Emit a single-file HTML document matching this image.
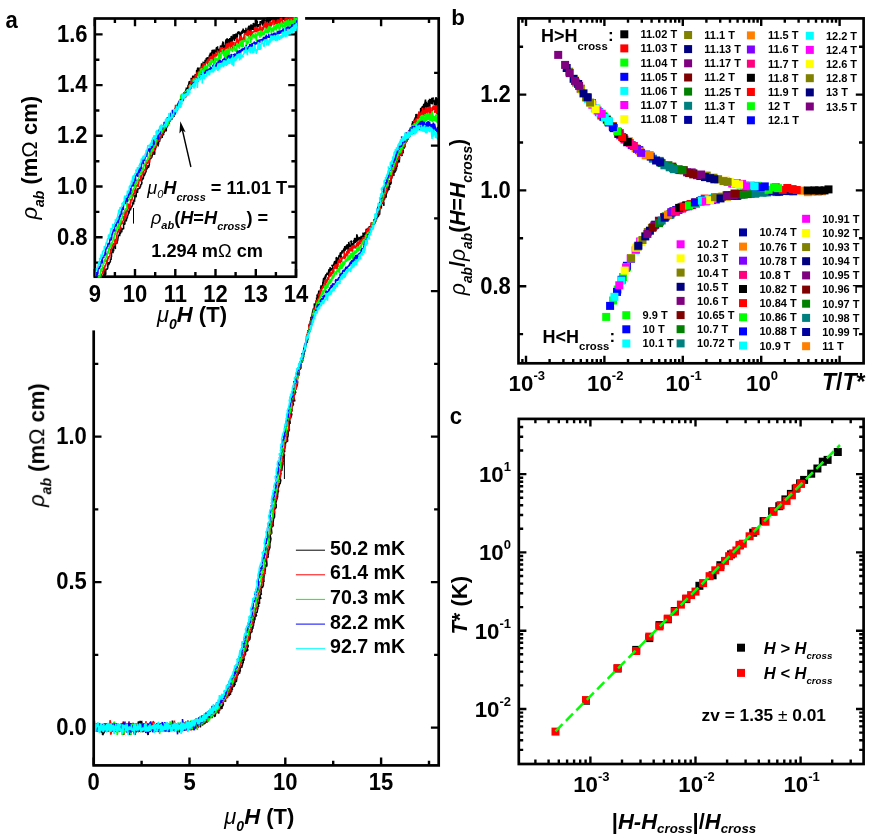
<!DOCTYPE html>
<html><head><meta charset="utf-8"><title>figure</title>
<style>html,body{margin:0;padding:0;background:#fff}body{width:872px;height:838px;overflow:hidden;font-family:"Liberation Sans",sans-serif}</style></head>
<body>
<svg width="872" height="838" viewBox="0 0 872 838" style="display:block;font-family:'Liberation Sans',sans-serif;font-weight:bold;fill:#000">
<rect width="872" height="838" fill="#fff"/>
<g style="opacity:0.9999">
<defs><clipPath id="cm"><rect x="93.7" y="18.4" width="345" height="747"/></clipPath><clipPath id="ci"><rect x="95.6" y="17.2" width="201.7" height="260.6"/></clipPath><clipPath id="cb"><rect x="518.5" y="18.3" width="345.1" height="345"/></clipPath><clipPath id="cc"><rect x="518.8" y="418.9" width="344.7" height="345.1"/></clipPath></defs>
<path d="M93.7 765.4L93.7 757.6M93.7 18.4L93.7 26.2M141.6 765.4L141.6 760.8M141.6 18.4L141.6 23M189.5 765.4L189.5 757.6M189.5 18.4L189.5 26.2M237.4 765.4L237.4 760.8M237.4 18.4L237.4 23M285.3 765.4L285.3 757.6M285.3 18.4L285.3 26.2M333.2 765.4L333.2 760.8M333.2 18.4L333.2 23M381.1 765.4L381.1 757.6M381.1 18.4L381.1 26.2M429 765.4L429 760.8M429 18.4L429 23M93.7 727.6L101.5 727.6M438.7 727.6L430.9 727.6M93.7 654.9L98.3 654.9M438.7 654.9L434.1 654.9M93.7 582.1L101.5 582.1M438.7 582.1L430.9 582.1M93.7 509.4L98.3 509.4M438.7 509.4L434.1 509.4M93.7 436.6L101.5 436.6M438.7 436.6L430.9 436.6M93.7 363.9L98.3 363.9M438.7 363.9L434.1 363.9M93.7 291.1L101.5 291.1M438.7 291.1L430.9 291.1M93.7 218.4L98.3 218.4M438.7 218.4L434.1 218.4M93.7 145.6L101.5 145.6M438.7 145.6L430.9 145.6M93.7 72.9L98.3 72.9M438.7 72.9L434.1 72.9" stroke="#000" stroke-width="2.4" fill="none"/>
<polyline points="92.9,730.7 94,728.8 93.5,728.2 94,724.7 94.5,723.7 94.3,720.6 94.6,729.3 95.5,726.4 96,731.5 95.9,729.2 95.7,725 96.9,727.4 96.6,723.4 96.1,730.7 97.9,725.3 97.6,725.9 97.7,724.6 98.2,731.5 97.8,725.5 98.4,726.1 99.2,731 99.6,729.8 99.9,728 99.3,724.4 99.1,724.2 99.9,730 100.1,729.7 100.8,727 99.9,726.6 100.8,726.2 100.4,731.1 101.2,730.2 101,732 102.2,731.8 102,729.8 102.4,724.5 102.4,731.2 102.1,724.7 102.6,735 104.3,731.8 103.1,728.6 103.6,727.3 104.8,724.9 104,724.8 103.9,728.9 105.8,729.7 106,723.8 104.9,730.1 106.3,726.5 105.2,726.3 106.7,724 106.1,730.4 106.5,723.5 106.4,730.3 107.8,730.7 107.7,724.7 106.8,727.2 107.8,730.3 107.7,731.2 108.6,729.4 109.4,728.3 109.7,728 109.3,723.9 108.9,731.8 109.7,725 110,727.1 110.3,725.1 110.5,729.6 110.6,725.3 111.3,727.6 112,727.3 111,724.3 111,723.7 111.5,728.1 112.9,726.1 111.8,725.7 112.5,725.1 112.3,723.3 112.7,727.5 113.5,725.6 113.9,731.8 114.5,731.4 113.8,728.1 113.8,725.1 114.3,724 115.3,723.9 115.1,731.5 116,723.7 116.4,724.5 116.7,729 115.7,730.9 115.9,730.6 116.3,729.3 116.1,730.4 117.3,731.9 116.7,727.8 118.3,728.2 118.8,727.5 118.4,724.7 117.8,728.9 118.1,725.5 119.3,724.6 119.1,729.9 120.3,728.1 119.4,730.2 119.9,732 119.3,730.2 119.6,731.2 120.9,729.3 121.3,725.4 120.9,728.4 120.6,724.1 122.1,724.2 122,730.8 122.4,724.9 122.8,722.8 122.4,731.7 123.2,724.6 122.3,726 123.5,725.4 123.3,731.4 123.4,729.7 124,723.4 124.7,726 124.3,731.3 124.1,729.3 125.5,729.6 125.4,729.4 125.2,731 126.5,727 125.8,727.9 126.6,723.7 126,727.4 127.3,727.5 126.3,724.1 127.1,727.7 128.3,729 127.3,725.4 128,729.4 128.2,723.2 128,729.6 128.5,729.5 129,727.5 130,735 129.8,724 129.9,731.6 129.4,726.3 130.1,724.7 131,723.4 130.4,727.1 131.2,730.2 131.4,724 131.4,730.3 132.1,729.9 132,724.6 132.2,727.4 132,729.6 132.4,726.5 133.1,729.8 132.6,723.2 133.9,724.1 134.5,728.6 133.7,733.7 134.8,730.6 134.6,728.5 134.5,731.6 134.8,732.8 135.8,729.8 135.8,731.4 135.1,730 136.5,727.9 137.3,730.3 136.7,729.3 137.3,728.3 136.4,727.2 136.9,728.3 137.2,725.5 137.4,730.2 138.2,729.4 138.7,730 138.5,721.3 138.1,723.4 139.9,728.5 139.1,723.2 138.9,723.8 139.6,728.7 139.9,732 140.2,720.8 139.9,724.8 140.4,728.7 141,724.1 140.6,725.3 142.1,723.9 141.5,720.9 141.9,729.7 143.2,732 142.2,723.7 142.7,723.6 144,728.2 144,724.9 143.4,726.7 143.4,725.1 143.4,729.8 145.1,729.1 144,729.5 144.9,727.6 145.5,728.3 144.8,724.5 145.5,729.4 145.5,730.2 145.9,724.2 146,723.3 146,726.3 147.7,724.8 146.6,729.4 148.1,735 148.5,729.7 147.4,726.8 147.8,730.8 147.6,726.3 148.4,726 148.2,725 149.5,728.5 149.3,730.6 149.4,729.3 150.6,728.9 149.7,731.8 151.2,730.2 151.4,724.8 151,730.6 151.4,724 151.1,727.6 151.7,723.9 151.3,723.5 153,723.4 153,724 152.5,725.1 152.4,724.7 152.5,727.4 152.6,725.6 154.3,725.3 154.2,726.7 154.1,728.3 153.6,728.1 155.2,727.7 154.9,728 154.5,730.9 155.7,727.5 155.7,725.5 156.8,727.5 156.6,724.4 156.4,730.3 156.1,728.2 156.7,723.8 156.8,730.6 158.2,730.7 157.4,729.6 158.7,730.4 158.7,724.1 158.2,727.3 158,732.1 158.8,729.2 159.3,729.6 158.9,725.2 159.3,731.5 160.2,723.3 159.6,731.9 161.2,728.1 159.8,729.9 160.7,728.8 160.7,726.8 162.2,727.7 161.9,730.6 161.1,726.7 162.5,726.9 162,723.6 162.8,731.1 163.5,729.8 162.6,727 163.7,726.5 163.3,730.3 164.3,724 164.1,724.4 163.7,727.9 165.1,731.5 164.5,724.4 165.2,728 164.9,726.2 166.1,724.6 165.6,727.1 166.4,728.7 166.4,726 166.6,725.7 166.4,726.8 166.6,731.1 167.2,730.8 168,731.5 167.2,725.6 168.8,728.6 169.1,725 168,725.7 169.2,724.3 168.5,726.2 169.1,725.1 169.3,731.5 170.8,728.5 169.4,724.2 170.2,727.9 171.4,727 170.1,724.5 170.3,725 170.9,727.3 171.3,728.6 171.4,727.9 172.4,727.3 173,724.7 172.5,728.5 172.4,720.6 173,723.7 173.4,723.2 174,724.9 174.6,728.7 174.1,725 174.4,726.4 175.1,726.9 174.5,730.1 174.9,726.9 174.7,722.9 175.5,724.7 175.4,725.4 176,730.5 176.8,727.9 176.1,725.8 177.7,727.8 177.1,726.3 177.9,725 178,723.8 177.2,728.5 178.4,724.4 178.7,727.5 178.1,725.3 178.9,724.4 179.3,732.5 179.5,724.3 180.1,726.1 180,725.5 180.5,722.8 181.3,724.4 180.5,730.6 181.3,727.4 181.6,728.7 181.3,729.2 182.3,729.9 181.5,726.9 182.4,727 182.1,723.8 182.4,729.8 182.8,726.9 182.8,730.9 183.3,728.2 184.5,725.1 184.5,722.9 184.4,726 184.7,730.7 184.2,729.9 185.7,727.8 185.4,729.3 186,724.9 185.8,729 186,726.9 186.2,728.7 186.4,726.6 185.8,726 187.2,726.6 188,727.4 186.6,725.1 187.4,724.6 187.9,728.2 187.9,720.5 188.4,724.9 188.6,723.8 188.6,725.7 188.8,727 190,721.9 189.9,727.7 190.4,723.5 189.3,727.1 190.7,722.3 190.9,722.3 191.3,724.2 191.7,724.4 191.9,728.6 191.5,726.1 191.5,723.2 192.1,726.4 192.6,721.9 192.8,728.9 193.1,726.1 193.2,725.3 192.9,728.9 194,729.6 194.6,721.3 193.7,729.4 194.9,727.9 194,722 195.7,723.2 194.3,720.9 194.7,723.5 196.3,722.7 196.1,728.4 196.7,723 196.3,723.2 197.2,721.9 197.8,726 197.4,721.3 197.3,721.6 198,728.1 197.6,720.4 198.4,725.6 199,720.3 198.3,720.3 198.7,721.4 198.7,722.7 199.6,719.4 199.3,723.2 199.2,720.4 200.3,720.4 200.5,727.4 200.1,721.7 201.1,720.6 200.4,722 202,723.1 201.7,721.1 202.6,725.5 202.7,721 203,717.9 201.9,720.2 202.1,723.7 204,718.1 202.8,716.8 203.8,719 203.8,717 205.1,723.2 204.2,724 205.2,715.1 204.2,719 205.5,718 204.7,719.1 205.7,721.6 206.3,721.6 205.4,717.8 207.2,722.7 206,717.8 207.2,720.1 207.2,720 206.7,721.4 208.4,718.1 207.5,719 208.2,719.5 209.3,715.1 208.2,715 208.4,719.3 210,714 208.7,719 208.8,718.8 209.1,718.2 210.1,716.7 209.9,716 209.9,715 210.5,715.6 211.8,715.4 211.9,718.1 212.3,714.3 211.9,713.3 212.9,712.6 212.2,717.5 211.8,716 212.3,715.3 212.9,712.5 212.7,715.3 213.7,710.6 213.1,713.9 213.8,713.6 214.8,716.9 214.8,716.7 215.6,711.9 215.2,716.1 215.3,714.3 215.1,712 216.5,710.7 216.1,710.4 217.2,711.7 216.4,712.7 217.7,708.2 217.2,708.8 217.7,708.9 217.6,710.4 218.8,713.4 218.8,707.2 217.6,710.5 218.3,710.9 218.5,706.4 218.8,709.2 219.6,707.5 219.8,710.2 219.6,710.2 219.5,708.8 220.6,705 220.6,708.7 220.6,705.8 221,707.8 222.1,708.8 221.3,705.1 222.4,705.2 222.1,707.3 222.9,705 223.1,705.6 223.3,704.6 223.2,701.1 223.4,701.4 223,701.2 223.9,697.8 224.1,701.6 224.2,699.1 224.3,701.2 224.6,700.2 225.1,698.1 225.6,700.9 225.4,701.8 225.4,697.1 225.4,696.3 226.9,698.2 226.7,695 227.1,698 227.2,694.5 227.6,697.2 227.7,694 227.7,695 227.9,693.5 229.2,693.6 229.4,692.6 229,695.8 229.4,695.2 229.7,693.8 229.4,693 230.6,694.7 230.2,690.7 230.5,692.4 230.5,693 230.2,692 231.8,691.4 230.6,687.6 231.4,689.7 232.7,689.4 232,688.5 233.3,685.3 231.9,686.1 233.5,685.1 233.2,685.2 233.3,686.6 234.4,686 233.4,682.7 233.8,685.1 234.2,684.9 235.3,684.6 234.6,683.1 234.9,683.6 235,679.8 236.3,682 236.4,681.2 237,676.9 235.8,679.7 236.9,679 236.4,678.4 236.8,674.9 237.6,676.5 237.1,675.9 238.2,673.1 238.2,673.8 238,675.5 238.5,671.9 238.3,671.6 239.5,673.7 239.8,671.3 239.9,668.7 240.4,671.3 239.6,670.9 239.6,669.1 241.3,666.9 240.8,665.9 241.8,667.6 242.1,666.3 241,666.6 242.4,665.2 242.6,662.4 243.3,663.4 243.1,659.8 242.1,660.4 244,660.5 243.8,658.3 244.5,659.6 243.2,657.6 243.9,657.4 244,655.4 245.5,655.4 244.3,655.5 245.3,654.5 245.6,654.4 245,651 245.2,651.9 246.1,651.8 246.2,650.4 247.6,650.6 247.8,649.7 247.1,648.8 248.2,646.1 248,644.9 247.1,645.6 247.6,642.2 247.9,641.3 248.4,640.5 248.7,639.6 248.7,640.6 250,638.9 249.7,636.5 250.1,638.8 250.1,635.6 249.6,639 249.8,635.9 250.8,632.1 251.1,632 252,632 251.8,630 251.6,631.1 252.9,626.9 252.7,626.7 252.9,628.8 252.9,625.7 253.9,625.9 253.4,625.4 253.8,622.4 253.8,622 254.3,622.5 253.7,618.6 254.8,620.3 255,617.9 254.4,619 255.8,614.7 256.1,616.9 255.4,612.8 256.7,616 255.6,613.3 257.1,612.4 257.6,608.5 256.6,607.3 257.8,608.8 258.1,608.6 257.1,607.2 258.7,606.6 258,602.1 258.8,603 259.5,603.8 259.5,600.4 259.5,601.1 258.8,597.1 260.6,598.8 260.8,598.2 259.8,595.6 260.9,594.4 261.7,593.6 260.9,593.6 261.2,590.2 260.8,589 261.3,586.1 262.2,588 263.3,585.5 263.4,582.4 262.7,582.9 264,581 263.9,581.8 263.8,579.2 263.6,580.4 264,576.7 263.8,577.1 264.6,573 264.2,574.2 265.3,572.8 264.7,572.8 265.4,568.9 265.2,568.2 265.8,564.8 266.8,566.5 266.9,564 266.4,558.7 266.4,558.6 266.8,557.5 268,557.4 268.2,555.6 267.4,553.6 268.2,554.8 268.6,550.8 269.8,547.8 268.9,547.5 269.9,547.8 269.8,543.3 270.1,542.8 270.6,540.4 270.9,538.6 270.3,536.5 270.1,534.6 271,534.2 270.6,532.8 271.8,533.5 271.3,528.1 271.6,527.3 273.3,525.6 273.2,524.6 272.2,524.4 273,523.9 273.6,517.5 273.9,517.1 273.8,518.4 274.5,517.1 274.6,512.1 274.3,511.1 274.6,509.7 275.5,507.8 276.1,508.2 276.2,504.8 275.6,503.4 275.3,505 276.9,498.4 276,501.7 277.6,496.8 277.5,495.8 277.3,495.6 277.4,496.1 277.9,492.2 278.5,491.3 277.8,488.4 278.4,487.9 279.4,484.3 278.4,486.3 279.6,483.3 280,484 280.8,480.1 280.1,479.2 280.2,479.2 279.8,477.4 281.1,472.5 280.5,474 280.6,470.1 281.8,470.7 282.4,463.8 281.7,469.4 282.8,464.4 283,463.9 282.5,462 283.2,462.1 282.9,459.5 283.7,456.3 283.4,455.3 284.8,455.5 283.6,454 284,450.9 284.7,452 284.5,449.4 285.4,445.8 285.1,445.3 285.5,445.7 285.3,444.4 285.9,441.9 286.2,441.8 287.6,441.2 287.4,438.2 287.2,438.5 288,435.9 288.1,434.1 288,430.2 288.9,431.3 289.4,429 288.9,429.8 289.2,424.6 289.4,420.9 290.1,421.8 290,423.9 289.7,419.1 289.7,417.4 291,417.2 291.3,416.1 291.8,414.2 290.6,412.1 291.3,410.3 292.1,411.4 291.8,409.2 291.9,406.2 292.6,405.9 293.5,404.2 292.4,401.2 293.6,401.7 293.3,401.5 293.9,397.6 294.9,401.5 293.6,396.6 295.5,392.5 295.3,392.1 295.8,393.3 294.7,388.9 295.5,388.2 296.3,389.5 295.4,389.2 296.6,386.8 297.4,384.2 297.5,381.5 296.4,380.7 297.5,380 297.6,379.7 297.3,380.2 297.8,372.8 299.2,374.6 298.9,374.8 298.5,375.6 298.7,372.5 299.2,368.3 298.9,369.4 300.4,369.1 299.4,366.2 301,368.7 300.7,365.7 301.1,363.6 300.6,364 302.1,359.9 302.4,362.5 301.3,360.2 302.2,361 301.9,359.8 302.7,358.6 303.7,356.1 303.5,353.7 303,352.9 303.3,353.8 304.1,349.7 303.7,350.1 304.7,347.6 305.3,347.4 305.7,345.7 304.7,347.3 305.2,344.7 305.4,346.1 306.5,341.7 306.9,342 306.7,340 307.1,338 307.3,340.2 308,339.2 307.6,336.2 308.4,333.2 308.8,331.3 307.8,330.2 308.4,333.2 309,330.7 309.5,330.2 309,326.2 309.2,326.7 308.8,324.7 310.5,328.2 309.9,323.9 310.7,324.3 311.1,324.8 310.3,320.6 310.6,323 311,316.9 312.4,322.9 312,317.5 312.2,314.8 312.4,317.3 312,315.9 312.7,311.5 313.5,308.4 314.3,310.9 313.5,309.8 313.9,308.7 314.8,306.1 314.9,307.6 314.4,307.5 314.3,303.6 315,304.8 315.9,303.6 316.6,303.3 315.7,301 316.5,305.8 317,302.9 316.7,301.1 316.6,297.4 318,299.8 317.1,294.5 317,296.4 318.8,296.9 318.1,297.2 318.1,294 318.8,292.6 318.7,291.9 318.8,290.6 318.6,293.2 320.5,290.8 320,291.9 320.8,288.8 321.3,290.2 320.5,287.3 321.5,287.9 321.3,288.9 320.8,285.5 321.7,288.3 322.1,287.4 322.8,284.1 322.8,282 323.4,283.3 323.6,280.9 323.4,281 324,284.1 323,282.7 323.7,277.8 323.9,282.4 324,278.7 325.3,279.2 324.5,276.5 325.3,278.8 326.1,275.6 326.2,276.6 325.2,276.3 326,274.5 327.1,274.8 327.6,272.8 326.9,274.5 326.9,272.7 326.9,274 327.2,272.9 328.1,274.3 329,269.4 328.8,276.5 329.4,272.9 328.7,270.1 328.9,269.7 330.2,271.9 329,269.9 330.8,267.7 329.5,268.1 329.9,268.1 331.1,270.9 330.8,270.4 331.8,268.1 331.6,269.9 332.2,269.5 332,269 332.9,267 332,264.8 332,266.2 333.2,265.2 333.6,265 333.8,264.4 334,265.4 334.1,265.7 333.7,264.7 334.7,261.2 335.6,265.2 334.5,264.8 335.5,261 334.8,265 336.6,259.6 335.3,262.5 336.9,262.7 337.1,269.2 336.9,257.8 336.1,257.6 336.3,260.2 338,261.3 337.2,260.4 338,260.1 338.8,259.9 338.1,259.5 339.6,258.9 338.3,259.3 339.1,255.5 340.2,255.1 340.3,253.7 340.6,257.8 341,252.6 340.1,253.2 340.6,255.1 341.6,257 340.8,258.1 341,253.7 342.2,250.9 342,253.6 342.4,250.3 341.8,251.7 343.5,250.7 343.8,248.9 343.9,252.7 344.3,252.2 344,250.8 343.5,248.7 343.8,248.8 344.6,251.7 343.9,250.6 344.3,250 344.8,246.2 345.1,250.6 346.1,247.3 346.5,245.7 346.8,246.1 345.6,246.8 347,245.2 346.3,246.4 347.5,244.3 346.6,248.5 348.5,249.2 348.5,245.1 347.5,247 348.2,244.3 348.2,247.4 348.9,246.4 348.7,241.9 349.4,245.5 349.7,247.3 349.3,246.3 351,245.4 350.9,246.9 351.3,242 350.5,241.4 350.4,241.6 351.9,241.1 351.2,243.6 352.8,243.9 352.5,244.8 352.9,245.5 352.9,244.1 353.8,244.4 353.9,240 354.2,243.6 353.6,243.4 354.1,243.4 354.5,240.3 354.4,238.6 355.6,238.5 354.4,242.6 354.9,242.5 354.6,241.6 354.8,242.5 356.1,241.8 355.5,242.3 355.8,239.6 355.9,239.4 356.9,241.7 357.8,237.4 356.6,240.2 356.8,234.4 358.6,240.4 358.8,238.9 358,238.8 359.4,238.3 359.1,238.3 358.7,237.3 358.7,238.1 360,237.4 360.3,240.8 361,236.9 361.3,239.2 361.4,237.9 361.2,235.8 360.7,239.2 361.3,239.5 362.5,239.1 361.8,237.2 362.5,236.3 362.9,236.7 363.1,234.8 363.4,234.5 363.4,236.5 362.9,232.6 363.3,234.3 364.3,237.1 364.6,235.4 365.3,232.3 364.4,234.2 364.1,233 365.4,234.5 365.9,233.6 366.5,231.9 366.3,234.2 366.7,230 365.9,233.2 366.2,228.8 366.3,229.3 367.4,229.4 367.5,231 367.2,232 368.2,228.2 367.9,228.6 368,229.8 369.5,226.3 369.3,229 368.4,227 370.1,229.3 369.7,228.8 370,227.5 370,228.7 369.9,227.6 371.2,226 371.7,225.9 371.4,227.5 372.2,227.6 371.3,224.9 371.8,223 373,224.7 371.8,224.9 372.8,225.8 373.4,224.9 372.7,223.6 374.2,221.1 374.5,220.8 374.3,222.8 375,223.3 374,219.2 374.1,220.7 374.7,220.7 375.9,220.1 375.6,221.9 375.4,217.5 375.7,216.6 375.5,218.7 376.7,215.2 377.2,216.9 377.4,218.2 377,217.4 377.2,217.5 378.3,215.9 378.3,211.1 378.3,216.5 379,214.4 378.4,208.8 378.1,214.6 378.4,213.3 379.3,212.9 379.9,208.3 379.6,214.7 379.5,208.7 380.4,207.2 380.2,206.3 381.3,208.5 381.4,205 380.7,205.4 381.4,204.2 381.4,204 382.6,202.3 382.1,204.1 382.8,202.1 383.8,201.8 383.9,205.8 383.2,200 382.8,202.2 384.8,197.8 383.6,197 384.6,197 384.7,199.1 384.7,199.4 384.8,195.1 386.2,197.5 386.1,194.6 386.6,193.2 385.5,189 385.8,191.2 386.4,191.4 386.3,192.9 386.6,190.1 387.1,192.3 387.6,191 388.8,186.7 387.6,189.5 389.3,189.5 388.4,187.2 389.6,186.3 389.6,187.7 389.3,183.5 390,184.7 389.7,180.2 389.9,181.3 390.3,184.5 391.2,182.9 390.9,181 391.3,177 391.2,180.3 391.5,176.2 392,178 391.6,177.4 391.7,178.6 391.9,177.2 393.7,173 394,175.9 392.9,170.5 393,170.2 393.1,171.6 394.6,173.3 393.9,172.7 394.4,168.7 394.8,172.5 396.1,170 394.8,169.7 395.8,165.7 396.5,169.4 396.4,166.2 397.1,165.9 396.5,166 397.5,167.1 397,166.5 397.3,162.4 398.5,162.8 397.5,162.8 399.1,159.8 398,161.6 398.7,162.1 399.7,156.6 399.3,160.9 399.3,162.6 399.3,153.5 400.4,154.4 399.5,154.7 400.7,154.1 401.5,155.7 401.1,151.8 401.9,151.9 400.8,149.9 400.9,154.5 402.2,155.9 401.4,152.5 403.2,152.9 403.1,149.7 402.4,149.8 402.6,146 404.2,148.5 404.4,144.8 404.8,143.3 404.8,144.4 405,147.4 404.6,142.3 404.3,140.1 404.6,142.2 405,142.1 405.9,140.9 406.8,137.9 406.3,141.2 405.6,142.1 406.9,141.3 406.7,134.9 407.3,134.9 407.1,138.2 408.6,138.7 407.4,139.2 408.5,137.8 408.8,131.4 408.6,137.6 408.8,134.9 409.8,129.2 410,134.5 410.4,128.5 409.8,132.5 411.1,133.9 409.8,128.3 411.6,128.4 411.4,132.4 410.8,129.6 411.6,130.6 411.8,130.1 411.1,127.7 412.7,127.1 411.7,123.5 413.2,126.3 412.9,123.6 412.6,121.2 412.7,127.3 413.7,124.1 413.3,126.4 414.6,123.9 413.8,124.7 414.9,120.4 414.2,121.1 414.6,118.9 414.7,120.8 415.2,117.4 415.7,117.8 416,117.5 415.7,119 416,114 417.3,117.7 418,114.6 417.4,116.9 417.8,114.7 418.3,115.8 417.4,118.6 418.8,113.1 419.6,112.8 419.4,118.3 419.6,115 418.6,114.3 420.6,114.1 420.6,108.9 421,108 420.4,114.2 420.9,112.3 421,112.8 421.3,109.1 422,107.8 421.7,112 422.3,111.3 421.7,109.3 422.2,110.1 422.2,106.6 423.2,107 422.9,110.1 423.8,103.9 423.2,109.3 424.4,110.9 424.2,108.4 425.1,103.5 425.6,107.5 425.7,109.6 425.1,110 424.8,103.8 425.5,99.6 425.8,108 426.7,110 425.9,103.8 426.3,103.6 426.5,101.8 426.4,104.2 427.5,103.4 427.5,107.1 428.8,100.7 428.4,100.9 429,108.1 429.6,101.3 429.2,104.7 429,100.4 429.9,106.9 429.6,98.7 429.2,107.6 429.8,103.5 429.9,102.6 431.4,102.7 430.7,99 430.5,101.8 431.5,103.6 431.4,103.8 431.8,97.8 432.1,100.5 432.4,104.4 431.9,103 433.3,97.5 432.6,102 433.7,99.8 433.7,100.5 433.9,101.1 434.5,104.9 434.6,100.4 434.8,102 435.8,102.7 435.4,99.9 435.9,97.3 436.3,98.1 435.8,105.9 436.9,99.6 435.6,97.6 436.9,105.5 436.6,104.6 437.9,100 438.2,108.1 437,99.2 438.2,98.9 438.7,97.7 438.1,104.5 439.1,98.4 439.8,104.3" fill="none" stroke="#000000" stroke-width="1.6" stroke-linejoin="bevel" clip-path="url(#cm)"/>
<polyline points="92.8,727.5 93.7,725.4 94.5,728.9 95.2,727.4 94.2,727.5 94.2,728.9 95,726.4 94.6,730.1 95.8,729.8 96.4,726.5 96.5,724.4 97.3,728.2 96.7,731.1 96.7,730.1 96.6,730.4 97.5,727.3 97.2,731.9 98,725.2 98.6,725.1 98.2,727 99,731.4 98.2,727.2 98.7,724.3 99.4,729.8 99.5,729.4 99.5,725.6 100.6,729.1 99.6,723.2 100.5,728.4 101,731.4 101.8,728.2 102.2,730.4 101.6,726.2 102.6,729.8 103.1,728.8 103.1,726.5 103.1,730.8 103.2,730.2 102.9,731.8 103.8,729 103.8,725 103.2,731 104.6,723.1 104.5,730.4 104.3,730.9 105.8,730.5 105,726.3 104.6,729.5 105.6,724.3 106,729.6 105.7,723.7 106.3,728.3 106.9,725 106.2,731.4 107,725.7 106.8,727.8 107.2,731.3 107.8,730.8 107.4,729.9 108.3,731.1 107.9,724.4 108.6,726.8 108.8,730.4 109.7,729.4 109.2,725 110.3,727.5 109.8,728.4 110,720.2 111.6,726.6 110.2,724.9 110.8,734.6 111.8,730.3 111.7,726.2 111.4,726 112.6,730.6 112.6,726.3 113.5,730.3 113.6,723.3 114,725.5 114,724.3 114.2,729.2 113.4,724.6 113.9,727 114,730.6 114.3,729.1 114.8,728.5 115,731.9 115,723.6 115.8,731.1 116.8,729.8 115.5,723.3 117,731.8 116.1,727.2 116.4,729.7 117.4,727 117.6,723.9 117,723.8 118.2,725.8 118.1,723.8 117.7,725.3 119,724.9 118.3,725.1 120.1,729.1 118.9,725 118.8,726.9 119.8,728.4 119.7,725.1 120.7,727.7 121.6,729.2 120.2,729 121.6,728.3 121.6,726.3 121.3,731.9 121.7,731.4 122.6,728.4 122.6,726.7 123.4,721.4 123.5,729.6 123.3,728.1 123.7,729.4 123.8,727.2 123.9,735 124.4,725.6 124.8,726.4 124.4,732.2 125.2,721.5 124.7,729.9 125.1,727.3 126.5,723.6 125.7,727.5 126.7,730.5 126,725.2 127.3,723.8 126.2,727.2 126.8,730.6 128,726.9 128.3,730.7 127.5,723.7 127.5,724.4 129,725.2 128.4,730.9 129.1,726 128.5,729.8 129,721.4 130.2,726.1 129.6,729.3 129.6,727.9 129.8,728.9 131,725.4 131.6,729.8 130.9,728 132,725.1 131.5,725.8 131.4,729.5 132.4,729.5 133.2,728.7 132.3,727 133.4,731.1 133.2,728.2 133.2,724.6 134.5,726.4 133.6,729.3 134.9,727.9 135.2,735 135.6,724.3 134.7,724.5 135.1,730.1 135.9,730.3 135.5,723.4 136.8,726.9 135.4,728.8 137.3,726.9 136.1,728.9 137,726.3 137.2,729.8 136.9,723.4 138.2,730.6 138,727.1 138.5,731.6 139,728.7 139,731.4 138.1,731.6 139.1,726.5 140,730.4 140.3,725.7 140.1,726.2 140.3,723.4 140,731.1 141.4,731.9 140.5,725.7 140.9,729.4 142.3,727 142.4,723.3 142.4,727.2 142.3,730.2 142.9,727.7 142.3,728.1 142.8,725.3 143.3,726.1 143.1,725.6 144.1,731.2 143.3,730.5 143.8,730.7 145.2,729.6 144.8,725.4 144.1,723.6 145.1,729.2 146.1,721.2 145.3,731.9 145.3,731 146.1,729.8 146.9,727.4 146.8,723.9 147.6,729.1 147.9,731.1 147.5,725.8 148,728.9 148.8,726.5 147.8,725.7 147.9,730.7 149.3,731.2 148.9,730.1 148.9,729.6 148.9,724.4 150.3,723.7 149.2,725.4 149.9,722.4 149.6,728.4 151.2,723.7 151,724.9 151.8,727.7 152.3,728.3 151.9,722.6 152.1,723.9 153,729.6 153.3,731.6 153.4,730.1 152.8,726.9 153.1,721.3 154.3,723.2 154.1,725.6 154,727.7 154.1,730.8 154.7,729.9 154.7,724.2 154.6,727.4 156,728.3 155.9,724.3 155.2,729.3 155.4,726.7 157.1,724.7 156.9,730.1 156.7,726.3 157.2,723.9 157.3,727.6 157.3,728.2 157.6,728.8 157.1,723.4 158.4,728.5 159.1,729.8 158.6,726.9 159.6,731.4 159.7,729.7 160,728.5 160.6,726.4 159.2,727.9 160.5,731.3 160.7,724.1 160.2,726.7 160.3,728.9 160.9,728.9 161.8,724.7 161.4,723.6 162.2,730.9 161.5,728.9 162.7,730.4 162.3,730.3 162.8,730.5 162.6,727.7 163.3,730 163.5,728.3 164.7,723.9 164.5,723.3 165.1,729.5 164.7,725.7 165.3,730.3 165.1,731.8 166,729.5 165.3,728.9 166.5,728.8 165.5,724 166.5,730.4 166.2,726.6 167.8,727.3 167.5,724.3 166.7,724 168,724.7 167.2,729.3 168.4,730.7 169.2,730.1 169,730.3 168.2,730.2 169.2,729.6 169.4,725.3 169.4,724.4 169.3,726.4 169.5,724.2 169.8,724.7 170.1,728.9 171,730.6 170.5,728.1 172.2,723.5 171.8,727 172.6,729.4 171.5,728.1 173.1,724.6 173,730.3 173.5,728.6 172.9,724.5 173.2,725 174.2,728 174.6,728.4 173.7,728.9 174.5,720.6 174,727.9 174.3,725.5 175.5,725.8 176,726.6 175.1,726.8 175.8,723.5 176.7,729 176.4,728.7 177,728.2 177,726.4 177.9,726.8 176.8,727 177.5,725 177.2,727.6 178.1,728.4 178.6,723.3 178.4,728.5 179.4,727.7 178.9,730.5 180.1,727.4 179.3,726.3 180.3,726.5 180.6,725.8 180.4,724.8 180.9,730.7 181.6,723.5 180.8,726.7 180.6,722.3 181,727.9 181.6,728 182.4,729.4 182.9,730.4 182,723.9 183.8,722.1 182.8,730.6 184.2,727.7 182.8,724.4 183.7,722.5 184.5,728.7 184.8,722.7 185.6,729.5 185.8,726.7 184.8,728.3 185.8,722 186.3,727 186,723.1 186.1,729.3 186.3,726.9 186,729.7 187.6,723.4 187.4,730.4 187,730.3 186.9,721.8 187.8,729.4 187.6,727.4 189,724.2 188.6,729.4 189.4,723 189.4,727 189.8,726 189.6,726.4 190.1,722.2 190.6,728.1 190.3,724 190.2,730.5 190.6,721.3 192,723.4 190.6,729.8 191.9,729.6 192.8,722.2 191.8,724.3 192.1,729.6 191.9,723.1 192.2,724.2 193.1,726 194.2,720.7 192.9,723.2 193.6,723.4 193.3,721.1 195.3,726 194,724.5 195.5,721.8 195.8,728.6 196.1,724.2 196.6,727.5 196.1,721.8 197,724.3 196.1,718.7 196.6,719.6 197.3,719.4 197,721.3 197.1,721.7 197.5,721.3 197.6,726.7 198.6,726.8 199,725.4 198.5,725.1 199.2,725.6 198.8,719.6 199.5,726 199.9,718.8 199.1,719.7 199.7,721.5 200.4,724.9 200.2,723.7 200.6,723.5 200.3,722.5 200.6,719.3 201.2,717.8 202,717.8 202.4,723.9 202.2,719.6 203.4,724.4 203.4,722.1 203.8,721.5 204.2,717.4 203.2,719.4 203.4,723 204.4,721.4 203.9,716.7 204.1,721.9 205.2,720.4 205.3,721.2 205.6,722.1 205.9,716.7 205.8,719.8 207.1,718.1 206.7,718 206.8,712.8 206.4,720 207.6,717.9 208,714 208.5,716.2 207.9,718.4 208.2,718.6 208.2,719.4 208,716.6 208.6,716.2 209.2,717.8 208.9,719.9 210.5,716.8 210.2,715.4 209.4,713.4 210.6,716.5 211,713.6 210.5,712.2 212.1,714.6 210.7,716.8 212.2,712.6 212.5,711.6 211.8,711.4 211.8,714 213.4,711.5 212.2,713.7 213.2,710.4 213.6,710.6 213.2,710.4 213.9,712.6 214.3,714.9 215.2,710 214.3,709.4 215,709 215.1,710.4 216,711.6 214.8,712.5 215.8,713.5 215.4,709.6 217.3,713.1 216.7,708.6 216.9,712.4 216.5,707.3 217.7,712.1 218.4,703.4 217.9,706.7 217.5,709.4 217.6,707.2 218.3,704.6 219.5,708.1 219.4,710.4 218.8,704.9 219,705.3 219.7,704.1 219.7,707 220.3,703 220.1,701.9 221.3,705.6 221.4,704.1 221.1,704 221.2,703.3 221.5,703 221.7,700.2 223.1,701.5 223,702.9 223.3,702.3 222.8,703.5 224.2,699.8 223.7,697.8 223.9,700.1 224.4,700.3 224.9,699.2 224.9,701.4 224.9,698.3 224.5,697.3 226.2,698.8 226.3,697.4 225.7,696.8 225.3,694.1 226.7,695.5 226.4,692.9 227.2,695.1 226.4,692.2 228.2,692.2 227.1,695.9 227.6,697.8 227.8,691.5 227.8,691 228.3,690.9 229.4,692.5 229.9,693 229.7,692.7 229.1,688.9 230.6,691.3 230.2,688.8 230.2,688.1 231,685.2 231.5,685.5 230.8,686.3 232.1,686.1 230.9,686.2 232.6,686.2 232.3,685.4 232.8,685.4 233.5,681.4 232.7,683 233.7,682.5 232.6,683.1 234.5,679.7 234.1,681.4 233.9,678.5 234.7,678.3 234.5,681.2 235.2,676.2 234.6,677.6 236,675.1 235.8,678.8 236.3,674.6 236.8,676.2 235.7,675.8 237.5,675 237,674.1 238,673.2 236.8,672.1 237.6,671.6 238.6,668.9 237.8,669.6 238.3,668.4 239.5,668.8 238.7,669.9 239,669.6 239.5,667.5 240.1,665.4 240.3,665.7 239.5,665.1 240.7,665.4 240.2,661.5 241.1,664.1 241.1,660.5 240.7,660.4 242,658.4 241.7,658.4 241.7,658.7 243.3,657.2 243.5,655.4 243.8,658.5 243.1,657.5 242.8,654.6 244.4,655.6 244.5,652.8 243.9,651.7 245,651.5 245.2,652 244.2,649.2 245.2,649 245.5,649.9 245.4,645.6 246.6,647.7 245.7,645.1 246.6,643.6 247,645.8 247,640.8 247.8,640.1 246.9,639.7 247.2,642 248.2,640.7 248.5,636.5 248.9,635.8 249.5,637.5 249.5,634.2 249.1,633.2 249.5,632.5 249,632.5 249.5,633.5 250,629.8 250.5,629.6 251,629.1 251.4,627.1 250.5,627.6 250.9,624.3 252.3,623.7 252.4,624.7 252,623.8 252.8,623.1 251.8,620.3 253,619.9 252.6,618.8 252.6,617.3 253.4,616.9 253.3,617.1 254.3,614.3 255.2,612.8 255.1,614.2 254.6,613.7 255.6,609.2 255.2,610.7 255.1,608.6 256.6,609.1 257,606.1 255.6,603.6 255.8,605.9 256.9,604 258,601.3 258.2,602.6 257.4,600.1 257.6,600.4 257.5,597.7 258,596.9 258.9,596.2 258.1,595.5 258.9,593.4 258.7,592.5 259.3,592.3 259.7,591.3 259.3,589.1 259.8,589.3 260.3,586.7 261.6,586 261.9,583.4 262,581.7 262.2,582.1 262.1,581.3 262.2,578.9 263.1,579.6 262.7,576.3 262.8,575.2 262.8,574.1 264,575.4 264.5,570.2 264,571.1 263.8,571.3 265.3,566.9 264.4,568.3 265.5,567.5 264.5,563.5 264.8,562 264.9,561.7 265.3,561.8 266.3,557.6 266,558.7 266.6,557.2 267.3,553.8 267.2,550.9 268,553.2 267.7,549.2 267.9,547.9 267.8,546.4 269.1,546.6 269.4,542.4 268.6,540.8 268.3,541.5 268.8,538.9 269,537.9 269.1,534.2 269.8,532.4 271.3,534.1 269.9,528.8 271.2,528.4 270.7,528.5 270.7,527.7 271.7,526.2 272,522.6 271.3,520.9 271.9,517.8 272.6,517.5 273,515.5 272.8,514 273.1,513.8 274.5,511.8 273.7,509.6 273.9,510.3 274.2,505.7 275.4,504.5 274.1,505.3 275.2,503.1 275,500.2 276.3,500 275.5,496.1 276.5,497.8 276.3,496.6 277.5,491.6 276.4,490.2 276.4,492.1 278,490 277.1,485 278.5,484.2 277.4,482.7 278.9,481.5 279.3,481.9 278.1,481 279.6,479 279.7,477.8 280.4,477.1 280.7,473.4 280.2,471.9 280.2,470.3 281.1,470.2 281.6,465.6 281.7,466 281.6,466.1 281.8,463.8 282.4,460 283.1,459.1 281.7,458.4 282.3,456.3 283.7,454.7 283.4,453.3 283.8,454.9 283,449.6 283.7,449.1 284.1,450.3 285.3,445.4 284.6,444.4 284.3,446.1 284.4,443 284.7,440.9 284.9,440.8 286.8,440.7 285.9,439.2 286.3,436.7 286,435.2 287,431 287,430.4 286.6,431.7 288.1,430.4 288.8,425.9 288.8,428.7 289,428.3 287.9,422.1 288.4,421.5 289.8,418.5 289.3,418 288.9,418 289.7,418 290.6,418.9 290.1,414.9 290.4,414.5 291.8,410.8 291.2,407.6 291.4,409.8 292.1,405 291.2,407.4 291.5,402 292,405.1 291.8,401 292.8,399.9 292.9,399.7 294.1,399.4 293.7,395 293.1,396.9 295,394 294.9,392.5 293.9,392.9 294.3,390.1 296,387.3 296.1,388.8 296.6,385.4 295.4,387.3 296.3,385.1 297.2,383.7 297.6,381.6 297.2,381.6 297.3,379.1 296.6,377.2 297.6,378.7 298.1,374.9 297.9,372.3 299.2,371.4 299.1,375.3 299.4,372.9 298.8,372.3 299.9,367.4 299.6,368.6 299.6,365.8 300.5,367.7 300.8,366.1 300.1,362.8 300.5,367.6 300.8,362 301.8,360.5 301,358.4 301.5,359.1 303,361.1 302.5,354.6 303,355.9 303.5,354.4 304,352.6 304,354.5 304.1,352.8 303.7,351.5 304.2,348.9 304.1,348.3 305.6,348.3 304.1,346.8 306.1,346.6 305,346 305.7,343.8 306,343.1 306.5,341.6 306.2,339.7 307.3,339.5 306.7,339 306.4,336.6 307.1,334.2 308.6,336.2 307.9,336 307.4,332.5 307.8,334.6 309.5,332.2 309.2,327.1 309.9,328.9 309.8,330.3 308.8,329.9 309.1,324.9 310,322.8 310.2,322.9 310.6,321 310.9,321.5 312,323.8 312.2,319.8 311.5,318.5 311.1,318.9 311.9,320 312.4,316.2 312.7,314.4 312.9,313.7 312.9,313.2 313.2,314.3 314.2,308 314.1,312.7 313.4,310.8 314.8,314.9 315.3,309.8 314.4,312.2 315.2,307.7 316.3,304.3 315.9,304.4 316.3,304.1 316.5,303.1 315.6,300.3 317.4,306.6 317.4,299.7 317,302.5 316.7,301.5 317.8,300.9 318.6,300.8 317.8,299 317.9,299.9 318.1,298.4 319.4,298 319,294.9 319.6,293.7 318.8,294.8 319.8,296.5 320.4,291.3 319.8,292.8 319.9,293.7 321.7,293.4 321.5,292.6 320.6,289.9 320.9,289 322.3,292.2 321.5,289.7 322.9,286.5 323,287.6 322.6,288.2 322.9,286 323.2,287.1 323.3,287.8 323.9,284 323.7,284.2 325.2,285.7 324.5,286 325.8,285.3 325.8,283.7 325.8,282.7 326.1,280.4 325.1,283.1 325.4,281.7 325.7,279.2 326.5,280.5 326.6,282.7 327.8,279 327.5,277.2 328.3,278.2 328.1,280.2 328.9,276.5 328.7,278.4 328.1,279.8 328.1,277 328.4,277.8 329.4,276.6 329.4,274.3 330.2,272.6 329.6,275 331.1,272.2 330.5,274.2 330.3,276.6 331.5,274.4 331.1,275.5 332.6,270.8 331.2,275.2 332.8,271.7 333.2,269.1 333,274.2 332.4,270.1 332.5,273.4 333.9,271 333.9,272 333.6,267.2 334.5,268.6 335,267.3 334,266.2 335.7,267.6 336,268.2 335.6,265.5 334.9,264.4 336.2,266.2 336.8,267.4 337.3,266.7 335.9,268.7 336.4,264.5 337.9,264.2 338.3,264.6 338.5,264.7 338.3,266.7 337.6,265.8 337.9,265.9 338.2,260.5 338.4,262.6 338.7,260.5 339.4,260 339,262.7 339.9,261.8 340.7,263.6 340.1,261.9 341.3,259 340.1,258 341.9,258.9 341.3,262.1 341.4,258.7 342.3,257.5 341.6,258.8 341.6,257.6 343.3,258.2 343.4,257.2 343.7,257.9 344.3,256.8 343.3,255.8 344.8,259 344,251.4 344.3,255.6 344.1,255.2 345.2,258.2 345.5,253.5 344.8,256 345.5,256.9 346.8,252.4 347.1,251.4 346.5,255.3 347,256.1 346.8,254.1 347.9,253.7 346.9,255.9 346.8,253.4 347.1,252 347.8,250.2 348.1,252.6 348.6,251.9 348.7,251.7 349.3,253 348.7,253.1 349.5,248.4 349.2,248.5 350.7,248.4 350.6,251.4 350.4,248.4 351.5,247.5 351.5,248.8 351.9,251.3 350.9,246.8 351.9,250.4 352.6,251.5 352.5,246.3 351.9,245.8 353.1,248.1 352.8,248.6 352.7,246.7 353.5,246.1 354.1,244.9 354.1,248.5 354.4,245.8 354.6,247.5 355.2,245.7 355.8,248.6 355.5,246 356,246.9 356.6,247.2 356.3,244.5 357.3,243 357.5,246.2 357.2,243.2 357.5,242.9 357.1,243.2 358,242.1 358.8,243.2 357.4,245.4 358.6,246.3 358.5,242 359.1,242.9 359.8,244.4 358.7,243.5 359.4,240.6 360.2,242.3 359.8,239.6 359.6,243.5 361.3,243.3 361.6,244.6 361.8,240.9 361.4,242.2 362,240 361.3,241.3 361.9,239.4 362.6,239 363.6,238.5 363.3,237.3 363,238 363.4,238.1 363.4,240.4 363.5,237.2 364.6,239.4 364.6,239.4 365.5,235.5 365,235.5 365.5,238.5 366.2,235.5 366.2,237.2 365.8,233.7 366,234.3 365.9,235.3 367.1,231.5 366.5,233.6 366.6,230.1 367.5,232.6 367.5,228.2 367.6,232.1 368.5,230.8 369,231.1 368.3,230.6 369,227.2 369.1,230.5 369.6,228.9 369.5,229.4 370,231.2 369.5,226.9 370.5,230.3 370.5,227.6 370.9,227.3 371.2,223.8 371.3,226.2 371,222.7 372.4,223 372.4,223.8 372.5,227.2 373.1,225.2 373.2,226.1 373,221.9 373.7,224.8 374.5,221.5 373.4,219.6 374.5,220.9 375.3,220 375.5,220.8 374.9,220.9 374.3,221 375,219.5 376.4,220 375.7,219 376.9,219.3 376,215 376.8,218.2 377.1,214.4 376.6,216.9 377.4,212.9 377.5,215.6 377.3,213.8 378.9,212.8 378.6,213.2 379.1,213.6 378.2,210.8 379.9,207.7 379.3,206.8 378.8,209.4 379.5,207.4 380.9,208.7 380.1,208.2 380.3,204.4 380.7,203.6 381.3,205.6 380.6,202.8 381.8,203.1 382.1,201.2 383,203.3 382.3,198.7 383.2,199.8 383.8,197.8 383.3,200.9 383.9,199 383,194.9 384.8,194.6 384.5,197.3 383.6,192.3 384.5,194.7 384.6,194 384.8,189 385.2,190.7 385.8,190.5 386.5,193.1 386.8,188.2 387.2,186.4 387.1,187.6 387.8,186.6 386.7,187.3 388.2,184.5 387.3,185.6 388.7,180.6 387.3,183.5 389.3,181.3 388.5,180 388.2,180.2 389.3,182.3 389.2,181.9 388.9,182.4 390.2,181.6 391.1,179.8 390.2,175 390.1,177.2 391.8,176.3 391.9,178.2 392.1,174.5 392.6,173.3 392.4,174.2 392.6,171.5 392.5,173.5 392.5,172.5 393,167.7 393.2,169.6 392.9,170.1 393.5,169.8 393.9,170.2 394.5,167.6 394.9,166.3 395.6,167.6 394.1,166.8 395.7,165 394.7,167.5 395.9,166.4 396.1,161.1 395.7,164.8 397,164.2 396.9,162.2 396.7,159.2 397.3,160 397.4,158.1 397.3,157.9 398,155 398.1,159.4 398.6,158.4 398.2,155.3 399.3,158.7 398.4,154.6 399.8,154.5 400,155.6 399.5,154.1 400.9,151.1 401.2,155.3 400.5,154.4 401,154.2 402,153.6 401.7,147.6 401.5,150.6 402.3,151.6 401.6,148.4 403,149.3 402.7,145.7 403.8,147.4 403.9,143.1 403.1,142.4 403.3,143.4 404.8,146.8 404.5,143.5 404,142.8 404.2,143.4 405.7,139.2 405.8,143.4 405.6,142.6 406,142 405.7,139.1 406.1,137.4 407,136.3 407.5,139.9 406.2,135.5 406.9,139.9 407.7,138.1 408.2,134.3 408.8,133.6 408.3,135.3 409,136 409.1,135.5 408.7,130.4 409.1,136.5 410.2,136 410,130.4 410.1,133.7 409.9,134.8 409.8,132.9 411.2,127.5 411.5,130.2 410.7,130.4 410.7,127.7 411.5,129.1 411.9,124.6 412.2,130 411.9,130.5 413.2,128.2 412.4,127.5 414.1,123.8 413.5,127.9 414.1,126.7 413.3,125.5 414.2,126.2 414.8,124 413.8,120 414.8,121.9 415.9,125.1 414.8,122.2 416.4,122.1 415.2,122.1 415.4,124.3 416.4,118.2 416.2,119.3 416.6,121.5 416.6,121.9 417.8,123.1 418.3,115.8 417.1,116.4 419,117.2 418.2,115.7 419.2,111.3 418.2,117.8 418.7,115 419.1,116.8 420.4,117.2 419.1,117.4 419.6,117.2 419.6,112.8 420.8,119.1 420.6,117 420.3,118.3 421.5,111.7 422,114.9 421.9,111.2 422.2,115.2 422.6,108 422.4,111.6 423.7,117.7 422.4,114.1 424.3,111 423,112.1 424.4,110.6 424.2,115.9 424.6,110.1 424.9,115.3 425.6,111.3 425.4,113.2 425,108.2 426.1,112.5 426.5,109.7 425.3,107.9 426.1,107.8 427,110.6 427.3,114.4 427,111.8 426.7,110.8 428.6,111 427.4,109.5 429,110.7 427.7,107 429.6,114.5 429,106.8 429.3,110.4 429.9,117.9 429.6,106.6 430.6,112.3 430.7,110.1 429.8,112.3 431,107.1 430.1,110.5 430.8,113 431.3,113.7 431.4,113.3 432,113.2 432.4,109.6 431.8,108.3 432.3,109.2 433.3,105.8 432.9,110 433.8,107.8 433.7,109.7 433.1,107.3 434.4,105.6 435.3,108.2 434.3,106.7 435.4,108.8 434.5,112.7 435.7,111.8 436.4,108.6 436.2,105.9 436.4,111.7 437.1,114.4 437.3,112.7 436.4,113.5 437,112.4 438.1,110.9 436.9,111 437.8,105.6 438.3,103.7 439.3,108.4 438.6,106.7 439.1,112.7" fill="none" stroke="#ff0000" stroke-width="1.6" stroke-linejoin="bevel" clip-path="url(#cm)"/>
<polyline points="94.3,731.6 94.2,723.9 94.4,723.3 95.3,730.3 94.3,731.4 95.4,724.6 94.5,729 94.7,729.6 95.4,729.7 96.2,731.7 96,727.7 96.2,724.2 96.2,726.3 96.5,730.5 97.7,728.9 96.8,726.3 97.1,723.9 97.6,729.7 98.7,727.4 99.2,729.3 99.5,725.3 99.3,731.7 99.4,724.2 98.6,730.1 99,731.4 100.7,728 99.9,726.3 100.7,724.3 100.6,725.6 100.4,724.7 101.6,725.2 100.6,729.9 102.2,726.7 101.4,728.1 101.5,728.5 103.1,724.8 102.9,725.2 102.2,730.6 103.3,728.6 104.1,729.6 102.9,726.8 103.1,730.2 103.4,724.4 104.2,724.5 104.1,727.3 104.1,725.7 105.2,727.4 105.3,729.7 106.3,730.8 106.5,728.9 106.8,728.9 107.2,727.2 106.2,730.8 107.5,723.4 107.9,727.4 108.1,728.4 107.6,723.6 107.9,728.3 107.9,729.7 109,729.3 108.1,725.8 109.1,724.7 109.8,730.5 109.8,729.8 109.3,724.4 109.2,730.9 110.9,731.4 110,725.2 110.8,727.3 111,730 110.6,728.1 111.8,725.6 112.4,727.5 111.7,728 112.7,729.5 112,726.7 112.5,728.5 113.5,723.5 113.4,729.7 114.3,727.4 113.3,723.5 114.6,721.6 113.7,728.4 114.3,730.5 114.4,728 115.7,731.5 115.2,723.7 116.1,731.5 115.8,730.8 116.1,730.9 116.8,724.1 117,728.3 116.1,731.4 116.9,731.6 117.3,730.8 117.2,735 118,730.7 118.7,730.6 117.7,723.2 117.9,725.7 118.2,730.7 118.5,729.9 118.4,728.3 118.6,732 119.4,724.2 119.1,728.2 119.9,730.7 120.5,726.6 121.2,727.6 121.3,730.1 120.6,729.4 122.1,730 122.4,729.8 121.9,726.7 123,723.6 121.6,730 122.2,735 122.4,729.6 122.9,723.2 124.2,724.8 124.5,730 124,724.3 124.1,733.5 124.5,725.9 124.5,724.2 124.5,727.2 125.6,729.7 125.6,731 125.9,729 125.7,728.2 126.6,724.8 126.8,730 126.1,730.4 126.7,731.1 126.6,723.9 127.6,730.7 128.4,730.5 127.6,726.7 129,731.9 129,731.6 129,728.3 128.9,726 129.5,726 129.8,725.8 130.5,731 130.8,729.3 129.4,728.9 130,731.4 131.3,735 130.1,728.7 132,723.6 130.8,728.1 132.1,730.2 132.3,723.3 133.1,730.4 132.7,731.4 132,728.2 132.1,727.2 132.6,731.4 133.8,723.5 134.5,730.2 133.4,724.6 133.7,724.5 135.3,730.2 134.1,728.2 135.1,723.7 134.9,724.4 136.1,723.9 135,725.1 136.2,728.8 136,732 136.9,732 136.5,726 137.1,729.9 136.8,727.3 138.2,728.2 138.5,728 137.9,727.8 138.2,731.9 138.1,729.3 138.2,731.1 138.9,725.8 139.8,724.1 139.9,730 140.4,723.9 139.4,727.2 141,731.9 141.2,728.2 140.6,724.5 141.1,726.8 140.3,729.3 142.1,726.1 141.8,723.7 142.7,726.6 142.5,724.2 143.3,726.4 142,728.6 142.9,726.3 143.4,723.2 143.6,730.9 143.4,729.7 143.8,730.2 144.2,730.8 143.8,729.2 144.2,728.7 144.1,725.4 144.9,725.5 146,728 146.5,728.5 146.8,726.1 145.8,728.4 146.4,727.5 146.3,731.2 147.7,727.1 147,727.9 146.9,728.6 147.7,727.4 147.7,731.7 147.9,727.8 147.6,726.4 148.2,726.7 149,725.7 148.3,726.5 150.2,724.9 150.1,727.9 150.1,729.2 149.7,725.2 151.2,730.9 151.2,729.7 151.7,726.3 151.9,726.1 150.7,725.9 151.2,730 151.6,728.8 151.5,725.5 152.5,731 153.3,726.1 152.1,729.7 153.3,731.7 154.2,723.3 153.5,725.8 153.3,727.1 153.6,727.2 154.8,731.3 155.4,727.4 155.8,723.8 156,726 154.7,731.7 155.4,723.7 155.8,731.9 157.1,723.9 156.4,726.5 156.9,731.9 156.4,728.8 157.7,731.2 158.1,729.8 157.3,724.4 158.4,730 157.9,723.3 159.2,726.8 158.6,723.5 158.1,729.1 159.9,730.9 159.6,734.1 159.8,731.5 160.2,726.9 161,730.3 160.4,730.8 161.1,728.6 160.7,726.6 161,728 160.9,726.4 162,727.2 162,731.8 162.5,723.7 163.1,724.9 162.8,727.9 162.2,730.5 164.1,729.9 163,729.3 164.1,730.7 164.7,730.9 165.1,724.2 164.6,728 165.4,724.1 165.7,724.7 164.7,728.7 166,729.2 165.1,727.4 165.4,730 165.7,728 166.2,729 166,725.2 166.4,725.9 167,725.2 167.1,727.7 167,729.6 168.8,725.3 167.7,726 169,723.2 168,731.1 168.3,724.3 169.6,725.1 168.7,728.4 170.4,729.1 169.6,727.2 170.1,726.9 170.1,721.3 171.2,729.7 170.6,723.6 171.9,727.4 171.9,727.7 172.5,727.1 171.3,726.6 171.5,726.8 173.2,724 172.4,725.6 173.6,729.3 173.2,722.8 174.3,727.8 174.5,725.8 173.4,725.5 174,727.8 174.5,725.3 175.1,727 174.3,730.6 174.4,731.4 175.8,729.8 175.6,725.6 175.1,727.4 176.2,726.6 176.8,723.9 177.3,730.9 177.7,723.3 177.4,725.5 178.3,728.4 178.6,724.2 178.6,727.1 178.6,722.6 178.8,729.8 178.2,730.6 178.7,724.5 178.8,725.2 179.1,723.8 179.8,728.4 180.4,723.7 180.8,729 180,722.9 181.2,728.4 180.1,724.8 181.8,723.4 181.3,722.2 182,724.3 181.6,730.8 181.7,725.2 183.1,730.2 183.6,724.3 183,725.8 183.3,722.5 183.7,723.7 183.8,726.1 183.3,724.8 184.2,727.1 184.3,724.7 185,728.2 185,726.8 185.5,728.2 185.9,724 185.9,728.3 186.5,722.1 186.9,728.3 185.6,726.1 187.2,728.6 186.3,728.9 187.6,725.1 186.6,723.5 187.8,726.9 188,729.6 188.1,725.7 188.1,723.4 188.1,721.7 189.2,727.8 190,728.7 188.7,723.3 190.4,729.7 189.8,728.5 189.5,728.1 189.8,728.4 190.6,721 190.3,720.8 191,723.5 191.5,728.9 191.9,724.5 191.9,728.8 192.9,728 192.9,724.3 193.3,726.7 193.1,727.1 192.8,727.3 192.6,727.6 193.8,723.8 193.8,726.9 194.6,720.7 193.9,724.3 195.5,725.1 194.7,725.7 195.4,723.5 195.4,724.4 194.9,726.1 195.9,722.5 195.4,724.2 196.2,719.3 196.5,719.2 197.3,720.1 197,724.2 197.3,730 197.7,719.7 197.6,718.6 198.2,718.9 197.7,719.5 198.6,719 199.3,724.6 199.5,721.3 199.1,725.6 199.9,724.6 199.4,717.3 200.4,720.4 201.1,723.3 200.3,719.7 200.1,718.1 201,718.1 202.1,724.6 201.5,717.1 201.9,721.8 203,721.7 202.4,722.6 202.8,717.3 202.9,718.4 202.4,723.3 204.2,717.9 203.9,719.2 204.8,722.5 203.4,717.6 205.2,721 205.3,716.3 205.3,716.6 205.1,714.4 204.6,717.3 206.4,719.7 205.3,715.7 206.1,716.9 205.9,718.6 207.5,716.5 207.7,715.2 207,720.4 207.7,715.4 208,717.7 207.8,719.6 207.8,715.9 208.6,714.1 208.2,721.9 208.5,717.5 208.4,713.1 208.6,714.1 209.3,720.4 210.7,712.6 209.4,712.1 209.8,716.9 211.3,717.4 210.1,713.9 211.9,713.4 211.6,716.4 212.1,715.3 212.1,715.3 212.3,714 212.6,711.3 212.3,716.6 212.3,712.7 213.4,715.1 213.9,712.9 214.4,713.8 214.3,711.8 214.7,708.8 214.8,710.2 215.3,712.1 215,711.8 216.1,712.7 215.5,708.6 216.1,710.4 215.9,711.3 216.1,712.7 216.5,707 216.2,711.7 217.3,707.3 216.3,709.1 216.9,708.3 217,709.5 217.2,706.7 218,704.5 218.3,709.1 219.4,707.4 219.5,705.9 219.2,704.9 218.9,706.5 220.2,701.6 220.7,703.6 220.2,703.2 220.6,702 221.5,705.1 221.1,705.6 220.4,699.2 222.3,698.8 222.2,700.6 222.5,699 222.4,697.8 222.8,695.2 223,701.9 222.4,698.4 224,698.7 223.6,701 223.2,698.4 224.7,699 224,694.3 224.9,698.1 224.4,695.7 225.5,698.4 225.6,694.4 225,697.5 226.4,694.9 226.1,694.6 227,695 227,695 227.2,693.7 227.4,690.6 227.4,693.4 226.8,691.4 227.2,690.8 227.4,692.4 228,689.2 227.6,691 228.4,689.8 228.6,687.8 229,687.7 229.3,688.3 229.4,688.4 229.1,685.7 230.7,684.3 230.8,684.5 230.6,683.2 231.2,682.1 230.6,684.6 231.8,685.5 231.3,684.3 232.8,682.3 232.9,679.7 231.9,680.2 233.1,682.6 233.4,680.1 232.8,678.3 234.1,677.6 233.8,677.8 234.8,675.3 234.5,675.4 235.3,677.1 234.9,675.8 234.9,676.3 235.2,673.4 234.6,672.5 236.2,672.3 236.7,670.8 235.6,670.2 235.7,670.4 237.4,668.4 236.5,668.9 236.8,670.4 237.8,669.5 237.3,665.8 238.4,665.3 237.4,664.2 238.1,665.5 238.1,665.4 239.6,663.5 239.5,663.7 239.5,662.5 239.4,660 239.8,662.3 239.7,660.3 240.8,657.9 240.1,660.7 241.4,657.9 242,658.3 241.2,658.9 241.5,659.6 241.1,657.1 241.7,654.6 241.8,652.7 243.5,653.4 242.3,651.7 242.9,651.7 242.6,648.9 243.1,651.4 244.7,649.4 244.6,648.5 243.8,645.2 244.7,647.6 245,646.2 244.6,644.2 245.8,645.1 246.5,643 245.1,640.5 246.9,639.9 247.3,638.9 246.5,636.7 246.2,637.3 247,637 247.8,635.4 246.9,636.4 248.2,635.4 248.5,633.1 248.2,631.2 249.3,629.7 248.2,631.9 249,626.4 248.6,627.1 249.4,625.2 250.5,624.7 250.5,627.4 250.3,625.1 251.4,622.8 250.3,622 252,619.6 251.4,621.4 251.3,617.3 252.2,619 251.7,615.1 252.8,614.1 253.2,615.1 253.8,611.8 253.3,611.3 253.1,611.8 254.2,609.4 254.3,610.3 254,607.1 254.1,608 255.3,607.5 255.7,606.5 256.1,603.6 255.8,601.3 255.8,598.6 256.6,602.2 255.8,600.6 256.7,597.3 257.1,597.9 257.5,598.7 257.9,596.7 257,592.8 257.8,592.1 257.6,591.2 258.6,590.2 258.2,589.9 258.4,590.5 259.6,587.6 259.9,588 259.3,584.3 260.2,585.9 259.4,583.2 259.9,581.1 259.6,582.5 260.6,581 261.3,579 260.7,576.9 261.1,576.1 262.6,576.6 261.3,575.3 262.2,572.8 261.9,571 263.6,567.8 263.3,570 262.6,568.5 264.3,567.4 264,564.6 264.1,564.2 264.2,560.2 264.4,560.4 264.2,557.4 264.2,557.6 264.4,556.8 264.9,554.5 265.8,552.9 265.7,551.5 266.3,548.4 266.1,547.9 265.9,546.7 266.9,547.8 268.1,544.4 267.6,544.6 268.5,543.9 268.6,539.3 267.7,539.2 268.4,537.6 268.6,535.4 269.5,534.3 270,531.5 269,532.8 269.9,529.7 269.5,529 270.1,527.9 270.7,524.6 270.3,521.6 270.8,519.8 271.9,519.7 272.3,519.3 271.5,517.4 272.7,518 273,513.6 272.7,511 272.6,512.1 272.9,510.7 272.8,506.2 273.8,506.7 274.3,503.5 273.7,501.7 275,499.9 273.9,501.3 274.7,498.5 275.2,495.5 275.8,495.2 275.8,492.8 276.1,490.6 275.3,494 277,488.9 277.2,488.6 277.1,487.5 277.3,486.5 277.7,481.2 277.8,482.4 278.3,479.2 277.9,479.6 277.9,477.3 277.6,477.2 279.5,472.3 278.8,472.4 278.9,473.7 279.6,467.7 280.1,468 280.6,466.7 280.3,465.6 280.7,464.8 280.5,460.3 281.6,461.8 280.8,458.3 281.2,456.6 282.4,455 281.4,454.4 282,452.6 283.1,452.3 282,449.7 282.4,450.9 282.7,449.5 282.8,446 283.6,445.6 283.6,444.3 283.4,440.3 283.9,440.7 284.6,441.1 285.2,441.7 285.6,433.4 284.6,434 286.2,431.3 285.5,434.2 286.3,430.6 286.5,428.6 286.3,429.2 286.3,426.2 287.7,426.2 286.8,422.3 287.8,424.9 287.2,423.6 287.4,418.4 288.1,420.5 288.4,418.6 288.6,416.1 288.7,414.7 289.8,411.7 290.4,412.3 289.1,413.2 291,410 289.8,410.5 289.9,409 291.4,408 291.4,404.4 290.9,401.5 291.4,402.9 291.2,399.8 292.7,399 292.6,398.5 292.7,394.2 292.5,394.6 293.2,393.5 292.6,395.9 292.8,394.1 293.9,392.5 295,388.2 294.2,391 295.2,389.7 295.3,384 295,384.5 296,382 295.4,382.4 295.8,383.9 295.5,381.6 296.2,381.3 297.5,378.9 297,376 297.5,377.8 297.9,376.3 297.3,372.4 297.2,373 297.7,373.4 298.5,370 298.4,368.8 298.7,367.7 299.1,367.9 299.1,369.5 299.9,366.3 299.4,364.8 299.7,365.9 299.9,361.5 301.4,363.8 300.4,362 300.9,361.4 300.7,359.6 302.5,361.2 302.4,356.2 302,358.1 301.9,356.5 302.2,356.6 303,353.4 303.7,356.9 303.6,352.9 303.6,352.7 303.8,350.5 304.3,352.7 304.5,351.1 304.4,347.4 305.7,346.3 304.9,347.5 305.7,345 305.5,346.6 305.7,345.6 305.9,341.2 307.3,342.8 307.6,339.5 307.3,341.8 307.2,340.3 306.6,339.1 307,338.1 308.5,334.3 307.4,334.6 307.7,333.3 308.5,330.6 308.6,331.3 309.4,330.2 309.5,329.4 309.5,330.3 309.4,327.5 310.1,326.8 311.2,327.5 310.7,326.2 311.5,324.4 311.1,320.4 311.9,322.7 311.7,321.2 312.4,321.3 312.9,321.8 312.5,319.6 313.4,315.4 312.5,312.8 314.1,317 314,318 313.1,315.1 314.3,312.6 313.7,309.8 313.6,311.8 314.7,310.6 315.3,311.9 315,309.7 315.1,309.9 316.1,309.6 315.7,306.4 315.7,306.4 317,304.8 317.3,303.8 317.6,308.6 316.6,302.5 316.7,309 317.6,301.5 317.6,305.7 318.2,302.5 318.1,303.6 319.1,299 319,301.1 319.2,301.9 320.2,301.2 319.2,299.2 320.1,300 320.2,296.4 320.2,297.2 320.6,297.8 321.1,295.3 321.1,297.1 320.7,296.8 321.4,294.9 322.1,291.3 322.3,292.9 321.6,296 322.4,294.1 323.2,294.3 323.3,290 323.6,290.5 324,291.6 324.4,292.5 323.9,291.4 325.3,288.9 325.4,290.8 324.4,286.6 324.6,286.7 325.2,285.8 325.1,288.9 326.4,288.2 326.4,286.4 326.4,285 327.5,285.4 327.4,285.5 326.5,287.3 328,287.5 328,282.1 327.2,286.3 328,282.5 329.3,281.2 329.2,280.3 329.3,282.3 328.4,284.6 329,281.5 330.5,280.1 329.7,279.2 329.6,283.6 331.2,280.7 330.6,280.2 330.8,282.6 331.6,278.4 332.1,280.7 331.7,278.3 331.1,281.5 332.6,275.4 331.6,281 332.4,276.8 333.1,278.8 332.7,274.7 333.2,277.1 334,274.7 334,276.6 333.6,277.3 333.6,276.5 334.3,273.1 334.6,275.7 334.5,273.5 335.3,272.1 336.6,273.2 336.7,274 335.9,270.9 336.7,274 336.8,273.8 336.2,274.3 337.1,269.9 338.1,270.9 338,271.8 338.6,269.4 337.9,270.4 338.5,268 338,269.2 338.2,270.6 339.7,273.1 339.2,265 340.4,269.3 340.5,267.9 340,268.8 340.7,267.7 340.3,267.9 341,264.3 340.6,263.6 341.9,268.8 342.2,266 342.2,264.9 342.2,267.1 343.1,266.4 343.1,261.3 342.1,264.5 343.6,266.1 343.6,262.6 343.4,262.9 344.5,265 343.6,262.2 343.8,265.1 344.8,262.1 345.2,263.5 345.3,263.8 344.6,262.5 345.8,259.2 345.5,260.7 346.1,261.9 346.9,258.9 347.1,257.6 347.7,258 347.8,260.2 348.2,255.7 347.3,257.9 347.5,257.7 347.6,256.7 347.9,260.9 347.8,260.8 349.1,255.2 349.9,255.5 350.3,258.3 349.6,260.2 350.3,257 350.1,257.7 350.3,256.4 350.7,256.6 351.4,253.5 350.6,257.6 350.9,252.9 351.1,253.5 352.8,258.8 351.6,253.4 351.8,254.1 352.7,252.5 353.7,258.8 353.8,254.3 352.6,255.6 353,255.8 353.6,253.5 354.2,252 354,255.3 354.2,250.4 354.2,250.5 354.7,254.6 354.7,252.6 355.6,253.6 355.5,250.5 355.7,250.7 357.3,251.6 356.5,248.8 357.1,248 356.5,252.9 357.8,246.7 358.6,248.2 358.7,251 357.9,250.9 359.1,247.2 359.3,249.7 358.8,247.9 360.1,247 359.2,247.9 360.6,250.4 359.6,249.6 359.9,248.1 360.1,246.6 361.3,245.1 361.3,244.5 361.1,245.7 362.1,245.9 361.1,245.1 361.1,248 361.8,243.3 362.2,241.9 362,243.9 362.8,241.8 364,244.9 363.2,239.8 364.5,239.8 364.7,242.4 364.6,239.1 364.3,241.1 365,240.9 364.6,240.9 365.8,239.9 365.1,237.9 366.6,236.9 366.7,239.5 365.5,234.8 366.7,238.4 367,233.9 366.9,233.7 367.4,233.8 366.9,235.3 368.1,233.8 368.4,235.5 367.8,232 369.1,233.3 368.8,235.2 368.9,232.7 369.6,235.4 370,230.6 370.5,229.2 370.8,228.1 370.7,231.3 370.7,229.6 369.9,227.4 371.3,229.5 370.8,230.6 371,228.6 372.5,224.7 372.4,224.2 372.4,222.6 372.7,227.3 373.3,227.1 373,228.1 373.6,222.1 374.3,222.1 374.3,225 374.2,222.9 374,224.3 374.2,222 374.7,221.9 374.8,217.9 375.9,220.3 376.1,219.7 375.6,215.6 375.9,217.7 375.8,216.3 376.4,214.5 376.4,213 377,215 376.8,216 377.5,210.5 377.5,211.7 377.5,213.1 377.4,211.9 379,209.4 379.5,208.5 378.8,206.8 378.6,205.7 378.8,208.4 378.9,206.3 380.3,205.6 379.9,205.4 380.5,205.4 381.3,201.9 380.5,199.9 381.9,200.2 381,200.9 382.3,201.8 381.7,200.4 382.5,198.7 383.2,196.3 383.3,195.8 382.2,195.7 383.7,196.7 383.5,195.3 383.5,193.4 383.1,194.5 384.4,193 384.9,191.8 384,192.6 384.3,189.9 384.6,192.6 385.8,188.8 385,189.7 385.1,183.4 385.5,184 386.7,187.2 386.3,183.8 387.8,186.2 387.5,183.1 387.2,183 388.4,181.3 387.2,180.6 387.5,181.6 388.4,178 388.3,178.5 389.3,178 389.6,177.2 389,174.7 388.8,174 390.1,172.6 389.9,174 389.6,173.8 391.2,174.4 391,171.6 392,172.4 391.2,168 391.8,167.5 391.2,170.5 392.2,168.8 392,164.8 391.9,164.8 393,169.9 393.7,166.3 393.4,167.8 393.5,166.9 394.7,164.2 393.4,163.6 394.1,161.6 395,160.9 395.6,159.8 395.2,163.1 394.6,157.6 396.3,158.8 395.1,158.9 396.4,160.5 396.4,155.5 397,157.9 397.6,156.1 397.2,156.7 398.1,151.4 398.3,155.1 398.5,155.9 398.7,155.2 397.7,154.3 398.9,153.2 398.3,153.3 400,150.7 399,152.2 400.5,152.9 400.8,147.9 400,146.5 401.2,148 401.1,152.3 401.1,146.5 400.7,150.6 401.4,145.1 402,144.2 402.6,149.1 401.8,148.5 402.4,142.2 402.6,142 403.5,146.4 403.5,146.7 403.4,143.2 404.4,144.1 403.7,143.4 403.9,144.1 405.1,142.2 404.5,139.1 405,139.2 405.1,142.6 406.1,140.3 405.4,138.9 406.5,136.4 406.2,136 406,135.9 406.5,133 407.6,135 407.4,134.1 407.2,135.3 407.7,135.1 407.4,132.6 408.2,135.9 408.9,132.5 409.4,137.6 409.8,133.8 408.7,136.8 408.7,132.4 410.3,131.4 409.7,128.2 411,131.4 410.5,128.1 411,134.3 410.8,128.3 410.4,133.1 411.7,133.6 411.4,131.2 412,126.9 411.4,125.5 412.9,125.4 412.7,126.9 413.2,125.9 413.9,130.5 413.5,127.9 414.3,124 414.5,125.8 413.5,128.8 415.1,129.7 414.4,123.1 414.1,126.8 415,127.7 415.5,124.3 414.9,124.9 415.8,125.6 416.7,122.2 416.9,123.6 416.7,125.6 416.2,123.2 416.9,123.3 418,125 417.5,119.3 418.4,123.5 417.4,122.7 417.7,119.1 418.5,120.8 419.8,119.4 419.9,122.7 420,120.5 420.3,120.3 420.3,123.2 419.9,122.4 421.3,118.8 419.9,121.8 420.7,115.9 420.9,116.7 421.4,121.2 421.8,117.5 422.6,117.4 422.8,117.1 422,114.9 422.8,119.7 422.3,121.9 422.9,115.1 422.7,117.5 423,115.1 424.1,119.6 424,117.8 423.7,117.2 424.8,122.1 424.4,120.6 425.1,121.4 425.6,121.5 424.9,114.1 425.8,120.6 426.2,116.7 425.8,119 426.8,113.4 426.2,121.1 427,114.9 427,119 428.4,119.8 428.3,113.4 427.7,119.7 429.2,115 428.4,116.1 428.9,119 428.9,113.3 430,120.9 429.2,118.3 429.5,119.7 430.9,119.5 431.2,113 431.3,121 431.6,114.7 431.5,119.7 431,121.2 431.4,118.5 431.6,119.2 432.1,111.1 433,115.8 433.5,119.9 432.6,118.3 432.3,121.8 433.9,119.4 434,119.3 433.7,120.9 434.5,116.1 433.6,117.4 435.4,117.3 435.2,119.2 435.5,121.7 435.8,115.4 436.3,114.4 435.7,120.1 436,119.8 435.6,118.1 437,122.5 437.8,116.5 437.5,121.6 437.1,117.1 438.1,119.7 438.5,118.3 437.3,122.2 439.3,121.5 439.1,119.5 438.4,115.7" fill="none" stroke="#00ff00" stroke-width="1.6" stroke-linejoin="bevel" clip-path="url(#cm)"/>
<polyline points="94.4,725.6 93.9,728.2 94.7,726.6 94.4,727.2 95.1,729.5 94.5,730.4 94.4,726.2 95.1,724.8 96.2,731.7 96.3,728.9 96.3,725 96.3,726.9 96.4,725.1 96.4,730.8 97,723.4 96.7,730 97.2,723.7 98.7,724.9 98.6,731.1 98.4,731.9 98.9,724.4 99,729.2 98.8,729.2 99.8,729.6 99.3,723.6 99.6,726.2 100.9,728.7 100.6,726.1 101.4,725.4 100.7,729.5 101.4,729.8 101.8,730 101.7,729.6 102.4,729.1 102.6,730.8 102.8,723.8 102.4,729.5 102.2,728 102.6,730.4 103.7,731.4 104.2,725.5 103.4,731.5 103.6,727.6 105.1,728.2 104.5,729.6 105.1,730.3 105.7,723.5 106.3,728.9 105.3,725.2 105.6,723.9 106.3,731 106.7,731.9 105.9,730.5 106.9,731.7 107.2,726 108.2,730.3 108.4,727.6 108,729.4 108.8,725.7 108.4,725.5 109,726.8 108.6,723.8 108.6,724.3 109.8,729.8 109.7,724.7 109.1,728 109.9,728.4 110.7,724.3 111.2,730.9 111.1,726.2 111.1,730.3 112,730 112.3,731 112.3,731.8 111.9,725.7 112.4,724.3 112.7,726.9 112.1,731.6 113.5,726.6 113.6,729.5 113.9,728.6 114.8,726.6 114.1,723.5 114.1,724.9 114.3,727.8 115.7,723.8 115,731 115.4,731.1 116.3,727.5 116.1,730.1 115.4,723.3 116,725.9 116.3,724.6 117.5,729.8 118,729.2 117.1,725.8 117.1,729.2 117.9,725.9 117.7,726.2 118.7,730.1 118.3,725.1 119.8,729.3 118.6,728.4 119.8,725.4 120.6,728.4 119.8,724.6 121,729.9 120.8,726.3 119.9,726.3 120.8,727.1 121.7,729.9 121.8,725.1 122,725 121.3,727.6 123,723.4 122.6,724.9 123.3,723.5 122.3,729.1 122.6,726.6 123.9,721.9 124.1,726.1 123.7,724.4 125.1,724 124.2,728 125.4,729.7 124.2,729.1 125.4,727.7 125.2,726.5 125.2,727.3 125.1,728 126.4,729.1 127.3,727.8 126.2,730.8 127.1,727 127,723.9 126.6,732 128.2,731.9 128,726.6 129,726 128.9,723.2 128.4,723.3 128.6,728.2 129,731.1 130.3,729.8 130.4,729.3 130.3,728.6 129.4,730.1 129.9,724.2 131,723.6 131,727.6 130.7,730 130.9,732.5 131.8,726.9 131.1,724.4 132.8,730.1 132.3,727.2 132,725.3 132.9,731.8 133.1,730.7 133.5,731.2 134.5,726.2 134.6,726.4 134.2,729.7 133.9,726.6 135.3,727.3 135.7,725.1 135.5,725.9 135.6,729.6 135.9,728.4 136.3,727.2 135.9,731.5 136.5,731.6 136.6,731.4 137.1,727.2 136.3,731.9 137.5,728.6 137.2,730.7 137.7,728.9 137.9,728.8 138.9,723.4 139.6,725.6 139.3,732 139.5,723.4 139.2,726.9 139,730.7 140.8,727.3 140.4,724.5 139.9,726 141.1,725.3 140.6,724.6 141.3,724.2 140.7,728.6 142.1,724.9 141.9,726 141.5,724.2 142.5,725 142.3,725.9 143,724.2 143.4,723.9 143,731 143.7,731.2 144.2,723.4 143.9,728.6 143.9,727 144.7,723.7 145.5,727.9 145.5,731.5 145.4,723.7 146.1,730.7 146.5,727.3 145.8,733.1 145.8,725.9 146.8,727.9 146.2,727.6 147.5,727.7 147.7,723.2 147.2,730.7 148.6,729.8 148.7,729.5 148.7,723.4 148.5,731.1 148.8,731.9 149.2,732 149.4,729.3 148.9,729.1 150.6,730.7 149.9,727.1 150.7,721.4 150.9,726.3 151,730 151.3,728.7 151.7,729 151.4,726.5 152.4,725.7 152.3,726.6 153.3,729.1 152.7,732.4 153.6,724.7 153.4,727.5 153.3,728 153.3,724.7 153.7,731 154.7,731.8 155.2,729.8 155.5,724.1 155.2,728 155.3,726.9 155.3,729.3 155.1,729.5 155.5,727.7 156.3,727.9 156.5,724.5 156.8,730.8 156.2,726.5 156.8,723.3 157.7,725 157.7,723.5 158.5,730.8 157.8,723.2 157.6,729.7 159,724.8 159.7,729.4 159.7,725.6 159.6,726.1 160,729.7 159.8,724.7 160.2,724.3 161.2,730.9 161,723.9 160.8,724.9 161,724 161.6,728.3 161.2,728 162.5,722.1 161.5,724.2 163.1,728.2 162.9,730 162.4,727.3 163.1,730.8 163.4,724.1 164.5,728.3 164.3,723.6 164.9,722.5 164.9,725.9 163.9,727.1 165.8,726.7 165.6,728.1 164.8,730.9 165.6,722.4 165.2,730.1 166.3,726.9 166.3,729.1 167.1,730.1 166.2,730.3 166.4,728.6 168,726.7 167.3,723.3 168,730.5 168.6,729.2 169.2,732 169.2,724.2 168.9,729.2 168.9,728.4 169.6,725.7 169.8,727.1 169.3,726.9 169.4,728.6 169.9,724.4 169.9,728.4 170.7,727 171.6,725.7 171.7,730.5 171.5,725.5 171.6,727.7 172.8,726.5 172.9,723.4 172.7,726.8 173.7,728.5 173.8,731 173.3,727.3 173.9,728.5 174.1,730.1 175.1,727 174.6,726.8 174.4,727.8 174.1,726.1 175.9,729.3 175.7,728.5 175.8,725.1 176.6,726.9 176.2,724.7 175.6,728.7 176.8,728.5 177.7,730.6 177.1,729.8 177.6,734.3 177,727.4 177.2,724.6 177.6,723.1 178.8,726.4 177.9,726.6 179.4,724.5 179.5,727.2 180,729.9 179.2,725.6 179.5,726.2 179.8,724.5 180.5,729.7 180.8,724.2 180.3,730.4 181.5,728.9 180.9,723.4 181.5,725 182.2,722.6 182.8,730.2 183.1,723.4 182,725.9 183.2,727.7 182.5,719 182.7,729.7 183.9,727.4 183.1,726.4 183.6,729.9 185.3,730 184.5,726.6 184.3,727 185.5,723.4 185.9,721.7 184.9,724.6 186,723.7 186.8,724.3 186,730.1 187.6,723.5 186.1,728.7 186.7,726.2 187.2,727.6 188.2,721.7 188.1,723.9 187.5,727 189,725.9 188.1,723.8 189.4,729 189.8,726.6 190.2,727.4 189.3,725.7 189.6,726.5 190.3,724.5 189.8,722.4 190.3,728.4 191,723.5 191.8,724.9 191.6,726 191.2,721.3 192.5,724.6 191.7,727.3 192.5,726.2 193.6,723.1 193.1,721.3 194,727.8 192.9,722.2 193,726.8 194.6,720.6 194.4,730.3 194,728 194,721 194.9,726.7 196.1,727.6 194.7,726.2 195.7,719.2 196.6,719.7 196.5,722.2 196,720.4 197.2,722.6 197.4,725.1 197.8,726.4 196.8,722.5 198.1,719.5 198,724.4 197.3,719.1 199.1,724.7 198.8,717.5 198.6,717.9 200,722.8 198.7,719.9 200.5,718.4 199.8,724.6 199.8,716.5 200.2,721.9 200.8,720.8 201.8,716.9 201.9,723.1 201.8,720.9 201.8,717.9 202.5,721.6 201.7,716 202.8,715.8 202.2,717.3 203.2,716.5 202.4,721.2 203.4,717.7 203.4,721.8 203.7,715.1 204,715.3 204.8,717.5 205.2,716.4 204.8,714.6 204.6,716 205.2,715.3 206.1,719.2 206.2,717.9 207,718 205.8,717.8 205.8,712.6 206.6,718.1 207,719.3 206.6,714 207.5,718.1 207.6,711.5 207.7,715 208.7,715.1 208.2,711.5 208.4,712.6 209,710.4 209.5,718.1 209.4,716.7 209.9,710 210.6,712.8 211.3,711.5 210.4,711.6 210.4,714.8 211.5,710.9 212.1,706.1 211.5,715 212.3,705.7 212.8,711.5 213,708.9 212.8,710.2 212.5,712.4 213.9,707.9 214.1,707.3 213,710.9 213.5,712.5 215,710.1 214.5,710.1 215,707.7 214.4,709.4 214.5,705.2 216,708.6 216,706.5 216.1,709.9 217.1,704.2 215.9,704.6 216.9,706.7 216.2,709.2 216.6,704 216.8,702.4 217.4,707.9 217.6,702.2 218.5,703.4 217.8,705.2 219.4,705.5 219.7,704.6 218.8,705.5 220.1,703 219.8,701.1 219.8,702.9 219.9,701 219.9,702.6 221.1,697.7 221.3,702.7 221.7,701.7 221.5,702.3 221.2,697.4 222.8,700.8 221.7,700.1 222.8,697.7 222.8,699 222.5,695.1 222.5,696.3 224.2,698.9 223.4,695 223.9,698 224,693.9 225.3,696.5 225.4,691 224.4,690.4 225.7,694.7 226,690.7 226,692.3 226.1,692 226.2,693 227.3,687.7 227.2,687.3 226.3,688.7 227.4,686 227.1,687.4 227.2,689.1 228.2,687.7 228.7,685.9 227.8,684.3 227.8,686.4 229.2,683.7 230,687 229.3,681.8 229.6,681.2 229.1,682 231,685.2 230.6,679.7 230.6,684 230.7,678.9 230.8,681.1 231.9,679.2 231,679.8 232.8,676.7 232.4,677.5 233.2,677.3 232.2,678.1 232.3,676.3 232.5,674.9 232.8,677.3 234.2,675.4 234.7,673.5 233.3,674.7 235,671.7 234.5,669.6 235.3,674 235.8,671.8 234.8,669.7 235.6,668.2 236.2,668.8 236.2,668.7 235.8,665.1 236.9,665.4 236.8,667.4 237.3,666.9 237.1,665.9 237.7,663.6 237.4,662.8 238.5,663 237.8,662.3 238.1,658.6 238.9,661.6 238.4,660.2 239.4,658.4 238.8,656.3 240.5,657.3 240.3,653.9 241.2,653.9 240.1,655.7 241.8,654.6 241.9,652 240.9,652.1 242.3,651.5 241.2,651.9 242.3,650.1 242.3,647.1 241.9,648.8 242.3,646.9 244.1,647.1 242.9,643 244,643.5 244.7,643.8 244.2,640.8 243.7,638 244,638.1 245.2,641.1 244.3,640.1 245.4,637.4 245.9,638.3 245.7,637.4 245.7,633.7 247.3,632 245.9,632.9 247.5,630.1 246.4,631.6 246.6,631.8 247.8,628.5 247.2,627.3 248.3,623.3 248.2,624 248.2,626.7 248.8,624.4 248.4,622.3 250.2,622.6 250.4,621.2 249.6,618.1 251,616.9 250.6,617.5 251.2,617.5 250.6,616.1 251.7,616.3 252.3,613.5 251.5,610.9 251.2,611.2 252.2,608.3 253.3,608.4 252.7,608.8 253.1,606.2 253.5,604.8 253.3,604.9 253.2,602.1 254.1,601.9 254.7,600.5 254.7,600.7 254.3,600.9 255.7,596 256,594.2 254.7,595.1 255.1,593.4 256.5,591.2 256.8,591.6 256.2,589.6 256.8,588.5 257.5,590.4 257.9,587 257.5,587.9 258.5,584.1 258.1,583.4 258.6,582.1 257.9,580.4 258.1,581.1 258.4,578.1 259.1,578 259,576.8 260.2,573.5 260.4,575.1 259.5,572.5 260,571.6 260.1,568.3 261.2,570.6 260.4,567.7 262,568.6 261.8,566.5 262.5,566.3 261.6,565 262.4,561.6 262.6,559.7 263,558.7 263.3,556.9 263.5,558.6 264.5,556.8 263.5,555.6 265,555 263.8,550.6 265.1,549.8 265.7,550.5 265.6,547.9 265.4,544.1 266.2,543 266.4,544.1 266.1,542.5 266.9,538.6 266.3,537.4 266.8,535.7 267.4,537.9 267.8,537.2 266.8,531.5 267.2,532.5 267.4,532.1 267.6,528.2 268.9,525.8 268.1,527.2 269.6,524.6 269.2,523.1 269.8,520.5 269.9,520.4 269.8,517.9 270.2,515.3 270,512.9 270.5,514.4 270.7,510.3 271.1,509.8 271.7,508.8 271.2,505.1 272.2,506.2 271.6,503.1 272.7,499.6 272.5,501 274,499.3 272.8,498.1 274.3,496.3 273.9,494.8 273.9,493.2 275,491.3 275.3,493.3 274.6,490.2 275.5,488.6 276.2,485.8 275.4,484.5 276.5,481.8 275.6,479 276,477 276.2,476.7 277.4,473.9 277.5,474.9 278.3,471.1 277.1,473.3 278.4,471.6 278.2,467.3 277.8,466.8 279.3,465.1 278.7,463.9 278.4,462.4 279.5,461 280,459 279.4,457 279.7,458.8 280.8,455 280.6,453 281,453.4 281.8,451.7 281.5,450.2 281,447.1 282.3,446.8 281.7,444.3 282.4,445.7 281.9,444.8 282.5,439.9 283.4,440.3 284.1,438.1 282.9,436 284.1,436.7 284.9,436.2 284.4,433.5 284.9,432.1 285.3,432.4 284.8,429.5 285.1,425.8 285.8,426 286.1,424.2 285.5,424.7 285.9,421.8 286.1,421.4 287.7,420.2 286.6,418.7 286.9,416.6 288,418 288.2,416.3 288.4,411.6 288.3,412.7 288.5,410.8 288.8,407.9 288.7,408.8 288.9,408.3 289.8,406.6 290.3,402.9 289.6,402 290.1,403.6 291,401.1 290.7,402.4 291.8,400.1 291.2,397.6 290.9,397.7 292.8,396.8 292.7,394.5 292.1,394.9 291.9,394 293.6,392.2 293,391.6 293.7,388.5 293.6,387.5 293.4,385.8 294.1,385.1 293.7,385.7 294,381.1 295,383.4 295.3,383.3 296.3,381.2 294.8,378 296.2,376.6 296.6,377.2 296.5,375.8 296.8,373.3 296.2,372.7 296.6,374.7 298,374.4 297.2,371.1 298.7,370.1 297.3,369 298.8,367.4 299.5,366.3 298.5,365.7 299.9,364.2 299.8,367.6 299.5,366.1 300.7,365 300.2,364.4 300.4,362.1 300,363.2 301.8,359.4 300.6,358.2 300.8,360 301.5,358.7 301.7,360.1 302.3,355.5 302.8,358.7 302,353 302.4,356.2 303.1,355.9 303.6,351.9 303.9,354.7 303.9,347.4 303.6,352 304.9,351.1 304.6,344.6 305.6,346 305.3,346.5 305.7,344 304.9,343.4 305.6,343.1 305.5,345.6 306.7,337.3 307.2,343.1 307.2,341.9 306.5,338.8 307.2,338.3 307.5,335.4 307.1,337.1 307.7,336.1 307.8,333.6 308,332.8 308.4,332.8 309.9,330.5 309.5,331.8 309.7,329.7 310.8,329.4 310.3,328.5 310.9,327.5 310.2,327.7 311.1,327.1 311.4,324.1 311.6,325.1 311.7,323.5 311.1,321.7 312.6,321.3 312.9,321.3 311.9,319.8 312.7,318.6 314,318.1 312.6,317.3 313.8,316.1 313.6,317.9 313.8,317.2 314.4,315.9 314.6,314.5 315,313.9 315.8,314.1 314.8,312.8 315.1,313.2 315.6,311.1 316.1,309.7 315.6,311.7 317.5,309.4 317.3,308 316.8,307.9 317.1,308.7 317,306.4 317.2,306.3 318.3,304.1 318,308.2 318,307.8 318.1,306.6 319.3,304.3 319.3,304.7 320.4,303.2 320,303.7 320.5,304.2 320.9,300.8 320,300.8 321.7,302.4 320.9,301.9 321,299.6 322.5,299.7 322.4,298.6 321.3,300.8 322.1,298.4 321.9,300 323.3,298.8 323.1,296.4 322.8,297.1 323.9,297.4 323.8,295.4 323.5,297.4 325.1,295.4 325.2,296.3 325.5,293.4 326,293.8 325.4,294.2 326,293.4 326.8,293.9 325.4,293.8 325.6,293.1 326.1,291 326.5,291.4 327.7,291.7 327.2,293 327.7,291.8 328.8,291.1 328.9,291.8 329,291.3 329.5,289.5 328.2,290.5 329.6,289.1 330.1,288.7 329.6,287.5 329.8,289.2 330,288.5 330.9,286.9 331.4,287.3 331.1,288 331,287.7 331.5,287.5 330.8,285.3 332.4,287.4 331.6,285.8 332.3,286.7 332.8,285.1 332.3,286.4 332.5,283.9 334.2,284.3 334,285.1 333.4,283.9 333.9,284 335.2,283.7 335.4,283 335.7,281.3 334.9,280.7 334.8,280.7 335.9,281.1 336.2,281.6 335.9,281.3 335.9,278.9 336.2,280.8 337.1,279.7 336.7,280.5 338.2,280 337.8,279.3 337.8,279.3 339,277.6 338.6,280.2 338.6,277.8 338.4,278.5 338.8,278.2 339.1,277.5 340.4,276.8 339.7,274.5 340.4,275.2 340.6,273.7 340.1,274.5 340.7,275.8 341.3,274.3 340.6,273.5 341.7,273.9 342.8,274 342.3,272.4 342.8,271.5 342.4,271.1 343.5,270.5 343.6,271.6 344,270.1 343.7,270.7 344.4,271.3 345.1,270.2 343.6,270.3 345.2,270.3 345.4,268.8 345.5,269 345,269.5 345.9,267.2 346.8,267.4 346.9,268.5 345.8,267.5 346.4,266.9 346.6,268.9 347.4,267.4 348.3,266.1 347.9,266.3 347.4,266.2 348.3,266.3 348.8,266.2 349.2,265.2 348.7,265.7 348.9,265.8 349.6,264.1 349.6,263.6 349.6,265.9 350.1,262.3 350,262.9 351.3,262 350.6,261.9 351.2,264.2 351.4,261.9 352.4,263.1 351.7,262.8 352.3,263 351.8,261.6 351.8,260.2 353.7,262.3 352.4,260.2 354,260.7 353,259.6 353.9,259.4 353.8,259.8 355,260.7 354.5,259.4 354.2,258.3 355.4,257.1 355.5,255.7 356,258.6 355.9,259 356.6,257.8 355.8,255 355.9,257.9 357.8,260 356.5,255.2 357.8,255.3 357.1,257.3 358.5,256.2 357.9,256 358.7,253.9 359.1,254.2 359.4,253 359.5,253.8 360.1,253.8 360.5,252.3 360.5,253.8 359.7,253.7 360.3,253.9 361.1,252.9 360.8,253 361.2,251.2 362.2,250.5 361.1,251.1 361.2,250.5 362.8,248.7 361.7,249.6 361.8,249.1 362.2,248.6 363.6,249 364.3,246.5 363.4,247.1 364.8,247.6 363.6,247.2 364.8,244.1 364.8,245 364.1,244.6 365.6,243.1 364.7,243 366.1,241.2 365.2,240.8 365.3,241.2 367,241.7 366,239.4 366.3,240.1 367.3,237.9 367.5,239.1 368.1,236.3 367.5,237.3 368.4,238.1 367.6,234.9 368.3,234.9 368.9,235.6 369.9,232.8 370.1,233.3 369.6,232.3 370.2,231.6 371,231 370,231.8 371.4,231.4 370.7,228.5 370.6,230.7 371,229.2 371.4,227.5 371.3,227.4 373,227.8 371.9,227.2 373.4,226.5 373.2,225.9 373.9,223.3 374.1,222.6 373.6,224.8 374.8,222.8 375,222.1 374.6,221.6 375.2,219.9 375.7,220.5 375.1,220 375,219.5 376.4,218 375.9,218.2 376,215 377.3,214.4 377,214 377,212.9 376.7,213.8 377.6,212.1 377.2,209.4 378.3,206.9 378.9,210.2 378.5,207.8 378,207 378.9,205.3 379.9,206.3 378.7,204.6 379.9,202.4 380,202.1 380.7,201.9 380.2,198.9 381.6,198.3 381.8,198.3 381.3,196 381.6,195.2 381.7,194.6 381.1,195.3 382.5,192.6 383.2,191.2 383.4,193.1 383.8,190.1 382.6,188.6 383.9,188.4 384.1,188.6 383.8,187.5 383.4,187.1 384.8,186.3 385.2,184 384.5,182.8 386.1,183.3 385.7,184.4 386.5,181.9 386.5,183 387.1,181.1 386.3,179 385.8,180.6 387.1,178.9 387.9,177.7 388.3,177 388.5,177.2 388.6,176.6 388.8,174.9 388,175.1 389.2,174.6 389,171.8 389.1,171.2 388.6,170.1 390,168.7 389.5,171.3 390.1,168.8 391.1,169.2 389.9,170.5 391.4,167.8 390.7,164.1 390.8,163.4 392.4,166.9 392.1,161.9 392.5,164.5 393.2,163.7 392,164 392.6,162.6 394,162.1 393.6,157.9 393.4,162.2 393.9,160.1 394.1,161 394.3,157.4 394.1,159.7 395.1,160.3 394.6,157.4 395,159.5 396.4,153.7 396.2,155.5 396.9,151.4 396.3,152.1 396.3,153.6 396.9,150.5 397.5,149.9 397.4,153.3 397.5,147.9 397.3,151.8 399,148.5 399,150.1 398.4,149.1 398.7,149 398.6,145.5 400,145.6 400.1,147.4 399.3,146.2 400.6,144.9 400.1,143.2 401.1,146.7 401.7,145.6 401.5,143.6 402,140.7 402.3,144.2 402.7,142.3 402,144.2 401.6,136.4 402,140.5 403.2,141.8 403.5,140 404,137.9 403.9,138.1 404.4,141.2 404.6,142.6 405,135.9 405.2,141.3 404.6,140.8 406,136.9 406.1,135.9 406.3,139.1 406.2,132.4 405.6,137.3 406.5,140.1 406.7,134.6 406.8,132.9 407.1,135.7 407.3,132.5 407,137.1 407.8,138.4 408.9,130.6 408.3,137.4 408.6,132.6 408.6,131.2 409.1,132.6 409.7,132.5 410.3,129.8 409.5,136.3 410.5,131.5 410,128.8 411.5,132.7 411.2,128.3 410.9,134.4 411.5,130.4 412,132.3 411.7,129.4 412.6,126.2 413.3,130.1 412.9,132.2 412.8,129.3 414,127.1 412.6,133.5 414.2,132.5 414.8,126 413.6,128.7 413.6,130.5 415,132.1 415.7,129.9 415.2,130.3 415.4,129.6 415,130.2 415.6,128.1 415.4,131.6 416.9,128.8 417.5,130.5 416.2,129.9 417.2,125 417.3,130.3 417.3,124.8 418.4,126 417.3,126.9 418.9,123.9 419.4,123.1 419.8,124.3 419.4,129.8 420.2,129.2 419.2,125.9 419.3,122.9 420.9,126.8 421.3,122.4 420.2,127.7 420.1,121.7 421.2,122.4 422,121.1 422.3,126.7 421.3,127.6 422.8,120.8 422.7,124.2 423.2,126 423.7,126.1 422.3,122.8 424.3,127.4 424.2,124.9 423.8,121.9 424.9,125.5 424.2,125.8 424.4,121.7 424.4,128.7 424.7,125.4 426.2,124.1 425.8,126.4 426,128.4 426.5,124 426.5,127.9 426.4,123.1 427.5,122.1 427.8,121.7 428,126.6 427.7,123.6 427.6,123.8 429.1,122.6 428.3,128.7 428.4,121.3 429,123.7 429,128.4 429,125.9 428.9,128.5 430.1,124.7 429.5,121.9 429.9,126.6 431.3,128.3 431.2,124.5 430.8,128.5 431.7,129.8 431.7,127.9 431.1,124.2 432.5,125.7 432.1,129.1 433.3,122.6 433.5,128.6 434,132.1 434.3,125.3 433.5,127.8 434.8,125.2 434.5,124 434.1,125.6 434.1,126.9 434.4,123.7 436.1,130.9 434.6,124.9 435,129.9 436.4,130.5 435.8,131.2 436.4,130.1 437.3,133.5 437,130.5 437.6,127.2 437.2,132.6 437.2,132.1 438.6,134.2 438.6,126.3 438,134.6 438.6,131.4 438.2,132.1" fill="none" stroke="#0000ff" stroke-width="1.6" stroke-linejoin="bevel" clip-path="url(#cm)"/>
<polyline points="94.3,723.6 93.4,726.2 94,726.9 94.7,727.7 94.2,731 94.4,728.6 95.5,726.3 96,724.5 96,727.3 95.5,729.2 95.7,732 96.6,723.6 95.9,725.4 97.3,726.8 97.7,722.4 98.2,723.3 98.1,727 98.3,725.9 99,731.8 98.2,731.2 98.9,725.8 99.7,733.3 99.4,729.7 100.3,731.5 99.9,731.5 99.8,731.5 100.5,723.9 101.3,724.9 100.3,724.2 101.4,724.1 101.4,729 101.3,730.5 102.2,727 101.7,726.5 102.1,730.7 102.5,729.5 102.7,730.4 102.2,724.9 102.5,726.7 103,732 104.2,729.8 103.9,728.2 104,728.8 103.8,724 103.9,729.4 105.6,729.2 105.1,729.6 105.6,728.8 105.2,730 105.6,725.4 106,727.6 106.3,724.8 107.5,724.7 106.2,731.2 107,731.8 108,724.1 108.2,730.5 108.6,725.2 108.9,728.1 108.4,723 108,723.6 109.7,727 109,726.8 110,723.8 110.5,725.4 109.3,732.1 110.3,728.9 111.1,731 110.3,731.4 111.3,723.7 111.8,727.8 111.2,729 110.9,723.3 111.5,731.3 112.5,728.4 111.7,728.7 112.2,728.1 112.4,730.4 113.2,724.9 114.2,734.1 114.4,731.9 113.1,724.6 114.8,730.9 113.6,731.9 114.3,729.8 114.5,727.5 115.9,724.2 115.3,724.3 115.9,723.9 116,729.7 116.5,725.8 117.3,731.8 115.9,730 117.7,731.1 116.4,726 116.7,729.2 117.5,730.6 118,723.4 117.9,724.8 119.1,725.1 118.4,729 118.5,730.3 119.4,729.1 120,724.8 119.9,723.6 120.5,724.5 119.3,728.4 119.9,727.8 120.2,728 120.4,731.8 120.7,728.7 120.7,729.1 122.5,734 122.2,726 122.5,724.4 122.1,731.5 122.3,724.9 122.1,730.5 122.8,725.2 123.3,726.7 123,732 123.4,725 124.1,725.8 124.3,727 124.6,727.8 125.7,724.5 125,728.8 125.6,729.8 125.2,730.3 126.1,731.5 125.6,727.2 126.6,730.1 127.1,724.8 126.5,730.4 127.7,729.9 127.1,724 127,723.6 127.6,727.8 128.2,735 127.8,730.4 129.1,727.8 129.6,726.2 129.1,728.1 128.6,726.8 129.5,730 129.7,726.7 130,729 130.6,727.1 130.3,727.8 131.7,730 131.3,726.4 130.8,730.1 131.4,726.2 131.3,724.3 131.5,727.2 132.4,731.3 133.5,728.9 133.2,728 133.5,729.8 133.6,726.8 134.5,723.8 134.3,730.6 134,728 134.6,730.2 134,735 134.8,726.5 135,729.8 134.6,729.7 135.4,724.3 135.5,728.5 136.8,727.1 136.4,730.9 137.1,728.4 137.8,725.4 136.3,729.4 137.1,726.6 137.7,724 137.5,724.3 137.3,728.8 138.2,730.4 139,725.3 138.3,728.9 138.8,728.9 139.8,728.7 139.7,724.7 139.2,723.6 141,728.5 140.5,723.8 140.1,727.2 140.7,731.3 140.3,731.7 142,729.4 142.1,727.9 141.3,730.2 143,730.5 143.1,728.1 143.5,729.1 143.1,727.6 142.4,728.9 142.8,730.4 144,728.4 144.8,724.6 144.3,725.8 144.7,724.4 145.1,726.9 145.7,724.2 145.2,731.6 144.7,727.2 144.9,724 146.7,723.8 145.9,725.2 147.2,730.7 146.8,728.4 146.5,731.6 147.5,728.6 147,726.8 147.3,730.9 147.8,729.7 148.6,727.2 148.5,731.7 148.4,725.5 149.2,727 149.2,727.4 149.4,725.7 149.6,726.3 150.1,723.8 150,730.9 150.5,727.8 151.4,727.3 150.8,730.2 151.4,726.9 150.7,729.2 151.9,725.4 152,728.9 151.8,726.4 152.3,728.5 153.1,725.2 153.8,727.4 153.5,729.2 153.1,726.4 154.1,725.4 154.4,730.4 153.8,733.1 154.4,731.3 155.3,726.7 154.4,724 154.6,726 155.4,724.4 155.3,730.3 156.3,725.8 155.8,726.6 155.7,730.6 157.6,731 157.3,724 156.6,725 157.2,725.2 158.2,725.7 157.7,728.1 157.8,727.8 158.4,728 158.6,729.1 158.1,721.9 159.1,728.1 160.3,726.1 160.5,727.1 159.5,725.2 160.4,726.7 160.4,730.1 160.6,730.3 161,723.7 161.4,724.9 160.6,731.1 161.9,730.2 162.7,731.8 161.6,728.5 162.1,725.3 162.1,727.9 163.6,729.2 162.8,730.8 162.8,726.4 164.2,730.1 164.1,729.6 164.2,726.3 164.7,723.1 165.2,728.4 164.2,726 164.7,726.7 164.9,729.1 164.9,729.6 166.6,728.7 165.7,726.7 166.6,723.4 165.8,726.9 167.1,722.1 167.4,729.6 167.4,731.7 168.1,726.4 168.6,723.3 168.9,725.4 167.6,728.5 168.2,723.7 168.1,729.6 169.5,724.8 168.8,725.7 170.5,729.4 170.6,724.7 170.7,729.5 170.2,728.4 170.9,729.7 170.8,730.6 170.7,728.8 170.6,731.6 172.4,729.3 172,726.9 171.6,729.4 172.5,731 173,726.8 173.4,724.2 172.4,725.3 173.2,729.4 172.8,728.3 173.3,725 173.3,725.4 175.2,722.8 174.2,728.8 175.4,725 175.1,730.4 175.3,730.9 175.9,724.4 176.1,728.9 176.4,726.4 176.8,731.1 176.5,724.1 176.8,724 177.9,728.4 177.3,723.2 178.1,723.6 177.3,725 178.9,729 178,729.7 178.9,725.1 178.1,725.5 179.5,728.5 180.3,726 179,725.5 179.6,725.6 179.5,728.9 181.2,727.9 181.1,734 180.5,723.7 181.3,727.1 182.2,729.1 182.2,732.3 181.1,721.6 181.8,722.8 182.8,725.6 182.8,729.7 183.3,730.4 183.4,729.7 184,726.6 182.9,723.3 184.8,725.2 183.4,723 184.6,726.5 184.5,724.3 184.7,725.6 184.5,726.8 185.5,724 186.6,724.9 185.1,729.6 185.5,726.8 186.2,722.1 187.2,722.3 187.2,727.8 187.7,723.5 187,722.1 187.7,731.9 188.8,728.8 188.6,721.4 187.8,729.3 188.4,728.2 188.2,726.3 190,722.4 190.1,721.8 190.3,728.7 190.1,722.4 190.9,728.1 191.2,722.6 190.4,723.3 191.7,722.2 191.2,725.6 192,723.6 192,723.9 191.7,719.9 192.2,722.8 191.9,727.2 193.4,720.3 193.5,724.7 192.8,723.6 193.1,723.4 193,722.7 193.9,724.8 194.8,723.9 195.1,724.2 193.9,726.4 194.4,719.2 195.6,721.9 194.8,724.7 195.1,724.2 195.8,719.9 195.7,719.9 195.9,719.7 197.4,718.9 196.4,721.7 197.7,721 197.8,723.7 197.5,724.1 198.1,721.4 197.5,718.6 199.2,722.7 199.2,724.5 198.9,722.3 198.4,718.9 198.8,723.1 200.2,717.2 200.6,720.6 199.9,715.9 200.2,716.9 200,721.6 201.1,721.7 202,718.4 201.1,719.1 202,721 202.8,715.5 202.3,721.1 202.9,721.6 202.4,719.4 203,720.3 202.4,717 203.3,715.6 204.5,720.6 204.8,717.5 204.9,720.6 203.7,717.8 204.5,713.2 204.7,713.8 204.8,715.7 205,716.6 205.4,718.9 206.2,714.7 205.6,716.9 206.7,714.3 207,718.9 206.7,716.8 206.3,714.5 207.6,715 207.3,716.7 207.5,714.3 207.3,711.8 208.6,715.7 209,710 209.3,711.5 209.5,715.7 210.1,712.9 210.6,709.4 209.3,715.6 211,712.9 209.8,708.4 210.1,710.3 210.8,709.7 211.9,712.4 211.8,714.2 210.9,710.9 212,708.3 212.7,707 212.5,713.5 213.4,710.3 213.5,704.1 213,709.5 213,706.8 214.4,707.6 214.2,708 214.9,709.4 213.7,708 214.5,707.6 215,710.6 215.6,710.3 215.5,705.4 215.2,707.8 216,705.9 215.6,705.5 215.8,704.9 216.3,702.5 216.3,704.1 217,709.4 218.1,707 217.9,703.1 218.1,704.4 217.5,703.2 218.1,702.7 218,699.5 218.9,702.3 219.6,702.2 218.6,702.8 219,702.8 219.4,695.1 219.8,700.2 220.4,698.1 219.9,697.7 221.1,696.3 222,693.9 222.1,700 221.9,697 222.7,694.3 223,694.5 223.2,697.9 222.2,696 223.3,696.1 222.4,697 223.2,695.6 224.3,694.6 224.2,694.2 224.7,690.4 223.6,692 224.6,691.9 224.7,690.9 225.6,691 226.1,690 225.4,690.7 225.2,691.5 226.7,689 226.1,686.4 226.7,687 226.4,685.2 227.1,685.7 228,687.2 227.5,687.4 228,687.5 227.9,685.7 228.7,683.2 229.2,683.8 229.2,685.7 229.8,686.1 229.1,680.6 229.1,684.1 230.7,678.4 231.1,682 230.1,681.7 229.9,679.2 230.4,678.5 231.6,677.6 231.7,678.2 230.9,676.2 231.5,678.5 232,675.2 231.8,677.5 233.2,676.3 232.4,675.7 233,673.1 233.5,674.9 233,672 234,670.7 235,669.7 233.8,671.4 233.9,669.9 234.6,667.8 234.6,665.4 235.6,668.1 235.9,665.1 235.2,665.9 236.7,665 237,666.1 237.4,661.3 236.5,661.1 238,661.8 236.6,658.8 237.7,661.8 238.6,660.6 238.9,657.2 238.2,660 239,658.7 238.8,658.1 240,650 240.2,656.9 240.6,653.7 240.1,654.6 240.8,651.8 240.2,651.4 240.5,649.6 241.1,651.4 241,648.9 240.6,649 241.8,649.8 242.7,644.4 241.4,645 242,646.3 241.9,641.8 243.2,641.8 243.4,641.3 243.3,642.7 244.2,638.8 243.9,639.2 243.7,636.7 244.3,638.3 244.2,637.9 244.4,634.7 245.1,632.8 244.8,635.4 246.1,634.2 245.9,631.4 245.5,629.5 245.6,628.9 246.4,627.7 247.1,627.6 246.7,627.1 248.3,625.5 248,625 247.6,624.4 249,621.2 249.1,623 248.7,618.6 249.7,621.1 249.9,618.3 248.7,617.2 249.9,615.7 250.4,616.5 250.8,616.2 251.2,611 250.6,611.5 251.3,611.2 250.7,609.4 250.8,608.6 251.4,606.8 251.6,607.1 252.2,603.3 253.3,602.2 253.3,602.9 252.8,602.2 252.7,598.9 253.4,598.2 254.5,599.8 253.5,597.6 254.2,597.9 255.1,596.8 255.5,593.9 254.3,591.4 255.7,593.8 254.9,592.3 256.1,590.7 256.6,586.8 256.4,586.2 257.2,587.4 257.1,583.7 256.9,582 256.7,581.6 257.4,579.6 257.1,580.9 258.2,577.4 257.9,575.2 258.4,575 258.1,576 258.1,573.6 258.7,574 259,570.9 260.2,569 259.1,569.9 259.7,566.3 261.1,564.3 259.9,564.4 261.7,565.5 261.1,564.4 261.3,561.7 261.9,561.8 262,557.5 262.8,556.6 261.8,557.8 262.9,556.2 262.1,552 263.9,552.2 264.3,552.6 264.1,548.1 264.7,547.6 264.1,546.7 265.3,546.8 264.1,542.8 264.9,542.4 264.7,541.9 264.7,540.3 265.7,537.6 266.7,536.6 266.2,537.5 266.4,533.7 265.9,531.7 267.6,530.6 267.6,530.8 267.5,527.2 268.5,527 268.2,527.1 267.8,525 267.6,523.1 269.5,522.8 269.7,520.4 269.2,519.1 268.7,515.6 270.3,513.5 270.2,514.7 269.5,512.7 270,509.7 270.6,509.7 271.5,508.7 272.1,506.2 271.9,503.5 271.3,503.6 272.2,500.2 271.4,500.3 272.1,495.4 272.2,497.3 272.8,496 272.8,493.3 273.3,491.1 272.8,490.3 274.7,490.2 274.1,487.9 273.8,486.5 274.5,484.2 275,483.2 275.1,482.9 276.3,480.8 275.1,476.6 276.2,475.5 276.9,475.5 276.8,474.9 276.3,473.8 276.4,469.8 276.8,468.2 277.4,467.3 278,465.7 277.3,464.6 277.7,461 279,461.4 279.5,459.9 279,458.8 279.4,458.9 280,456.1 279,453.4 280.7,454.8 280.4,453.5 281.3,450.8 280.1,450.6 281.2,449.1 280.8,443.6 281.8,445.7 281.7,443.9 282.5,443.5 282.1,443.8 281.6,439.2 282.7,434.9 282.1,434.4 282.4,434.7 282.8,434.1 282.9,434.1 284.2,430.4 284.3,427.8 284.3,429 285.2,427.8 284.8,424.3 286,425.8 285.9,423.2 286,419.6 286.3,419.8 286.5,417.9 286.9,419.3 286.7,414.2 286.6,414.7 287.6,411.8 287.5,411.4 288.2,413.6 287.2,410.3 287.9,409.7 288.1,408 289.4,407.9 288.5,408.7 289.2,404.3 289.7,402.4 289.1,399.5 290.7,402.3 289.7,397.5 290.1,396.5 291.5,397 290.7,397.3 290.7,393.6 292.1,395.6 292,394.7 291.5,391.7 292.9,390.5 293.2,390.1 292.4,390.7 292.5,387.1 293.3,387.7 293.7,383.1 293.9,383.1 294.6,382.4 294,383 295.2,383 294.4,377.8 295.5,377.2 295.6,378.2 294.6,377.6 296.6,376.5 296.3,374.8 295.6,374.3 296.8,371.3 297.1,370.2 296.8,369.3 296.8,368.4 298.3,369.7 297.8,367.8 297.8,367.2 298.5,368.9 299.1,364.8 298.4,366.7 298.9,362.9 299.3,366.6 300.1,361.6 299.9,362.4 299.8,361.5 300.9,363.1 300.3,362.6 300.9,358.1 301.2,357.1 301.7,358.5 301.7,360 301.8,357.5 301.9,357 302,357.2 301.6,354.5 302.3,357.6 303.2,352.4 303.7,353.1 303,352 303.2,350.3 303.4,351.6 304.8,348.8 303.8,345.6 304.3,346.4 305.7,347.1 305.2,349.2 305.1,344.3 306.2,347.2 305.8,346 305.3,345.5 306,341.5 306.3,338.8 306.4,338.6 306.5,338.7 307.2,335.5 307.9,339.5 307.1,335.2 308.8,338 307.8,333.1 309.3,334.4 308.6,333.5 309.6,331 309.9,332.6 309.4,331.7 310.6,329.5 309.9,328.8 310.6,327.7 311.3,329.1 310.8,324.8 310.6,328.3 312.1,325.2 312,322.4 312.3,323.7 313,321.8 313.3,322.9 312,322 313.4,318.9 313.6,322.4 313.1,319.4 314.1,318.6 314.1,316.1 314.7,319.1 314.3,318.7 314.4,314.3 314.5,317.8 314.4,312.7 315.9,315.1 315.1,316.4 315.7,311 316.3,313.1 316.3,312.1 317,311.1 317,313.5 317.9,309.4 316.6,308.6 318.5,308.1 318.2,308 317.9,309.1 317.6,309.4 318.8,306.5 318.9,309.7 319.2,306.7 319.5,309.1 319.6,305.1 319.1,308.3 320.6,304.4 321,305.9 320.5,302.7 321.3,306.3 321.1,302.3 320.6,304.3 321.7,302.7 321.9,302.4 322.2,303.6 322.9,303.6 321.9,300.3 322.8,301.7 322.6,301.8 323.5,304 324,301.8 324.8,298.8 323.5,302.4 324.7,300.6 325.1,298.8 324.3,300.1 325.3,298.9 325.6,299.3 326.4,298.9 325.8,296.9 326.8,296.5 325.7,292.9 326.6,299.2 327.3,294.3 326.4,294.1 327.5,300.7 327.8,294.3 328.6,296 327.4,294.9 328.9,295.8 328.5,292 329.2,293.3 328.3,294.4 329.8,293.7 329.5,291.8 330.6,292 330.8,290.7 329.7,291.6 330.2,292.8 331.8,292.6 330.4,294.2 330.9,294.5 332.2,289.4 332.6,290.2 332.8,291.6 332.8,290.6 333.2,288.4 332.1,292 334,286.8 334.1,291.1 334,288.3 334.4,286.3 334.6,286.3 334.4,288.6 334.5,284.9 335.3,289.1 335.2,285.6 334.8,287.7 336.2,285.5 335.7,285.2 335.6,283.2 337.3,287.2 336.5,284.7 336.4,283.4 337.5,287.1 336.8,283.6 337.3,282.1 337.6,283.7 337.6,285 338.1,282 338.4,282.7 339.5,282.4 339.7,279 340.2,283.7 338.9,282.9 340.4,278.8 339.6,281.6 340.8,281.5 339.8,281.1 340.1,279.8 341.2,276.4 342.2,276.5 342.4,279.2 342.6,274.2 341.6,279.7 343.1,277.1 343.1,275.2 342.7,277 342.4,277.8 343.5,274.8 343.5,274.5 344.6,277.9 345.1,272.9 345,274.5 343.9,272.3 344.1,273.3 345.1,276.9 346.3,272.9 345.1,274.2 345.5,275.1 345.8,272.4 346.9,271.9 345.9,270.2 347.7,271.9 346.6,273.7 346.7,271.9 346.9,272 347.3,269.1 348.3,271.9 348,270.4 349,270 348.8,268.4 348.5,269.8 348.6,268.2 349.5,269.4 350.7,271.9 350.9,267.2 350.7,270 350.2,269.5 350.9,269.8 351.4,265.3 352.3,265 351.5,268.8 351.7,268.1 352.4,267.1 352.7,265.3 352.5,268.3 352.3,265 353.7,262.9 353.9,267.6 353,261.9 353.9,265.4 354.4,265.5 354.9,264.7 354.6,261.5 355,261.2 355.9,262.7 355.2,261 355.2,263.4 355.7,264.3 356.6,264.7 357.3,259.1 356.4,262 356.7,261.9 356.8,260.5 357.8,259.1 357.9,260.6 357.1,262 358.3,260 358.9,258 359.3,256.6 358.7,260.2 359.6,254.8 358.8,255.8 360.5,257.2 360.6,259.3 360.1,254.9 360.6,254 360.1,257.3 360.9,254.6 361.7,252.6 361.2,253.9 361.9,253.7 362.2,254 361.4,251.8 363,254.7 362.1,255.1 363.1,249 363.6,251.6 363.4,252.2 364.5,252.2 364.2,252.4 364.4,247.3 364.8,246.1 363.9,249.1 364.9,250.6 365.6,240.1 365,245.7 365.6,243.1 366.3,245.7 366.5,241.4 366,244.5 365.8,243.6 367.7,243.7 366.9,241.3 366.9,241.6 367.3,238.1 368.5,238.7 368.3,236.6 368.5,234.9 369.6,239.6 368.6,234.8 368.7,236.1 369.3,236.3 369.5,233.2 370.6,235.2 370.6,232.9 370.5,231.3 370,231.6 370.3,232.7 371.7,229 371.2,232.4 371,227.6 372.1,230.2 372.4,228 373,228.7 373.3,228.9 372.2,225 373.1,229.7 374,223.7 374.1,221.3 374.7,221.8 373.9,223.9 373.7,222.1 375,220.4 375.5,219.8 375.2,217.4 374.8,213.6 376.3,217.3 375.1,218.4 375.9,215 376.1,217 376.6,214.3 376.4,213.3 377.2,212.9 377.1,208.4 377.3,211.1 378.5,209.7 379,209.1 378.4,204.5 378.2,202.8 378.1,206.3 379.2,205.8 380.3,203.8 379.2,203.7 380.8,203.6 379.5,197.5 381.3,197.8 380.9,197 381.2,197 380.6,193.3 381.2,195.3 382.5,193.7 382.1,191.9 381.3,189.1 381.9,187.9 382.4,188 382.2,189.5 383.6,185.5 383.7,186.9 384.5,184.7 383.9,184.7 384.6,184.1 384.5,185.4 384,180.6 384.1,181.1 386,178.9 385.1,177.3 386.2,178.9 386.6,176.9 386.2,178.5 386.7,175.4 387.3,174.5 387.3,175.5 386.5,176.6 388,172.4 387.8,171.1 388.5,174.6 388.7,169.3 388,172.2 389.3,170.1 388.9,172 388.3,166.5 388.6,167.9 388.9,170.2 390.4,169.6 390.8,169.1 390.9,165.7 390.6,166.2 390.5,161.9 390.3,165.5 392.1,160.4 390.9,162.8 392.2,164.1 392.4,161.3 393.2,159.7 392.6,158.1 393.4,158.5 392.6,158.1 392.7,158.5 393,156.4 393.3,158.8 394,157.3 394,155 394,154.3 394.2,152.3 395.2,151.4 395.8,152.1 395.2,149.2 396,150.5 395.5,153 396.6,148.1 396.1,148.4 396.6,147.9 397.2,149.4 398.2,150.2 397.5,146.5 398.1,148.7 398,144.5 398.2,144.8 399.4,145.5 398.8,142.8 399.8,145.2 400,143.5 400.2,141 399.5,142.7 400.5,142.2 399.9,145.1 401.4,143.8 400.6,139 400.6,140.9 401.1,143.8 401.6,139.4 402.2,137.9 403,141.9 402.8,136.7 403,141.5 403.6,139.6 403,136.8 403.3,136.9 403.5,138.8 404.3,138.3 403.4,139.1 405.2,138.8 405.4,140.2 404.7,140.2 404.9,132.7 406.1,135 405.2,136.5 406.8,138.6 406.2,134.9 406.4,139.3 406.1,139 406.5,133.3 406.3,137.4 408,132.2 407.1,136.5 408.5,138.6 407.6,136.6 408.9,131.3 409.1,136.2 409.7,133 408.7,137.6 409.1,132.2 409.2,133.9 410.5,132.4 409.7,136.2 410.1,136.2 410.8,131.5 411.2,134.3 411.4,128.8 411.8,130 412.6,134.8 412,133.5 412.1,132.9 412.4,133.5 413.3,129.2 413.5,128.3 412.6,134.3 413.6,127.4 414,130.9 414.6,133.5 415,127.5 414,131.5 415.1,134.4 415.2,127.3 415,128.6 415.6,131 416.6,131.1 416.8,127.7 416.3,125.8 416.2,124.4 416.5,126.1 416.1,133 417.7,129.5 417.8,127.6 418.6,130 417.1,129.5 417.8,131 417.9,127.2 418.4,125.5 418.6,128.4 419.6,124.8 418.7,129.3 418.8,128.9 420.1,127.9 420.5,128.3 420.8,128.1 420.9,130.9 421.6,127.2 422,130.6 421.3,124.9 421.5,129 422.5,130.9 422.7,131.6 421.6,128.4 423.5,130.5 422.4,129.8 422.8,126.6 423,128.5 424.4,131.6 423.6,126.4 423.7,127.7 424.8,125 424.7,132.2 424.9,130.3 425.6,132.2 425,130.7 425.8,127.4 426.6,132.9 425.6,132.3 425.6,129.7 426,133.4 426.9,126.7 427.7,131.4 427.3,127.5 426.9,133 428.5,127.3 429,128 429.3,130.7 428.1,129.2 429.8,130.8 429.2,132.2 429.4,130.5 429.7,130 429.2,126.4 430.1,127.5 430.7,128.2 430.4,128 431,128.4 431.3,131.6 432.1,139 431.3,127.7 432.1,129.4 431.4,132.1 432.8,134.7 431.9,131.3 432.5,132.9 432.5,129 432.7,137.1 434.5,131 434.4,134.9 434.7,133.6 434.1,129.6 435.6,138 434.8,132.2 435.6,132.7 435.4,132.8 436.4,137.3 435.2,135.4 435.4,137.8 435.7,134.3 436.8,132.3 436.4,132.8 436.9,134.9 436.7,137.6 438.4,139.2 438.8,138.7 438.6,139 438.7,134.3 439.1,132.9 439.2,136.2" fill="none" stroke="#00ffff" stroke-width="1.6" stroke-linejoin="bevel" clip-path="url(#cm)"/>
<line x1="284.4" y1="455" x2="284.4" y2="479" stroke="#000" stroke-width="1.0"/>
<rect x="93.7" y="18.4" width="345" height="747" fill="none" stroke="#000" stroke-width="2.7"/>
</g>
<rect x="0" y="0" width="305.1" height="330.4" fill="#fff"/>
<rect x="0" y="330" width="92" height="50" fill="#fff"/>
<g style="opacity:0.9999">
<path d="M94.8 276.7L94.8 268.9M94.8 18.5L94.8 26.3M114.9 276.7L114.9 272.1M114.9 18.5L114.9 23.1M135 276.7L135 268.9M135 18.5L135 26.3M155.2 276.7L155.2 272.1M155.2 18.5L155.2 23.1M175.3 276.7L175.3 268.9M175.3 18.5L175.3 26.3M195.4 276.7L195.4 272.1M195.4 18.5L195.4 23.1M215.5 276.7L215.5 268.9M215.5 18.5L215.5 26.3M235.6 276.7L235.6 272.1M235.6 18.5L235.6 23.1M255.8 276.7L255.8 268.9M255.8 18.5L255.8 26.3M275.9 276.7L275.9 272.1M275.9 18.5L275.9 23.1M296 276.7L296 268.9M296 18.5L296 26.3M94.8 262.6L99.4 262.6M296 262.6L291.4 262.6M94.8 237.2L102.6 237.2M296 237.2L288.2 237.2M94.8 211.9L99.4 211.9M296 211.9L291.4 211.9M94.8 186.5L102.6 186.5M296 186.5L288.2 186.5M94.8 161.2L99.4 161.2M296 161.2L291.4 161.2M94.8 135.8L102.6 135.8M296 135.8L288.2 135.8M94.8 110.5L99.4 110.5M296 110.5L291.4 110.5M94.8 85.1L102.6 85.1M296 85.1L288.2 85.1M94.8 59.8L99.4 59.8M296 59.8L291.4 59.8M94.8 34.4L102.6 34.4M296 34.4L288.2 34.4" stroke="#000" stroke-width="2.4" fill="none"/>
<rect x="94.8" y="18.5" width="201.2" height="258.2" fill="none" stroke="#000" stroke-width="2.7"/>
<polyline points="90.7,307.3 91.2,310 91.2,308.1 91.7,304 92.7,308.8 92.8,304 92.5,301.9 93.3,306.1 93.6,307.5 93.5,303.7 93.7,300.5 94.6,304.2 95,300.1 95.1,299.1 95.6,296.4 95.8,299.1 95.9,299.7 96.1,294.5 97.2,294.8 96.6,293.7 98,294.2 98.2,294.6 97.5,290.2 98.4,288.3 98.8,290.3 99.3,286.6 99.8,286.1 99.5,285.2 100.6,286 100.8,286.9 100.2,285.7 100.9,283.2 101.1,282.4 101.6,280.3 101.7,278.9 101.9,281 102.6,281.4 102.7,279 103.5,279.9 103.3,277.7 103.9,273.4 104.3,277.5 104.6,269.8 104.9,275.6 105.8,274.2 105.7,269.1 105.4,270.9 106.2,269.1 106.4,268.5 106.4,269.6 107.5,268.9 108,266.1 107.6,267.7 107.9,262.1 108.1,264.6 108.5,265.1 109.5,262.9 109.3,262.3 110,262.3 110.4,261.6 110.4,258.9 111.2,259.8 111.1,257.1 111.5,256.7 111.5,252.4 112,253.2 112.6,248.5 113,253.3 113.2,249.3 113.8,251.4 113.3,247.4 114.3,246.2 114.6,245.4 115.4,249.1 115.4,244.9 115.7,243.8 115.7,242.9 115.9,244.1 116.3,241.6 117.2,242.6 117,243.5 117,242.9 117.6,240.6 117.6,240.8 118.4,235.5 119.2,234.9 119.7,233.9 119.7,236.3 119.3,231.7 120.1,233.5 120.9,232 120.3,234 121,229.3 121.5,227.8 121.9,232.3 121.7,230.8 122.1,229.8 123.3,228.6 123.6,229.2 123.6,227.6 123.6,223.1 124.2,223 124,224 125,224.4 124.8,221 125.9,219.6 126.2,218.7 126.3,221.3 126.7,217.8 126.6,216.5 127.3,218.4 127.5,216.3 128.1,214.8 128.5,211.8 128.7,212.4 128.3,212.3 129.5,210.1 128.9,213.5 129.7,207.7 130.4,210.4 130.6,209.3 131.3,207.2 130.4,207.6 131.9,206.3 131.8,207.2 131.7,206.7 132.3,205.8 133.1,201.6 133.6,204.4 133.7,201.1 133.2,201.2 134.5,200.7 134.8,201.7 134.2,199 134.8,199.6 134.9,194.6 136.2,197.2 136.2,196.5 136.3,194.1 136.5,191.1 137.4,189.8 137.4,189 137.1,190.1 137.5,192.9 137.8,188.6 138.5,188.9 139.3,188.2 139.8,186.8 139.6,189 139.4,187.8 140.4,187 140.9,184.4 141,184.4 141.7,184 142,181.9 141.5,182.3 142.3,177.5 142.3,179.9 143.4,178.3 143.4,176.8 143.9,175.7 143.3,172.7 143.6,175.9 144.4,175.5 145.3,172.9 144.9,173.5 146.1,171.6 146.1,168.6 146.1,169.6 147.1,168.8 146.5,167 147.2,169.2 147.2,166.8 148.1,165.3 147.9,166.9 148.4,167.9 149.4,164.5 149.3,164 149.4,161.3 149.7,159.1 150,159 150.2,159.4 150.3,158.4 150.9,158.8 151.5,155.3 151.6,157.8 152.3,155.2 152.4,154.5 152.7,153.3 152.8,150.8 153.7,154.7 153.4,150 154.6,154.7 154.8,152.3 154.4,148 155.3,150.2 156,145.8 156,146.1 156.5,145.3 155.9,146.9 157,143.1 157.1,144.4 158,141.2 158.2,146.5 157.9,143.4 158.5,144.8 158.8,140.4 159.3,140.6 159.5,137.4 160,139.4 159.5,141.9 160.2,136 160.9,138.1 161.6,136.7 160.9,136.7 161.2,134.2 162.4,138 162,135.7 162.2,136.2 163.5,131 163.7,134.7 163.2,134.6 163.8,129.6 164,132.7 164.7,131.1 165,129.7 165.1,129.3 166,130.9 166.5,129.6 166.1,131.3 166.7,125.1 166.8,127.6 167.9,119.8 168.1,123.5 167.4,126.7 167.8,122.4 168.5,120.9 169,122.5 169.5,119 169.2,118.3 169.7,121.7 170.7,118.2 170.5,117.4 171.3,116.4 171.7,120.1 171.8,114.2 172.3,118.9 171.8,116.4 172.8,117.4 172.7,112 172.7,113.5 173.2,114.9 174,116.9 174.1,113.7 175,110.6 174.7,113.6 174.9,109.2 175.7,107.7 176,106.9 176.6,111.4 176.9,110.1 176.7,105.3 176.9,109.7 177,106.7 177.5,104.3 178.5,105.6 178.4,105.9 178.3,103.4 179.4,102.8 179.2,102.8 179.4,101.3 180.4,100.2 180.8,104.2 180.7,102.6 180.8,101.1 181,96.7 181.5,95.6 181.8,98.5 183,100.6 182.6,95.1 183,98.1 183.5,96.6 184.3,95.1 184.1,91.9 184.7,95.3 185,91.1 185.4,92.3 185.8,89.7 185.7,91.8 186.3,94.3 186.3,87.5 187,92.7 187.1,88.1 187.6,89.7 188,85.5 188.6,84.8 188.1,89.8 188.3,86.5 188.6,85.4 189.1,81.7 190,81.6 190.5,84.6 190.2,84.7 191.3,85.1 191.4,82.9 191.1,78.5 191.2,77.8 191.9,81.3 192.8,77.2 192.5,76.5 193.4,76 193.8,80.5 194.3,75.8 194.2,79.4 194,79.7 194.8,76 195.4,74.2 195.1,74.5 196.2,77.7 196.4,75.7 196.5,75.5 196.6,70.3 197.2,70.4 197.3,70 198.1,72.7 197.5,68.6 197.8,67.9 198.2,68.3 199.1,68.4 199.4,73.1 199.3,67.9 200.4,71.4 199.8,70.6 200.8,70.4 201.5,64.1 201.8,70.1 202.1,70 201.5,63.2 201.8,68.4 203.1,69.2 203.1,66.8 203.2,61.7 203.1,62.3 204.6,64.5 204.8,62 204.7,66.1 205.1,59.7 205.1,64.6 206.1,60.7 206.2,58.3 206.4,58.3 206.7,57.8 206.4,60 207.8,57.4 207.8,57.4 208.2,62.4 207.9,59.6 208.6,60.3 209.5,54.8 209.7,63.1 209.3,59.7 209.8,55.3 210.5,52.8 210.7,58.5 211.1,57.5 211.2,57 211.4,58.1 211.4,53.2 212,51.9 212,50.3 212.7,50.4 213.5,56.9 213.2,52.4 214.2,49.6 214.2,54.7 214.5,50.9 215.2,53.6 215.7,50.5 215.4,52.6 216.3,48.2 216.6,48.3 216.5,47.1 216.6,52.8 216.9,51.2 217.6,46.3 217.6,48.5 218.7,52.4 218.4,52.2 218.5,51 219.1,48.8 219.4,51.2 219.9,50 220.6,45.4 220.5,51.6 221.1,48.3 220.8,49.1 222,45.4 222.3,45 222.7,42.7 222.9,41.4 223.1,47.6 223.4,47.7 223.2,42 223.3,47.9 224.4,47.1 224.6,48.8 224.9,44.8 225.4,48 225.3,43.4 226,39.5 225.8,45 226.4,44.5 226.6,40.4 226.8,39.1 227.4,38.7 228.2,44 228.1,39.9 228.6,39.2 229.2,44.5 229.6,41 229.8,38 229.5,42.4 229.4,42.4 230.2,43 230.9,37.8 231.1,37.5 231,43 231.2,35.9 231.7,38.4 231.9,36.4 232.2,41.5 233.3,37.4 233,34.5 234.1,36.6 234.6,40.9 234.5,36.1 234.5,33.9 234.5,34.5 235.6,39.1 235.8,37.1 235.8,33.4 236.2,38.1 237,34.8 237.1,33.2 237.3,37.7 237.3,37.8 237.6,32.5 238.6,31.7 239.1,34.1 239.4,31.5 239.7,34.8 239.5,32.4 240.5,37.7 239.8,32 240.8,37.1 240.9,34.3 241.3,33.6 242,30.8 242.1,32.4 242.7,33.6 242.7,30.4 243.4,28.6 242.8,32.9 243.1,29.9 244.1,30.9 244.7,30.2 244.6,30.7 244.3,32.1 245.6,34.5 245.7,29.7 246,32.3 245.9,27.7 246.2,32.5 246.7,32.7 247.8,29.2 247.4,32.1 248.4,29 247.8,28.7 248.6,26.7 249.1,26 249.6,32.1 249,30.9 249.5,25.5 250.2,32.7 251,31.4 251.2,30.2 250.8,24.4 251.7,29.5 251.3,27.3 252,30 252.5,24.8 253,26.4 253.2,29.9 253.3,23 253.9,24.1 253.6,30.2 255,23.3 254.8,28.1 255.5,28.7 255.8,29.2 255.2,25 256.4,24.3 256.5,23.1 256.8,21.9 257.3,23.6 257.3,20.6 257.2,27.4 257.7,26.2 258.6,24.2 259,27 258.5,25.2 258.9,26.4 259.9,26.6 260.6,24.1 259.8,24.8 260.2,21.2 260.9,23.6 261.8,20.9 261.9,20.6 262.6,25.7 262.3,21.8 262.5,20.3 263.2,19.7 263.4,24.8 263.9,24.3 264.2,18.8 263.8,18.4 264.1,20 265.4,21.1 265.7,23.2 265.6,20 266.1,22.3 266.3,23.5 267,20.7 266.5,17.4 267.6,20.9 268,15.3 268.2,21.9 268,24.1 269.2,23.1 268.8,21 269.2,22.9 269.9,18.9 269.6,16.7 269.8,20.4 270.6,17.1 270.8,21.5 270.8,20.1 271.9,16.5 271.4,15.9 272.6,19.1 273.1,15 272.3,19.8 273.7,19.3 273.1,18.3 273.5,18.6 274.1,16.6 274.2,21.6 274.8,20.5 275.7,14.7 275.5,15 276.1,16.7 276.8,15.3 276.7,15.7 276.6,17.8 277.6,12.8 277.7,20.5 278,13.7 278.6,20.1 278.9,14.6 279.2,16.3 278.9,17.1 279.9,19 280.1,15.1 280.3,20.3 281,17.8 280.4,11.8 281.6,15 281.8,19.5 282.2,14.3 281.9,15.8 282.1,10.4 283.3,19.5 283.3,14.5 283.3,19.9 284,14.2 284.1,15.1 284,13.4 284.3,15.8 285.7,11.9 285.9,18.8 285.3,15 286.6,16.7 286.6,15.9 286.3,14.1 286.7,16.6 287.2,14.6 287.6,18.1 287.6,12.7 288.2,12.2 289.1,14 289.6,15.5 289,17.1 290.3,16.7 289.8,13 291,11.9 291,15.6 291.2,15.2 291.5,18.2 292.1,13.1 292.5,17.1 292.3,16.2 292.6,17 292.7,12.1 293.2,12.5 293.9,12.9 293.6,12.2 293.9,14.4 295,9.3 294.8,14.3 295.8,14.2 295.4,15.7 295.5,15 296.9,15.8 296.6,11.1 297.1,14 297.6,8 297.3,13.8" fill="none" stroke="#000000" stroke-width="1.5" stroke-linejoin="bevel" clip-path="url(#ci)"/>
<polyline points="90.5,303.7 90.7,301.1 91,302 92.1,301.1 91.7,300.2 92.3,295.9 92.9,299.5 93.3,296.9 92.8,297.1 93.8,300.2 93.7,293.8 94.8,293.9 95.3,291.1 95.6,291.4 94.9,290.2 95.6,291.7 95.9,292.4 96.9,291 97,290.8 96.7,286.2 97.7,284.5 98.1,288.5 97.6,285.5 98.2,286.1 99.1,288.5 98.9,283.3 99.4,276.2 100.1,284.6 100.2,282.9 100.8,278 100.9,276.5 101.3,277.5 100.8,277.9 101.9,274.2 101.8,274.2 102.9,272.9 102.5,272.3 103.6,269.6 103.4,273.4 103.2,270.3 104,267.2 104.5,270.6 104.9,265.3 105,266.2 104.7,265.2 105.3,266.5 106.1,263.7 106.8,263 106,261.5 107,260 107,262.7 107.7,258.7 107.7,260.8 108.1,256.2 108,258.4 108.6,258.6 108.9,256.2 109.4,257 110.1,254.9 109.9,253 110.2,254 110.9,248.6 111.2,251.6 111.1,249.1 111.5,249.2 112.3,245.9 112,246.3 113.3,246.1 112.8,245.3 113,243.9 113.7,243.7 114.7,245.5 114.6,239.6 114.5,242.8 115,239.4 115.9,239.4 116.4,243.3 116.6,234.9 116.8,239.6 116.7,236.4 117.1,234 117,234.2 117.7,230.9 117.8,232.1 118,232.1 118.8,229.1 119.6,232.1 119.5,229 120,228.5 120.1,226.3 120.9,229.4 120.4,226.9 120.7,222.6 120.9,224.9 121.8,220.8 122.1,223.9 122.4,223.3 122.4,222.1 123.3,220.6 123.8,218.5 123.6,215.9 124.1,219.6 124.3,219.8 125.3,217.9 124.8,215.3 125,209.7 126,218 126.3,210.1 126.9,213.5 126.6,211.1 127.6,210.5 127.1,211.4 127.5,211.7 127.5,203.2 128.3,205.1 128.7,209.1 129,203.8 129.9,207.6 130.2,207.1 130.3,201.8 131,203.9 130.2,199.2 130.9,203 130.9,200.1 131.4,200 132.2,198.7 132,200.7 132.5,195.3 133.5,194.4 132.8,197 133.3,194 133.8,193.3 134.4,194.1 134.4,189.7 135.4,193.9 135.1,188.7 135.3,190.4 135.7,191.6 135.8,186 136.8,186.2 136.4,187 136.9,184.9 138,185.5 138.4,182.7 138.2,186.8 139,181.5 139,181.3 138.7,179.2 139.1,180.3 139.8,179.8 140.8,181 140.7,178 141.1,175.1 140.7,177 141.7,177.8 141.9,175.1 142.7,173.6 142.5,172.3 142.9,171.6 142.8,173.5 143.8,173.9 143.7,171.8 144.5,169.7 144.1,169.6 145,170 145.6,170.6 145.8,164.6 145.5,164.4 146,166.8 146.2,166.1 146.5,161.6 146.7,161.2 147.9,161.4 147.3,164 148.7,160.1 148.2,163 149.2,160.6 149.5,156.4 149.7,160.5 149.7,162.5 149.6,156.1 150,151.5 150.7,157.2 151,157.7 152,151.4 151.6,148.1 152.6,153.8 152.5,149.5 152.5,148.7 153.2,149.5 153,151.2 153.4,146.5 154.7,145.8 154.5,150.9 154.6,148.7 155.4,144.5 155.4,144.9 156,147.8 156.4,143.9 156.8,144 156.6,143.7 157.5,139.5 157.9,141.5 157.7,137.6 157.9,140.4 157.9,140.7 159.3,136.7 158.8,141.4 159.4,139.7 159.2,134.3 160.1,137.9 161,136.5 160.9,133.9 161,137.9 161.3,136.1 161.8,134.4 161.5,135.6 162.7,133.6 162.5,132.5 163.3,132.9 163.1,129 163.6,128.1 164.3,130.3 163.8,128.8 164.3,131.2 164.6,129 165,128.8 165.6,121.7 165.7,126.2 166.4,126.4 166.4,125.2 166.5,124.8 167.6,125.2 167.3,119.9 168.1,125.2 168.4,120.5 168.7,119.4 169.3,124.2 169.1,118 169.3,118.1 170.5,120.2 170.6,116.5 170.2,119.8 171.4,116.3 171.6,114.7 171.1,118.5 171.7,119.5 171.7,119.2 172.7,112.8 173.3,112.6 173.4,116.4 173.5,114.5 174.5,111.9 174.3,115.1 174.2,115.4 175,109.8 175.4,108 175.2,110.9 175.5,104.9 176.6,108.3 176.5,107.4 177.2,108.5 176.7,108.8 178,107.3 178.4,103.9 177.8,107.3 178.4,103.6 179,101 179.5,104.8 179.5,102.6 179.9,102.9 180.3,101.7 180.1,103.5 180.3,102 181.2,103.5 181.6,99.4 181.6,98.5 182,101.6 182.6,95.9 182.3,100.6 183.3,95.8 184,95.1 184.1,98.3 184.2,96.2 184.8,92.9 184.4,93.7 185.5,95.6 185.2,95.6 185.7,97.5 186.5,93.3 186.4,93.9 187.2,90.5 187.2,91.4 187.6,92.8 187.4,89.7 187.8,90.7 189,88.6 188.4,86 188.6,85.1 189.5,88 190.2,88.7 189.9,89.1 190.8,85 191,83.2 190.7,81.2 191,85.7 191.7,79.3 192.1,81.9 192.5,82.7 192.8,78.5 193.7,78.3 193.1,80.9 193.7,83.4 193.5,79.8 194.1,77.8 195.2,81.5 194.8,80.1 195.4,74.9 196.2,76 195.7,75.1 195.9,78.6 196.6,74.2 197.2,72.9 196.9,71.9 197.8,74.9 198.5,75.6 198.2,77.4 198.7,70.9 199.2,74.2 199.8,74.1 199.6,74 200.3,71.6 200,67.4 201.1,68.8 200.6,71.3 201.1,73.1 202.1,65.8 202,66.3 202.8,68 202.9,67 202.8,69.4 203.1,64 204.1,63.5 204.4,67.7 204.3,66.1 204.7,68.9 204.8,64.6 205.4,66.9 205,64.6 206.3,62.2 206.8,61.4 207.1,61.5 207.5,60.9 207.8,65.5 207.4,61.4 208.2,59.3 207.7,60.1 208.4,62.4 209.4,58.6 209.1,60.3 209.2,58 209.8,57.1 210.8,56.7 210.3,56.8 211.3,59.1 211.6,55.7 211.4,61.6 212,56.8 212.7,61.6 212.9,54.2 212.9,57 212.6,60.9 213.9,59.8 213.3,56 214.6,58.5 214.6,58.5 214.5,53.8 215.3,58.1 215.9,52 215.5,56.9 216.7,55.2 216.2,53.8 216.8,55.9 217.6,53.1 217.4,50.5 217.9,51.3 218.7,55.2 218.3,51.2 218.8,54.3 219.6,55.4 219.5,53.3 220,51.6 220.3,48.1 219.9,47.7 221.1,47.9 220.6,51.5 221.7,47.9 221.7,47.8 222.1,53.1 221.9,47.3 222.4,47.8 223.2,53 223.2,49.2 223.4,51.5 224.4,49.3 224.7,47.6 224.5,51.7 225,48.1 225.3,48.3 225.6,49.6 226.3,44.1 226.7,43.8 227,44.8 227.1,45.6 226.9,48.7 227.8,46.4 228.7,42.6 228.2,44.7 228.8,49.6 228.6,43.4 229.6,44.2 229.3,44.9 230.4,45.2 230.1,44.2 230.7,49.5 230.6,42.1 231.1,42.6 232.2,42.3 231.8,45.7 231.8,46.8 233.1,44.4 232.4,50.1 233.5,42.2 233.2,46.4 234.1,41.6 233.9,42.5 234.1,46.3 235,45.9 235.6,45.2 235.7,45.7 235.6,42.2 235.9,43.9 236.8,39 236.7,37.8 237,39 238.1,43.3 237.6,38.2 238,44.4 238.7,39.8 238.9,42 238.8,43.6 239.5,41 239.8,35.6 240.8,41 240.9,40.8 240.5,37.6 241.2,36.1 241.6,41.3 241.8,40.5 242.7,39.3 243.1,38.4 242.7,38.1 243.2,37.8 243.9,36.8 244.4,40.7 244.2,34.3 244.1,36.3 244.8,33.6 244.9,33.2 245.2,33.3 246,33.6 246.7,34.5 246.9,33 246.7,35.7 246.9,35.2 247,31.9 248.2,30 247.9,31.8 248.3,36.8 249.4,31.7 249.1,31.5 248.9,32.1 249.7,31.6 250.1,34.9 250.4,34.3 251.1,36.8 251.1,32 251.1,29.8 251.6,35.6 252,35.9 252.5,31.4 253.1,32.1 252.8,33.3 253.2,31.8 254,31.2 254.3,32.3 254.9,31 254.4,28.6 254.9,27.3 255.8,27.7 256.2,32.4 256.1,27.6 256.7,30.4 256.2,32.1 257.3,30.1 257.6,27.9 258,33.2 257.7,29.6 258,29.5 258.6,29.9 258.6,30.9 259.2,29.6 259.7,25.5 260.4,26.6 260.6,25.7 260.4,31 261,27.1 260.9,31.9 262.2,28.7 262.5,31.8 262.7,26.5 263.3,29.2 262.5,30.4 263.5,28.2 263.8,27.9 263.8,25.9 263.9,23.8 264.8,26.8 264.9,27.2 265.6,23.8 265.1,20.8 266.1,28 266.4,25.5 266.5,22.7 266.9,29.2 267.9,29.2 267.2,21.7 267.7,27 268.3,29.3 268.5,23.7 268.9,23.6 269.9,29.1 269.8,26.2 269.8,21.7 270.5,22 270.1,25.5 271.3,26.1 271.5,22.7 271.3,24.4 271.8,22 272,24.8 272.3,22.4 272.9,20.1 272.8,20.1 274.2,23.1 273.9,25.3 274,21.6 274.3,20 274.5,24 275.5,23.5 276,23.2 276.4,23.1 276.5,22.6 277.1,21.6 276.9,20.1 277.5,26.4 277.4,19.8 277.9,20.2 278.5,20.1 278.6,24.1 279,20.4 278.8,21.3 279.3,25 279.5,22.6 280.5,17.9 280,23.9 280.9,20 280.8,19.3 281.5,17.8 282,19.8 282.6,21.5 282.1,21.6 283.2,23.6 282.6,22.8 284,23.3 284.3,21.7 284.5,23 284.2,23.1 284.6,19.9 285.7,23.2 285.1,17.9 285.5,20.3 286.1,17.2 286.9,16.1 286.5,12.7 286.8,22.8 287.1,20.2 287.2,15.5 288,16.2 289,17.3 289.2,20.1 289.6,20.3 289.5,21.6 289.8,19.1 290.6,19.9 290.2,21.1 290.5,16.9 291,16.5 291.2,19.4 292.2,21.1 292.4,19.6 291.9,14.9 293.3,13 293.6,13.3 293.7,14.9 293.2,14.5 293.7,19.6 294.6,16.3 294.9,17.4 295.1,14.9 295,19.8 295.2,15.5 296.3,18.5 296.4,16.5 296.4,13.1 297.5,14.8 297.7,18.8 297.9,17.2" fill="none" stroke="#ff0000" stroke-width="1.5" stroke-linejoin="bevel" clip-path="url(#ci)"/>
<polyline points="91.1,292.9 91.4,293.2 91.7,292.2 91.6,291.5 92.3,294.5 91.9,293.6 92.7,289 93.3,290.1 93.3,289.4 94,288.9 94.6,286.1 94.6,286.5 95,284.7 95.1,283.9 95.1,283.5 95.6,286.9 96.3,285.1 96.1,280.6 96.4,280.3 96.5,279 97.2,281.2 97.4,281.8 98,278.7 98.8,275.7 98.8,276.3 99.4,277.9 99.7,276.3 99.8,277.1 100.5,273.3 100,276.3 100.8,268.6 100.7,271.6 101.3,271.1 101.7,270.6 101.8,267.7 102.6,269.7 102.6,266.3 103,266.5 103.1,263.5 103.9,263.9 104.1,260.2 104.2,261.5 104.8,258.8 105.5,261 105.7,259.6 105.1,260.4 106.6,256 105.9,257.5 106.5,254.6 106.4,252.9 106.8,256.8 108,250.8 107.8,252.3 108.6,253.1 108.7,253.7 108.7,247.6 108.9,251.4 109.6,246.6 109.7,245 109.7,248.2 110.1,243.1 110.6,247.4 111.1,246.3 112.1,242.8 111.4,243.2 111.8,242.4 112,243.1 113.3,239.7 113.2,238.2 113.9,236.9 113.8,240.1 114.2,236.7 114.3,233.7 114.4,232.8 115.3,234.9 115.3,231.8 115.5,230.3 116.2,230.5 116.6,231.7 116.9,229.1 116.9,227.1 117.4,226.7 117.6,228.5 118,225.6 118.8,228.7 118.4,223.2 119.1,217.7 119.9,225.1 119.9,221.7 119.8,220.3 120.6,223 121.4,220.3 121,220.3 121.5,217.6 121.7,218.6 122.5,217.8 122.8,214.8 123.4,213.8 122.6,216.1 123.5,213.4 123.4,213.5 123.7,211.9 124.3,212.1 124.6,210.9 125.5,210.8 125.4,208.2 125.8,210.4 126.2,208.8 126.8,209 127.3,208.2 126.9,207.6 126.9,204 127.5,200.3 127.9,200.9 128.7,199 128.3,200.1 129.3,198.6 129.6,199.6 130.2,193.5 129.6,196.7 129.8,197.5 130.8,196.4 131.6,196.7 131.2,196.5 132.2,196.7 131.5,194.9 131.9,190.3 132.7,190.3 132.4,193 133.5,188.4 133.3,188.1 133.5,189.8 134.9,185.8 134.7,184 134.9,184.3 135.9,188 135.2,182.2 135.6,181.7 136.8,183.8 137.1,182 136.9,180.4 137.6,179.8 137.3,181.1 138.4,179.1 138,179.9 138.5,179.1 139.2,177.1 139,174.6 140.2,174.3 140.3,173 140.3,173.3 140.3,173.4 140.4,171.1 141.7,169.7 141.4,174.1 142.1,169.4 142.3,167.3 142.7,168.9 143.5,168 143.2,170.2 143.9,168.7 143.6,168.2 144,164.4 144.1,166.4 144.3,165.4 145,163.1 145.7,164 145.5,160.4 146.1,161.8 146.5,159.7 146.6,161.1 147.1,161.7 148.1,156.8 147.9,158 148,157 149,158.5 148.7,156.8 149.8,158 149.2,153.6 150,152.1 149.6,152.3 150.7,149.2 151.2,154.9 151.5,149.6 151.8,151.3 151.6,151.8 151.8,151.8 152.2,147.9 152.9,149.6 153.2,151.6 153.2,145 154.1,148.1 154.2,142.6 154.2,147.2 154.4,143.8 155.5,146.3 155.9,139.7 155.6,143.8 156.6,138.7 156.6,142.1 156.8,140.2 156.7,138.1 157.6,138.7 158.3,137.8 158.6,134.3 157.9,136.6 158.3,133.2 159.2,134.3 159.2,132.4 159.7,132.1 159.5,136.7 160.2,131.6 161.3,133.4 161.1,129.7 161.9,129.9 161.9,130.2 161.9,130 162,132.4 162.7,130.9 162.5,130 163.4,126.1 163.8,130.2 164.1,127.5 164.5,128.7 164.2,126.7 165.5,125.5 164.8,123.8 166,126.6 166,126.9 166.6,125 166.2,123.1 167.6,119.9 167.2,124.1 168.1,125.1 168.6,123.3 168.5,118.5 168.6,119.5 169.3,118.7 169.7,119.7 169.4,120.9 170,120.4 170.4,118.5 171.2,120.1 170.5,117.7 171.5,118.3 172,116.6 172.4,113.2 172.5,118.1 172.4,112.6 173.3,114.1 173.6,113.2 173.4,111.7 174,110.9 174.3,115.6 175.1,113.9 174.4,111.4 175.4,113.9 175.8,110.7 175.8,109.2 176.2,110.8 176.6,108.1 176.9,111.3 176.7,110.8 177.1,109 177.8,103.2 178.3,107.1 179,102.6 179.4,102.2 179.5,105 180.1,104.1 179.6,101.9 180.4,102.7 180.2,98.6 180.3,100.5 181.2,94.5 182,94.6 181.5,97.2 181.9,102.2 182.9,97.9 183.3,100.7 183.3,94.5 183.1,95.7 184.2,95.4 183.6,94.7 184.9,97.7 185,90.9 185,92 185.2,94.6 186.1,92 186,91.8 186.7,90.1 186.4,94.4 187.1,93.6 187.5,94.2 187.6,92.5 187.7,90.7 188.6,92.3 188.6,89.4 188.8,88.5 189.9,85.9 190.3,87.2 190,84.3 189.9,85.7 191.3,88 191.1,87.1 191.8,86.2 192,86.8 192,86.3 192.7,83.5 193.2,83.5 193.4,80.2 192.9,81.1 193.9,78.5 194,84.8 194.5,79.7 194.9,84 195.5,78.7 195.2,79.6 195.4,82.5 196,78 196.2,79.5 197,79.1 197.3,78.7 197.9,80.6 197.5,78.7 198.5,78.7 198.8,74.6 199.2,78 198.5,74.5 199.2,72.2 200.1,72.1 200.4,76.7 200.8,70.9 200.3,69.8 201.1,69.1 201.9,69.2 202.2,68.2 201.8,71.3 201.7,69.1 202.8,73 202.7,71.6 203.2,71.4 204.1,69.3 204.2,66.4 203.8,72.2 204.7,70 205,65.4 205.9,73.5 205.6,66 205.4,71.6 206.9,66.9 206.9,70.8 207.2,64.7 207.8,69.6 207,66.6 207.5,65.2 207.9,64.7 209,66.1 209.4,65.3 208.9,66.1 209.5,61.1 210.1,61.4 209.8,66.9 210.5,63.1 210.9,62.8 211.3,65.1 211.3,62.8 211.4,61.3 211.7,59.3 212.3,60.3 213,62.7 212.8,61.2 213.6,62.3 214.1,64.3 214.6,64.1 214.4,60.9 215.1,61.8 214.6,58.4 215.6,56.8 215.5,62.8 215.7,58.6 216.4,58.5 216.9,60.1 217.3,60.6 218,58.7 218.2,63.2 218.3,57.8 218.5,52.6 219.1,59.9 219,60.1 219.7,53.5 219.6,60.5 220.2,56.9 220.4,56.6 220.5,55.1 221.1,58.5 221.1,52.6 222.2,53.8 222.7,52.5 222,49.2 222.9,53.4 223.2,53 223.4,52 223.7,55.9 224.6,51.1 224.4,51.1 224.4,57.3 224.6,55.7 225.1,56.1 226,49.3 225.6,55.9 226.3,59 227.2,57.4 226.8,52.7 227.4,48.8 227.9,50.1 228.3,52.7 228.4,53.9 228.4,56.1 229.3,54.6 229.4,51.9 229.3,47.3 230.1,50.1 229.9,49.2 231.2,50.5 231.3,48.9 231.9,48.6 231.6,48.9 232.3,48.9 232.3,51.6 232.9,51.4 232.5,50.9 233.8,47.8 233.1,45.5 234.1,47.5 234.6,46.2 234.6,45.7 235,51.2 235.4,48.8 235.9,50.2 235.5,50.8 236.9,52.2 236.9,49.6 236.8,45.3 237.1,43.2 238.2,44.6 237.8,45.9 238.7,47.5 238.3,45.9 239.1,45.9 239.4,49 239.4,46.2 240.2,41.3 239.9,43.5 240.5,40.7 241,45.7 241.2,46.7 241.4,46.8 241.8,40.2 242.7,47.4 242.6,46 243.4,46.7 243.1,42.8 243.6,40.2 243.9,40.8 244.2,41 244.2,41.7 245,40.6 245.5,41 245.6,35.4 246.4,45.3 246.3,43.9 246.4,41.2 247.2,44.7 247.2,42.8 247,40.8 248.4,43.5 247.9,39.1 248.3,38 248.7,38.4 248.7,37.5 249.2,36.1 250,37.4 250.4,42.7 251,41.7 250.8,38 251,37.5 252,35.6 251.9,39.6 251.8,39.7 252.3,36.7 252.2,36.2 253,34.1 253.5,35 254.1,38.4 254.2,36 254.5,36.7 254.9,37.5 255.2,32.9 256,39.1 255.8,34.2 256.4,41.4 256.7,35 257,35.7 256.5,35.7 257.5,32.7 258,32.1 257.5,35.7 258.4,31.4 259.3,33.2 259.3,36.3 259.5,35.4 260,37.8 260.5,32 260.3,35.9 260.3,32.2 260.5,30.5 261.8,36.5 261.2,30.5 261.6,35.7 262.8,34.1 262.9,31.4 263.6,34.9 263.9,31.5 263.4,33.7 263.7,34.8 264.1,34.5 265.2,29 264.9,30.3 265.6,28.3 265.7,32.9 266.3,32.3 265.8,29 266.5,32.3 266.8,32.9 267.4,31.9 268,27.4 268.5,33.4 268.1,32.7 268.1,28.6 268.5,30.3 269,25.7 269.3,31.9 269.8,27.5 270.8,26.7 270.3,30 271.4,28.1 271.1,32.7 271.7,31.8 271.7,28.5 272,29.7 272.5,30.1 272.7,27.2 273.5,32.4 274.1,26.5 273.4,25.3 274.5,29.7 275,27.8 274.5,30.1 274.7,28 276.2,24.6 276.2,30.6 276.5,24 276.7,28.6 276.6,25.9 277.2,27.9 277.8,28 277.8,24.8 278.1,24.2 279,23.6 278.4,25.9 278.9,28 279.5,30.7 280.4,26.9 280,23.6 280.7,27 281.3,22.7 280.9,22.7 281.7,26.2 282.1,24.3 282.1,22.5 282.6,28.1 282.9,25.1 282.8,25.4 283.3,25.4 284.4,27.1 284.3,25.5 283.9,22.8 284.9,21.3 284.9,28.1 285.7,25.5 285.7,25.7 286.7,22.2 286,26 286.4,20.4 287.4,26.5 287.8,23.1 287.8,25.9 288.5,19.4 288.8,26.6 289,20.7 289.6,26 289.6,27.6 289.9,25.8 290.5,21.2 290.5,25 290.8,21.9 291.2,19.3 291.2,20.9 292.1,24.1 292.2,25.5 293,20 293.2,20.9 293.4,20.8 293.3,24.7 294.2,22.3 294.3,17.1 294.9,23.5 294.1,20.4 295,18.2 295.6,18.7 295.3,22.8 296,22.9 296.4,26 296.4,19.8 297.6,16.8 297.6,16.7 298.2,21.3" fill="none" stroke="#00ff00" stroke-width="1.5" stroke-linejoin="bevel" clip-path="url(#ci)"/>
<polyline points="90.3,290.8 91.1,289 91.9,287.8 91.5,285.9 91.5,286.5 92.5,284.6 92.2,285 93.4,281 93.9,279.4 93.6,284.5 93.8,282.5 94.7,277.6 94.5,277.1 95.6,277.1 94.9,275.2 95.8,276.9 95.8,273.2 96.4,272.3 97.3,275.6 96.5,273.3 97.2,275 97.8,273.9 97.9,273.5 98.1,268.4 98.7,268.7 99.4,267.1 99.2,266.2 99.2,268.9 100.4,265.8 100.4,265.3 100.7,266.7 100.6,261.7 101.5,261.9 101.1,263.7 102.1,259.2 102.3,263.4 102.3,257.2 102.8,256.9 103.8,257.9 103.8,257.1 103.7,256.2 104.5,254.8 104.8,256 105.1,252.3 105.2,251.3 105.6,254.8 105.7,249.6 105.7,248.5 107,248.9 106.6,247.8 107.8,246.1 108.1,243.2 107.8,247 107.7,244.7 109,243.3 109,244.5 109.3,243.8 109.9,240 109.6,241 110.4,236.8 110,240.4 111.4,239.8 111.3,239.3 111.8,236.6 112.1,233.6 111.7,236 112.8,232.3 112.7,231.9 112.8,232.7 113.4,230 113.7,229.5 114.8,231.4 114.4,226 114.9,222.8 115.7,226 115.3,227 116,223.6 116,223.2 116.3,226.1 116.8,219.8 117.2,222.6 117.9,221.6 118,223 118.2,222 119,216.3 118.9,218 119.6,216 119.3,219.3 120.4,213.6 120.4,217 120.8,214.1 120.7,211.2 121.2,214 121.9,213.7 121.5,211.2 121.8,211.8 122.2,207.2 123.3,209.9 123.5,205.1 123.4,206.7 123.9,203.5 124.3,201.4 124.6,204.7 124.9,202.8 124.8,202.2 125.3,203.8 126.3,199.5 126.2,197.5 126.8,201 127.2,199.6 127.6,201.8 127,194.9 128.3,197.8 127.9,194.3 128.7,196 128.4,191 129.5,193 129.9,191.6 129.4,194.1 130.6,193.6 130.1,188.3 130.6,188.4 131.1,190.8 131,186.8 131.7,186.6 132.2,184.8 132.7,186.3 132.1,185.6 133.5,186 132.9,180.5 133.9,183.9 133.9,179.3 134.2,182.6 135,177.8 134.6,181.3 135.1,180.1 135.7,181 135.4,176.1 136.1,175.2 136.8,176 136.6,172.9 137.9,176.8 137.7,174.6 138,172.7 138.7,170.4 139.2,173.3 138.8,168.2 139.3,167.7 139.2,170.7 139.6,171 140.4,170.4 140.2,164.4 140.8,163.8 141.3,169.1 141.6,162.9 141.3,161.9 142.3,162.4 142.1,162.9 143.4,158.1 143.4,162.7 143.3,164.2 143.5,159.4 144.4,158.8 144.4,160.9 145.2,156.6 145,158.5 145.5,156.9 145.5,153.5 145.8,156.1 147,154.8 146.7,155.6 146.7,157 147.1,153.5 147.3,150.6 147.8,151.5 148.3,149.1 148.4,148.8 149.2,149.2 149.7,152.4 150,145.9 150.2,150.6 150.2,148.2 151.4,148.9 150.9,145.4 151.8,143 151.8,147.2 152.4,147.6 152.8,143.6 153.1,145 153.3,141.8 153.5,139.6 153.6,144.7 154.2,143.9 154.1,140.5 155.3,137.8 155.4,136.7 155.2,139.6 155.9,136.8 155.9,137.5 156.6,135.5 157.2,137.6 157.1,138.9 157.7,135.1 158.2,136.5 158.4,139.8 158.6,135.5 158.9,130.6 158.8,129.5 159.4,134.4 159.2,133.5 160.5,134 160.2,127.7 160.3,132.5 160.7,127.1 161.5,129 162.3,129.2 162.1,128.6 162.8,126.9 162.7,128.1 162.6,129.6 162.9,125.4 164,126 164.1,122.5 164,121.8 165,124.3 165.2,123.8 165.8,122.6 166.1,121.9 165.9,124.8 166.6,120.8 166.2,122.8 167,118.9 167,117.9 167.5,117.8 168.5,120.8 168.7,121.1 168.5,116.7 168.9,119.4 169.3,120.1 169.8,120.9 169.5,116.3 170.8,118.3 170.5,118 170.6,112.7 171.1,119.1 172.1,113 171.4,118.1 172.6,113.9 172.2,113.7 172.4,109.9 173.2,116.5 174.1,113.9 174.4,112.9 173.9,112.5 175,113.5 174.9,111.4 175.3,114.5 175.2,113 176,111.8 176.6,106.5 176,107.5 176.3,106.5 177.6,107.8 177.9,107.6 177.8,103.6 178.2,107.3 178.1,106.3 178.3,105.3 178.7,101.5 179.6,101.4 180.2,106.6 180.5,107.6 180.5,102.9 180.5,99.1 181.6,104.3 181.1,101.3 181.9,101.8 182.1,99.4 182.4,99.2 183.1,100.7 183.2,100.7 183.6,97.6 183.7,96.5 183.9,97.4 184.8,97.2 184.6,96 185,96.9 185,95.4 185.7,92.4 185.6,95.9 186.1,94.2 186.9,93.6 187.7,90.5 187.1,92.5 187.6,90.5 187.9,91.8 188.5,91.9 188.8,90.2 189.7,90.3 189,87.1 190,89.5 189.6,88.1 190.9,88.2 190.7,86.2 191.7,88.6 190.9,87.4 191.9,85.6 192,84.3 192.9,83.4 193,85.8 193.5,85.3 193.1,83.1 193.6,82.3 193.8,84.4 194.8,83.8 194.9,81.3 195.5,80.2 195.9,83.2 195.2,80.7 195.8,81 196.8,79.1 197,79 196.6,81.1 197.9,81.7 197.9,78.9 198.3,78.3 198,78.1 198.2,77.7 199.4,78.2 199.6,78.3 199.4,77.1 200.2,78.5 200.6,76.3 200.6,77.4 201.4,77 200.8,75.1 202.1,74.2 202.2,77 202.8,73.3 202.5,76.4 202.4,74.3 203.3,75.3 203.1,77.2 204.3,71.7 204.4,73.1 205,73.5 204.8,71.7 205.5,73.6 205.8,70.6 206.4,70.6 206,72.3 206.2,71.2 206.8,69.7 207.2,72.7 207.9,70.4 208.3,69.4 208,70.4 208.9,70 208.6,70.2 209.6,68.3 209.8,70 210.5,70.7 210.8,67.4 210.1,67.1 210.3,66.8 211,69.2 211.4,69.1 211.9,68.3 212.3,67.7 212.7,66.2 213.2,65.4 213.5,68 213.4,64.7 213.8,64.4 214,64.3 214.1,64.5 214.4,65 214.9,65 215.5,66.2 216.1,66.4 216.3,65.9 216.5,62.5 216.8,65.2 216.7,63.3 217,63.9 217.8,63.4 218.4,61.6 218.8,61.3 219.2,62.3 218.7,63.1 219.9,62.3 219.2,60.4 220.5,60.5 220.9,62.4 221.4,62.6 221,62.1 221.4,61.3 222.3,62.4 222.7,59.4 222.9,62.6 223.1,60.7 222.6,61.5 223.5,58.9 223.5,59.7 224.4,58.9 224.1,59.4 224.3,58.2 224.6,57.9 225.3,61.1 226.1,60.2 226,59.4 225.9,60.1 226.1,60.3 227.5,60.2 227.4,56.4 228.1,57.4 227.8,58.3 228.4,55.7 229.3,55.4 228.9,56.1 229.3,58.8 229.1,55.7 230.4,58.6 230.1,58.8 230.5,58.8 230.5,58.2 231.2,54.2 231.8,54.9 231.9,57.1 232.6,55.5 232.2,55.4 233,56.2 233.7,54.1 233.6,56.5 233.6,58.1 234.6,53.8 234.6,54.3 234.7,53.7 234.7,53.6 235.9,55.5 235.4,54.6 236.5,54.3 236,55.4 237.1,54.8 236.9,52.9 237.6,50.6 237.7,51.2 238.1,54.5 238.2,51.6 238.8,52 239.6,50 239.5,53.3 239.7,52.6 240.8,51.3 240,54 241.1,51.2 241,51.7 241.3,49.2 241.7,49.3 242.2,49.8 242.4,49.5 242.4,51.2 243.1,47.9 243.1,50.1 243.8,48.1 243.7,49.3 244.8,48 244.6,50.4 245,46.9 245.9,49.5 246.2,44.9 246.1,49.5 246.5,48.6 246.3,47.2 246.8,49.7 248,48.3 247.8,49 248.2,49.1 248.3,46.9 249.3,46.4 249.6,46 249.4,44.7 250,44.5 250.5,44.8 250.2,45.7 251.4,46.6 251.5,44.9 252.1,43.4 252.1,43.8 252.5,46.8 252.3,44.1 252.4,45 252.5,43.7 254,42.9 254,43.3 254.1,41.7 254.6,42.2 255.3,44.9 254.6,44.4 255.9,42.5 255.4,42.9 256.3,42.6 256,44.3 256.8,41.9 257.3,42.5 257.1,44.2 257.7,40.3 258.3,40.2 258.9,41.2 259.2,41.9 259.4,41.7 259.9,41 259.9,42.8 259.5,39.8 260.6,40.3 260.6,40.6 261.6,39.1 261.7,40.3 262.2,40.6 262.1,40.4 262.3,41.7 263.1,39.6 263,38.1 263.2,38 263.3,38.5 263.8,37.2 264.4,37.2 264.5,39.2 265.5,37.1 264.8,39.8 265.8,36.6 266.6,34.7 266,37.9 266.7,39.1 266.4,37.6 267.6,36.1 267.6,37.6 268.5,36.3 268.2,37.6 269,34 268.4,37.1 269.5,37.3 269.5,36.3 269.9,38 269.9,38.1 270.2,35.7 271.3,37.8 271,34.2 272.1,33.9 271.9,37.2 272.1,36 272.7,37.5 272.6,34 273.5,36.7 273.5,33.1 274.5,35.5 274.8,36.8 274.9,34.6 274.8,33.4 275,32.6 275.3,34.4 275.3,34.6 276.7,34.1 276.6,33.7 276.9,34.4 277.3,31.3 277.9,34.5 278.4,31 277.9,31.6 279,33.8 278.8,31.2 279.2,34.1 279.6,30.5 279.3,32.5 280.3,30.9 281,32.3 280.7,33.7 280.7,32 281.4,30.3 282.4,31.5 282.5,29.6 282.5,30.6 283.4,29.9 282.9,29.1 283.5,28.7 283.7,31.7 284.4,31.6 284.6,30.7 285.4,29.3 284.9,27.9 285.9,30.8 286.3,30.1 286.6,27.4 287,27.8 286.9,27.6 286.6,27.3 287.6,27.3 287.6,30.6 287.9,26.9 288.8,27.7 288.8,27.7 289.3,28 290,28.5 289.7,29.3 290.4,28.8 290.1,27 290.8,27.2 291.4,27.2 292,26.7 291.4,24.7 291.7,25.7 292,24.4 293,26.7 293.4,25.6 292.8,26.7 293.7,26.1 293.9,25.2 293.9,25.5 294.9,23.1 294.5,26.3 295.9,25.6 296.1,25.5 296.1,25.3 296.8,20.4 297.2,23.9 297.2,22.1 297.1,23.6 297.6,23.6" fill="none" stroke="#0000ff" stroke-width="1.5" stroke-linejoin="bevel" clip-path="url(#ci)"/>
<polyline points="90.7,281.7 90.8,279.3 91.7,281.1 92.2,279.3 92.2,280.2 92.4,278.2 92.7,278.2 93.1,276.5 93.6,278.5 93.3,274.5 94.3,272.4 94.3,275.1 95,276 95.4,273.8 95.3,271.6 96.2,269.9 96,268.1 96,269.9 96.8,268.6 97.1,270.4 97,269 97.6,267.3 97.7,267.6 98.9,261.5 99.2,261.1 99.2,264.9 99.7,264.2 99.9,262.1 99.5,257.8 99.8,259.3 101,257.6 100.8,259.5 101,254.4 101.1,258.9 102.4,254.6 102.8,256.7 102.2,256.1 102.5,251.6 103.3,250.9 104.1,250.3 104.2,251.7 104.2,249 104.4,246.1 104.8,246.7 105.8,247.7 105.1,247.8 106.2,242.7 106.1,242.8 107,243.7 106.7,243.5 107.4,239.3 108,238.5 108.5,239.5 108.3,236 108.5,235.6 108.6,234.9 109.7,234.6 109.7,238.3 110.4,232.1 110,235.8 110,234.2 111.1,229.6 110.8,233 111,228.1 112,230.1 111.9,229.3 112.6,229.1 112.6,228.9 112.8,223.9 113.3,225.9 113.5,227.7 113.7,226.8 114.1,225.4 114.5,223.9 115.5,223.4 115.3,219.3 116.2,222.1 116.6,220.2 117,221 116.2,220.1 117.8,216.2 118,219.3 117.6,216.3 118.4,212.6 118.5,213.2 118.7,210.3 119.7,209.5 119.9,213.8 119.9,209.2 120,209.1 120,206.9 120.7,208.8 120.9,208.2 121,208 122.3,205.2 121.7,203.5 122.6,203.4 122.7,202.7 122.7,203 123.6,202.3 124.1,205.7 124.3,198.3 124.5,196.9 124.6,195.9 125.2,196.5 125.8,196.3 126,198 125.9,197 126.9,196.4 127.3,193.8 127.4,190.5 127.2,193.8 127.5,190.8 127.7,193.4 128.4,192.6 129.1,189.9 129.4,186.1 129.1,188.8 130.2,184.9 130.2,187.9 130.9,184.4 131.1,183 131.4,182.8 131.3,180.4 131.8,182.7 132.4,180.3 132.3,179.4 133.1,175.6 133.5,181.1 133.2,181.5 134,177 133.9,174.7 133.8,178.5 135.1,173.2 135.5,173.5 135.7,173.8 136.1,171.1 135.7,170.1 136.9,170 136.6,172.3 137.5,168 137.5,170.6 137.2,167.5 138.3,168 138.2,169.2 139,167 139.5,165.2 139,165.2 139.4,167.5 140.4,165.7 140,163.8 140.6,163.3 141.5,159.6 141,162.4 141.3,158.5 141.5,162.3 141.8,159.4 142.6,157.6 143.2,157.5 143.8,155.9 143,156.2 143.4,159.3 144.6,157.2 145,156.6 144.6,156.7 145.1,156.2 145.6,155.8 145.5,156.3 146,151.8 146.2,150.4 147.2,150.3 146.6,151.9 147.4,148.4 147.9,145.1 147.9,145.4 149.1,145.5 149.4,146.1 149.7,147.9 149.5,146.8 150.2,148.2 150.1,147.3 150,144.4 151,143.3 151.3,142 151.3,145.7 152.2,145 151.6,140 152.1,142.2 152.3,139.8 153.4,136.9 153.7,136.9 154.1,135.3 154.6,136.8 155,140.7 155.3,135.2 155.7,137.9 156,137.6 156.4,137.5 156,131.1 156.4,136.4 157,129.9 156.7,135.5 157.9,132.9 157.2,130 158.4,134.2 158.1,134 158.6,132.4 159.4,132.5 159.4,129.2 159.7,126.7 160.3,125.8 159.8,125.5 160.9,126.4 160.5,131.1 161.8,128.7 161.2,124.4 161.6,129.8 161.9,124.7 162.3,126.8 163.5,126.3 163.3,127 163.1,126.5 163.8,126.8 164.5,124.2 165.1,124.3 165.5,123.4 165.5,119.2 165.7,119 166.4,127.4 166.6,118.3 166.7,123.5 167.4,122.7 167.7,119.1 167.1,117.9 168.5,120.2 168.6,118.5 168.6,117.3 168.7,121.4 168.9,112.9 170.2,120.5 169.7,116.9 170.2,117.6 170.8,118.9 171,118.3 171.7,116.9 171.2,111.8 172.4,117.7 172.6,118.1 173,117 172.6,113.9 173.6,115.1 174,111 173.8,109.1 174.3,111.1 174.8,109 174.9,110.2 174.8,111.8 176.2,108.4 176.5,111.9 176,112.6 176.5,105.8 176.5,110.3 177.6,107.2 177.3,106.5 178.2,110.2 178.1,109.6 178.8,103.5 178.3,107.4 179.8,103.6 179.3,102.8 179.3,101.6 180,100.2 180.2,105.4 180.4,108 180.8,104.2 181.9,104.3 181.4,100.3 182.1,100.6 182.6,93.1 182.3,101.8 183.1,95.3 183.5,98.8 183.4,96.5 184.5,96 184.3,98.8 184.4,93.9 185.2,97.1 185.4,95.9 186,96.2 185.8,95 186,93 187.2,96 187.4,95.8 187.7,95.2 187.3,89.1 188.5,94.6 188.7,94.5 188.4,89.8 189.6,91.1 190,93.2 189.6,88.8 189.9,87 190.1,85.4 191.3,88.6 190.6,87.7 191.4,85.8 192.1,86 191.8,85.7 192.8,86.2 192.7,84.8 193.3,83.9 193.9,88 194.3,88.4 194,82.7 194.8,87.8 195,81.5 195.5,86.5 194.8,79.7 195.9,83.4 195.7,83.1 195.8,80.7 196.7,78.4 197.4,88 197.9,79.3 198.3,81.1 198.4,81.3 198.5,76.8 198.5,76.6 199.1,79.4 198.8,78.9 200.2,79.1 199.9,79.3 200.3,80.1 201.1,75 200.5,75.8 200.7,75.8 202.2,78.9 202.2,83.6 202.8,70.6 203.2,77.7 203.3,73.3 203.2,75.2 204.1,74.7 203.5,78.3 204.8,78.8 204.1,74.3 204.7,75.7 205.8,77.1 206,76.2 206.4,73.3 206.5,76.8 206.9,71.2 206.8,76.3 207,73.9 207.7,73.2 208.5,70.6 208.5,73.3 209,75.1 209.3,74.7 209.7,75.1 209,70.8 210.2,70.5 209.7,73.7 210.1,70.4 210.9,72.5 210.7,71.4 211.8,69.5 211.5,72.2 211.9,72 213,68.9 212.6,66.6 213.5,70 213.3,72.6 214,67.9 214.3,63.9 214.2,70.5 214.8,70 214.7,67 215.5,67.9 216.1,69.4 215.6,68.2 216.7,67.2 216.6,69.5 217.2,68.2 217.7,70.4 218.2,70.5 217.9,67.4 218.1,63.2 218.6,69.6 219.3,66.3 219.8,69.5 219.7,62.8 220.4,66.4 221,64.9 221.3,66.5 220.6,67.2 221.9,62.8 221.8,64.2 221.9,66.2 222.7,64.2 223.3,61.7 223.4,60.7 224,61.1 223.2,67.1 224.5,64.9 224.4,64.4 224.4,63.3 224.9,60.4 225.7,65.4 226.3,60.5 226.4,65.9 226.8,60.5 227.3,65.1 226.8,61.8 226.8,61.3 227.9,59.1 227.8,61.8 227.8,59.5 228.4,64.2 228.6,57.7 229.4,62.9 230,59.5 229.9,63.8 230.4,59.7 230.4,59.8 230.8,59.2 231.5,58.3 231.9,64.1 232.3,64.9 232.8,56.5 232.8,55 232.4,63.1 233.7,66.1 234,60.8 233.8,62.5 234.6,57.4 234.1,58.5 235.1,61.3 235.8,56.1 235.7,56.4 235.7,60.6 236.8,58.2 236.1,60.2 237.1,54.1 237.1,56.9 238.2,58.3 237.4,57.7 238.7,56.9 238.5,53.4 239.4,57.9 239.4,60.4 239.7,58.9 240.4,52.8 240.6,56.7 240.6,59.3 241,57.8 241,52.7 241.1,56.5 242.2,55.6 242.7,56.9 242.2,56.6 243.3,57.2 242.7,55.3 243.6,54.2 244.3,52.9 244,52.4 244.5,49.8 245.1,52.8 245.7,52.1 246.1,51.6 245.6,52.7 246,46.1 246.1,50.7 247.1,49.7 247.6,55.3 247,53.6 248.3,50.2 247.7,52.1 248.5,50.1 248.5,51.1 249.5,47.2 250.1,53.3 250,50.9 250.5,53.4 250.7,47.5 251.1,47.5 251.3,46.9 251,50.3 251.7,48.9 252.6,53.4 252.5,46.7 253,49.8 252.9,48.1 253.9,52.6 253.7,53 254.5,46.3 254.5,44.4 255.1,48.3 254.8,45.1 254.9,44.9 255.5,51 256,49.4 255.9,49 256.3,53.7 257.7,48.8 257.6,45.7 258,49.3 258,42.6 258.3,46.4 258.6,49.7 258.9,49.1 259.4,42.6 259.9,49.7 260.4,48.4 260.5,47.6 260.5,49.1 261,48.4 260.8,44.8 261.9,42.6 262,40.6 261.8,43.4 262.3,43.3 263.1,42.8 263.7,45.8 263.9,44.6 264,46.9 264.2,45.9 264.7,39.5 265.1,41.5 265.1,41.8 265.4,40.2 266.5,39.3 266.5,45.6 266.5,40 267.4,39.4 266.7,44.1 267.8,40.1 267.5,42 268.4,41.3 268.2,45.3 269.2,43.8 268.9,44 269.4,38.7 269.6,43.4 269.7,41 271,42.2 270.8,41.7 270.7,36.6 271.4,35.8 272.2,39.1 271.7,40.7 272.8,35.6 273.1,36.7 273.4,40.3 273.2,39.8 274.2,38.8 274.4,35 274.8,36.3 275,40.5 275.8,38.5 275.5,36.6 275.9,37.8 275.7,41.1 276.1,40 277.2,34.6 276.6,37.4 277.6,40.8 277.8,34.4 278.4,35.4 278.7,35 278.9,38.7 279.6,39.6 279.7,39.6 279.8,38.8 280.3,36.5 280.1,37.9 280.9,35.2 281.4,35.7 281,38.4 282.3,37.5 282.7,31.8 282,35.5 283.4,35.9 283.2,34.7 283.6,31.5 283.3,37.3 284.6,32.7 284.7,28.3 284.5,27.3 285.4,33.7 285.3,37 286.3,35.8 286.1,31.6 286.9,36.7 287.2,33.3 287.2,33.2 287.4,28.8 287.9,35.1 288,34.4 288.8,31.1 288.9,30.9 289.6,34.3 289.5,34.4 290,33.8 290,29 291,31.6 290.7,34.2 290.6,28.3 290.9,31.8 291.6,27.6 292.6,30.6 292.9,33.5 292.6,28.3 292.9,29.4 293.6,31 293.4,26.2 293.7,25.6 294.9,31.1 294.6,24.4 294.8,30.8 295,26.7 295.8,31 296.6,25.3 295.9,28.6 296.2,23.1 297,25.3 296.8,26.6 297.6,22" fill="none" stroke="#00ffff" stroke-width="1.5" stroke-linejoin="bevel" clip-path="url(#ci)"/>
<line x1="133.5" y1="208" x2="133.5" y2="223.6" stroke="#000" stroke-width="1.0"/>
<text transform="translate(5.6 27.7) scale(0.94 1)" font-size="23.5" text-anchor="start">a</text>
<text transform="translate(451.2 25.2) scale(0.97 1)" font-size="23.0" text-anchor="start">b</text>
<text transform="translate(449.7 423.8) scale(0.94 1)" font-size="23.5" text-anchor="start">c</text>
<text transform="translate(87.6 244.5) scale(0.945 1)" font-size="23.3" text-anchor="end">0.8</text>
<text transform="translate(87.6 193.8) scale(0.945 1)" font-size="23.3" text-anchor="end">1.0</text>
<text transform="translate(87.6 143.1) scale(0.945 1)" font-size="23.3" text-anchor="end">1.2</text>
<text transform="translate(87.6 92.4) scale(0.945 1)" font-size="23.3" text-anchor="end">1.4</text>
<text transform="translate(87.6 41.7) scale(0.945 1)" font-size="23.3" text-anchor="end">1.6</text>
<text transform="translate(94.8 301.5) scale(0.945 1)" font-size="23.3" text-anchor="middle">9</text>
<text transform="translate(135 301.5) scale(0.945 1)" font-size="23.3" text-anchor="middle">10</text>
<text transform="translate(175.3 301.5) scale(0.945 1)" font-size="23.3" text-anchor="middle">11</text>
<text transform="translate(215.5 301.5) scale(0.945 1)" font-size="23.3" text-anchor="middle">12</text>
<text transform="translate(255.8 301.5) scale(0.945 1)" font-size="23.3" text-anchor="middle">13</text>
<text transform="translate(296 301.5) scale(0.945 1)" font-size="23.3" text-anchor="middle">14</text>
<text transform="translate(86.8 734.9) scale(0.945 1)" font-size="23.3" text-anchor="end">0.0</text>
<text transform="translate(86.8 589.4) scale(0.945 1)" font-size="23.3" text-anchor="end">0.5</text>
<text transform="translate(86.8 443.9) scale(0.945 1)" font-size="23.3" text-anchor="end">1.0</text>
<text transform="translate(93.7 789.9) scale(0.945 1)" font-size="23.3" text-anchor="middle">0</text>
<text transform="translate(189.5 789.9) scale(0.945 1)" font-size="23.3" text-anchor="middle">5</text>
<text transform="translate(285.3 789.9) scale(0.945 1)" font-size="23.3" text-anchor="middle">10</text>
<text transform="translate(381.1 789.9) scale(0.945 1)" font-size="23.3" text-anchor="middle">15</text>
<text transform="translate(36.8 219.6) rotate(-90) scale(1.0 1)" font-size="22" text-anchor="start"><tspan font-style="italic" font-weight="normal">&#961;</tspan><tspan font-size="14" dy="7" font-style="italic">ab</tspan><tspan dy="-7" font-size="1">&#8203;</tspan> (m<tspan font-weight="normal">&#937;</tspan> cm)</text>
<text transform="translate(44.2 506.9) rotate(-90) scale(1.0 1)" font-size="22" text-anchor="start"><tspan font-style="italic" font-weight="normal">&#961;</tspan><tspan font-size="14" dy="7" font-style="italic">ab</tspan><tspan dy="-7" font-size="1">&#8203;</tspan> (m<tspan font-weight="normal">&#937;</tspan> cm)</text>
<text transform="translate(157 322.4) scale(1.0 1)" font-size="22.0" text-anchor="start"><tspan font-style="italic" font-weight="normal">&#956;</tspan><tspan font-size="14" dy="7" font-style="italic">0</tspan><tspan dy="-7" font-size="1">&#8203;</tspan><tspan font-style="italic">H</tspan> (T)</text>
<text transform="translate(224.3 823.7) scale(1.0 1)" font-size="22.0" text-anchor="start"><tspan font-style="italic" font-weight="normal">&#956;</tspan><tspan font-size="14" dy="7" font-style="italic">0</tspan><tspan dy="-7" font-size="1">&#8203;</tspan><tspan font-style="italic">H</tspan> (T)</text>
<text transform="translate(147.2 194.3) scale(1.0 1)" font-size="18.2" text-anchor="start"><tspan font-style="italic" font-weight="normal">&#956;</tspan><tspan font-size="11" dy="4" font-style="italic" font-weight="normal">0</tspan><tspan dy="-4" font-size="1">&#8203;</tspan><tspan font-style="italic">H</tspan><tspan font-size="11" dy="7" font-style="italic">cross</tspan><tspan dy="-7" font-size="1">&#8203;</tspan> = 11.01 T</text>
<text transform="translate(150.9 223.8) scale(1.0 1)" font-size="18.2" text-anchor="start"><tspan font-style="italic" font-weight="normal">&#961;</tspan><tspan font-size="11" dy="5" font-style="italic">ab</tspan><tspan dy="-5" font-size="1">&#8203;</tspan>(<tspan font-style="italic">H</tspan>=<tspan font-style="italic">H</tspan><tspan font-size="11" dy="6" font-style="italic">cross</tspan><tspan dy="-6" font-size="1">&#8203;</tspan>) =</text>
<text transform="translate(151.3 257.2) scale(1.0 1)" font-size="18.2" text-anchor="start">1.294 m<tspan font-weight="normal">&#937;</tspan> cm</text>
<line x1="190.9" y1="167" x2="181.8" y2="127.5" stroke="#000" stroke-width="1.4"/>
<path d="M180.3 121.3 L185.6 132.2 L182.1 130.3 L179.4 133.6 Z" fill="#000"/>
<line x1="295.9" y1="550.2" x2="325" y2="550.2" stroke="#000000" stroke-width="1.0"/>
<text transform="translate(330 554.8) scale(1.0 1)" font-size="19.6" text-anchor="start">50.2 mK</text>
<line x1="295.9" y1="574.8" x2="325" y2="574.8" stroke="#ff0000" stroke-width="1.0"/>
<text transform="translate(330 579.4) scale(1.0 1)" font-size="19.6" text-anchor="start">61.4 mK</text>
<line x1="295.9" y1="599.4" x2="325" y2="599.4" stroke="#00ff00" stroke-width="1.0"/>
<text transform="translate(330 604) scale(1.0 1)" font-size="19.6" text-anchor="start">70.3 mK</text>
<line x1="295.9" y1="624.1" x2="325" y2="624.1" stroke="#0000ff" stroke-width="1.0"/>
<text transform="translate(330 628.7) scale(1.0 1)" font-size="19.6" text-anchor="start">82.2 mK</text>
<line x1="295.9" y1="648.7" x2="325" y2="648.7" stroke="#00ffff" stroke-width="1.0"/>
<text transform="translate(330 653.3) scale(1.0 1)" font-size="19.6" text-anchor="start">92.7 mK</text>
<path d="M522.4 363.3L522.4 358.9M522.4 18.4L522.4 22.8M526 363.3L526 355.7M526 18.4L526 26M549.6 363.3L549.6 358.9M549.6 18.4L549.6 22.8M563.4 363.3L563.4 358.9M563.4 18.4L563.4 22.8M573.2 363.3L573.2 358.9M573.2 18.4L573.2 22.8M580.8 363.3L580.8 358.9M580.8 18.4L580.8 22.8M587 363.3L587 358.9M587 18.4L587 22.8M592.3 363.3L592.3 358.9M592.3 18.4L592.3 22.8M596.8 363.3L596.8 358.9M596.8 18.4L596.8 22.8M600.8 363.3L600.8 358.9M600.8 18.4L600.8 22.8M604.4 363.3L604.4 355.7M604.4 18.4L604.4 26M628 363.3L628 358.9M628 18.4L628 22.8M641.8 363.3L641.8 358.9M641.8 18.4L641.8 22.8M651.6 363.3L651.6 358.9M651.6 18.4L651.6 22.8M659.2 363.3L659.2 358.9M659.2 18.4L659.2 22.8M665.4 363.3L665.4 358.9M665.4 18.4L665.4 22.8M670.7 363.3L670.7 358.9M670.7 18.4L670.7 22.8M675.2 363.3L675.2 358.9M675.2 18.4L675.2 22.8M679.2 363.3L679.2 358.9M679.2 18.4L679.2 22.8M682.8 363.3L682.8 355.7M682.8 18.4L682.8 26M706.4 363.3L706.4 358.9M706.4 18.4L706.4 22.8M720.2 363.3L720.2 358.9M720.2 18.4L720.2 22.8M730 363.3L730 358.9M730 18.4L730 22.8M737.6 363.3L737.6 358.9M737.6 18.4L737.6 22.8M743.8 363.3L743.8 358.9M743.8 18.4L743.8 22.8M749.1 363.3L749.1 358.9M749.1 18.4L749.1 22.8M753.6 363.3L753.6 358.9M753.6 18.4L753.6 22.8M757.6 363.3L757.6 358.9M757.6 18.4L757.6 22.8M761.2 363.3L761.2 355.7M761.2 18.4L761.2 26M784.8 363.3L784.8 358.9M784.8 18.4L784.8 22.8M798.6 363.3L798.6 358.9M798.6 18.4L798.6 22.8M808.4 363.3L808.4 358.9M808.4 18.4L808.4 22.8M816 363.3L816 358.9M816 18.4L816 22.8M822.2 363.3L822.2 358.9M822.2 18.4L822.2 22.8M827.5 363.3L827.5 358.9M827.5 18.4L827.5 22.8M832 363.3L832 358.9M832 18.4L832 22.8M836 363.3L836 358.9M836 18.4L836 22.8M839.6 363.3L839.6 355.7M839.6 18.4L839.6 26M518.5 334.1L523.1 334.1M863.6 334.1L859 334.1M518.5 286.2L526.3 286.2M863.6 286.2L855.8 286.2M518.5 238.3L523.1 238.3M863.6 238.3L859 238.3M518.5 190.4L526.3 190.4M863.6 190.4L855.8 190.4M518.5 142.5L523.1 142.5M863.6 142.5L859 142.5M518.5 94.6L526.3 94.6M863.6 94.6L855.8 94.6M518.5 46.7L523.1 46.7M863.6 46.7L859 46.7" stroke="#000" stroke-width="2.4" fill="none"/>
<g clip-path="url(#cb)">
<rect x="602.2" y="312.9" width="8.0" height="8.0" fill="#00ff00"/>
<rect x="609.1" y="296.5" width="8.0" height="8.0" fill="#00ff00"/>
<rect x="613.7" y="285.5" width="8.0" height="8.0" fill="#00ff00"/>
<rect x="619" y="273" width="8.0" height="8.0" fill="#00ff00"/>
<rect x="623.1" y="263.2" width="8.0" height="8.0" fill="#00ff00"/>
<rect x="606.1" y="301.9" width="8.0" height="8.0" fill="#0000ff"/>
<rect x="613" y="287.9" width="8.0" height="8.0" fill="#0000ff"/>
<rect x="617.6" y="275.8" width="8.0" height="8.0" fill="#0000ff"/>
<rect x="622.9" y="261.8" width="8.0" height="8.0" fill="#0000ff"/>
<rect x="627" y="254.9" width="8.0" height="8.0" fill="#0000ff"/>
<rect x="610.4" y="292.8" width="8.0" height="8.0" fill="#00ffff"/>
<rect x="617.3" y="276.5" width="8.0" height="8.0" fill="#00ffff"/>
<rect x="621.9" y="263.3" width="8.0" height="8.0" fill="#00ffff"/>
<rect x="627.2" y="254.5" width="8.0" height="8.0" fill="#00ffff"/>
<rect x="631.3" y="246.4" width="8.0" height="8.0" fill="#00ffff"/>
<rect x="615.3" y="281.3" width="8.0" height="8.0" fill="#ff00ff"/>
<rect x="622.1" y="263.8" width="8.0" height="8.0" fill="#ff00ff"/>
<rect x="626.7" y="254.5" width="8.0" height="8.0" fill="#ff00ff"/>
<rect x="632" y="245.7" width="8.0" height="8.0" fill="#ff00ff"/>
<rect x="636.1" y="237.5" width="8.0" height="8.0" fill="#ff00ff"/>
<rect x="620.7" y="266.6" width="8.0" height="8.0" fill="#ffff00"/>
<rect x="627.6" y="253.9" width="8.0" height="8.0" fill="#ffff00"/>
<rect x="632.2" y="243.7" width="8.0" height="8.0" fill="#ffff00"/>
<rect x="637.5" y="238.2" width="8.0" height="8.0" fill="#ffff00"/>
<rect x="641.6" y="231.5" width="8.0" height="8.0" fill="#ffff00"/>
<rect x="627" y="254.2" width="8.0" height="8.0" fill="#808000"/>
<rect x="633.8" y="242.5" width="8.0" height="8.0" fill="#808000"/>
<rect x="638.5" y="236" width="8.0" height="8.0" fill="#808000"/>
<rect x="643.8" y="228" width="8.0" height="8.0" fill="#808000"/>
<rect x="647.9" y="224" width="8.0" height="8.0" fill="#808000"/>
<rect x="634.4" y="241.7" width="8.0" height="8.0" fill="#000080"/>
<rect x="641.3" y="232.4" width="8.0" height="8.0" fill="#000080"/>
<rect x="645.9" y="226.7" width="8.0" height="8.0" fill="#000080"/>
<rect x="651.2" y="220.7" width="8.0" height="8.0" fill="#000080"/>
<rect x="655.3" y="217.9" width="8.0" height="8.0" fill="#000080"/>
<rect x="643.4" y="229.9" width="8.0" height="8.0" fill="#800080"/>
<rect x="650.3" y="221.5" width="8.0" height="8.0" fill="#800080"/>
<rect x="654.9" y="216.7" width="8.0" height="8.0" fill="#800080"/>
<rect x="660.2" y="213.4" width="8.0" height="8.0" fill="#800080"/>
<rect x="664.3" y="211" width="8.0" height="8.0" fill="#800080"/>
<rect x="648.8" y="223.4" width="8.0" height="8.0" fill="#800000"/>
<rect x="655.7" y="217.3" width="8.0" height="8.0" fill="#800000"/>
<rect x="660.3" y="213.1" width="8.0" height="8.0" fill="#800000"/>
<rect x="665.6" y="210.7" width="8.0" height="8.0" fill="#800000"/>
<rect x="669.7" y="207.1" width="8.0" height="8.0" fill="#800000"/>
<rect x="655" y="219.2" width="8.0" height="8.0" fill="#008000"/>
<rect x="661.8" y="212.4" width="8.0" height="8.0" fill="#008000"/>
<rect x="666.5" y="210.4" width="8.0" height="8.0" fill="#008000"/>
<rect x="671.8" y="207.8" width="8.0" height="8.0" fill="#008000"/>
<rect x="675.9" y="204.6" width="8.0" height="8.0" fill="#008000"/>
<rect x="657.7" y="216.5" width="8.0" height="8.0" fill="#008080"/>
<rect x="664.6" y="211.1" width="8.0" height="8.0" fill="#008080"/>
<rect x="669.2" y="207.5" width="8.0" height="8.0" fill="#008080"/>
<rect x="674.5" y="205.8" width="8.0" height="8.0" fill="#008080"/>
<rect x="678.6" y="203.7" width="8.0" height="8.0" fill="#008080"/>
<rect x="660.7" y="213.6" width="8.0" height="8.0" fill="#0000a0"/>
<rect x="667.6" y="208.5" width="8.0" height="8.0" fill="#0000a0"/>
<rect x="672.2" y="206.1" width="8.0" height="8.0" fill="#0000a0"/>
<rect x="677.5" y="203.3" width="8.0" height="8.0" fill="#0000a0"/>
<rect x="681.6" y="202.4" width="8.0" height="8.0" fill="#0000a0"/>
<rect x="663.9" y="210.7" width="8.0" height="8.0" fill="#ff8000"/>
<rect x="670.7" y="207.4" width="8.0" height="8.0" fill="#ff8000"/>
<rect x="675.4" y="204.2" width="8.0" height="8.0" fill="#ff8000"/>
<rect x="680.7" y="202" width="8.0" height="8.0" fill="#ff8000"/>
<rect x="684.8" y="201.4" width="8.0" height="8.0" fill="#ff8000"/>
<rect x="667.3" y="208.3" width="8.0" height="8.0" fill="#8000ff"/>
<rect x="674.2" y="206" width="8.0" height="8.0" fill="#8000ff"/>
<rect x="678.8" y="202.7" width="8.0" height="8.0" fill="#8000ff"/>
<rect x="684.1" y="202.3" width="8.0" height="8.0" fill="#8000ff"/>
<rect x="688.2" y="201.2" width="8.0" height="8.0" fill="#8000ff"/>
<rect x="671.1" y="207.2" width="8.0" height="8.0" fill="#ff0080"/>
<rect x="678" y="204.6" width="8.0" height="8.0" fill="#ff0080"/>
<rect x="682.6" y="201.2" width="8.0" height="8.0" fill="#ff0080"/>
<rect x="687.9" y="200.8" width="8.0" height="8.0" fill="#ff0080"/>
<rect x="692" y="199.6" width="8.0" height="8.0" fill="#ff0080"/>
<rect x="675.2" y="203.9" width="8.0" height="8.0" fill="#000000"/>
<rect x="682.1" y="201.6" width="8.0" height="8.0" fill="#000000"/>
<rect x="686.7" y="200.5" width="8.0" height="8.0" fill="#000000"/>
<rect x="692" y="198.6" width="8.0" height="8.0" fill="#000000"/>
<rect x="696.1" y="197.2" width="8.0" height="8.0" fill="#000000"/>
<rect x="679.8" y="202.8" width="8.0" height="8.0" fill="#ff0000"/>
<rect x="686.7" y="200.1" width="8.0" height="8.0" fill="#ff0000"/>
<rect x="691.3" y="198.5" width="8.0" height="8.0" fill="#ff0000"/>
<rect x="696.6" y="197.1" width="8.0" height="8.0" fill="#ff0000"/>
<rect x="700.7" y="194.6" width="8.0" height="8.0" fill="#ff0000"/>
<rect x="685" y="201.6" width="8.0" height="8.0" fill="#00ff00"/>
<rect x="691.9" y="199.6" width="8.0" height="8.0" fill="#00ff00"/>
<rect x="696.5" y="198.1" width="8.0" height="8.0" fill="#00ff00"/>
<rect x="701.8" y="196" width="8.0" height="8.0" fill="#00ff00"/>
<rect x="705.9" y="195.1" width="8.0" height="8.0" fill="#00ff00"/>
<rect x="690.9" y="198.5" width="8.0" height="8.0" fill="#0000ff"/>
<rect x="697.8" y="196.2" width="8.0" height="8.0" fill="#0000ff"/>
<rect x="702.4" y="196.6" width="8.0" height="8.0" fill="#0000ff"/>
<rect x="707.7" y="196.1" width="8.0" height="8.0" fill="#0000ff"/>
<rect x="711.8" y="195.5" width="8.0" height="8.0" fill="#0000ff"/>
<rect x="697.9" y="196.6" width="8.0" height="8.0" fill="#00ffff"/>
<rect x="704.7" y="195.2" width="8.0" height="8.0" fill="#00ffff"/>
<rect x="709.3" y="194.1" width="8.0" height="8.0" fill="#00ffff"/>
<rect x="714.6" y="193.1" width="8.0" height="8.0" fill="#00ffff"/>
<rect x="718.7" y="192.8" width="8.0" height="8.0" fill="#00ffff"/>
<rect x="701.8" y="197.4" width="8.0" height="8.0" fill="#ff00ff"/>
<rect x="708.7" y="195.2" width="8.0" height="8.0" fill="#ff00ff"/>
<rect x="713.3" y="193.2" width="8.0" height="8.0" fill="#ff00ff"/>
<rect x="718.6" y="192.8" width="8.0" height="8.0" fill="#ff00ff"/>
<rect x="722.7" y="192.9" width="8.0" height="8.0" fill="#ff00ff"/>
<rect x="706.2" y="196.2" width="8.0" height="8.0" fill="#ffff00"/>
<rect x="713" y="193.4" width="8.0" height="8.0" fill="#ffff00"/>
<rect x="717.6" y="192.7" width="8.0" height="8.0" fill="#ffff00"/>
<rect x="722.9" y="193.3" width="8.0" height="8.0" fill="#ffff00"/>
<rect x="727" y="191" width="8.0" height="8.0" fill="#ffff00"/>
<rect x="711" y="193.2" width="8.0" height="8.0" fill="#808000"/>
<rect x="717.9" y="192.9" width="8.0" height="8.0" fill="#808000"/>
<rect x="722.5" y="191.2" width="8.0" height="8.0" fill="#808000"/>
<rect x="727.8" y="191.9" width="8.0" height="8.0" fill="#808000"/>
<rect x="731.9" y="192" width="8.0" height="8.0" fill="#808000"/>
<rect x="716.5" y="194.4" width="8.0" height="8.0" fill="#000080"/>
<rect x="723.4" y="191.3" width="8.0" height="8.0" fill="#000080"/>
<rect x="728" y="191.8" width="8.0" height="8.0" fill="#000080"/>
<rect x="733.3" y="191.8" width="8.0" height="8.0" fill="#000080"/>
<rect x="737.4" y="190.5" width="8.0" height="8.0" fill="#000080"/>
<rect x="722.9" y="192.3" width="8.0" height="8.0" fill="#800080"/>
<rect x="729.8" y="191" width="8.0" height="8.0" fill="#800080"/>
<rect x="734.4" y="190.4" width="8.0" height="8.0" fill="#800080"/>
<rect x="739.7" y="190" width="8.0" height="8.0" fill="#800080"/>
<rect x="743.8" y="190.1" width="8.0" height="8.0" fill="#800080"/>
<rect x="730.5" y="189.5" width="8.0" height="8.0" fill="#800000"/>
<rect x="737.3" y="189.6" width="8.0" height="8.0" fill="#800000"/>
<rect x="741.9" y="189.9" width="8.0" height="8.0" fill="#800000"/>
<rect x="747.3" y="189.1" width="8.0" height="8.0" fill="#800000"/>
<rect x="751.4" y="188.5" width="8.0" height="8.0" fill="#800000"/>
<rect x="739.7" y="190.6" width="8.0" height="8.0" fill="#008000"/>
<rect x="746.6" y="189.7" width="8.0" height="8.0" fill="#008000"/>
<rect x="751.2" y="189.6" width="8.0" height="8.0" fill="#008000"/>
<rect x="756.5" y="186.6" width="8.0" height="8.0" fill="#008000"/>
<rect x="760.6" y="188.2" width="8.0" height="8.0" fill="#008000"/>
<rect x="751.6" y="189.2" width="8.0" height="8.0" fill="#008080"/>
<rect x="758.5" y="188.7" width="8.0" height="8.0" fill="#008080"/>
<rect x="763.1" y="188.4" width="8.0" height="8.0" fill="#008080"/>
<rect x="768.4" y="187.2" width="8.0" height="8.0" fill="#008080"/>
<rect x="772.5" y="188.1" width="8.0" height="8.0" fill="#008080"/>
<rect x="768.4" y="187.3" width="8.0" height="8.0" fill="#0000a0"/>
<rect x="775.2" y="187.8" width="8.0" height="8.0" fill="#0000a0"/>
<rect x="779.8" y="187" width="8.0" height="8.0" fill="#0000a0"/>
<rect x="785.2" y="187.1" width="8.0" height="8.0" fill="#0000a0"/>
<rect x="789.3" y="187.3" width="8.0" height="8.0" fill="#0000a0"/>
<rect x="797.1" y="186.7" width="8.0" height="8.0" fill="#ff8000"/>
<rect x="803.9" y="188.2" width="8.0" height="8.0" fill="#ff8000"/>
<rect x="808.5" y="187.6" width="8.0" height="8.0" fill="#ff8000"/>
<rect x="813.8" y="187.6" width="8.0" height="8.0" fill="#ff8000"/>
<rect x="817.9" y="187.3" width="8.0" height="8.0" fill="#ff8000"/>
<rect x="803.7" y="186.5" width="8.0" height="8.0" fill="#000000"/>
<rect x="810.5" y="186.4" width="8.0" height="8.0" fill="#000000"/>
<rect x="815.1" y="186.5" width="8.0" height="8.0" fill="#000000"/>
<rect x="820.5" y="186.4" width="8.0" height="8.0" fill="#000000"/>
<rect x="824.5" y="185.4" width="8.0" height="8.0" fill="#000000"/>
<rect x="771.8" y="183.3" width="8.0" height="8.0" fill="#ff0000"/>
<rect x="778.7" y="185.9" width="8.0" height="8.0" fill="#ff0000"/>
<rect x="783.3" y="184" width="8.0" height="8.0" fill="#ff0000"/>
<rect x="788.6" y="185.1" width="8.0" height="8.0" fill="#ff0000"/>
<rect x="792.7" y="186" width="8.0" height="8.0" fill="#ff0000"/>
<rect x="753.2" y="181.8" width="8.0" height="8.0" fill="#00ff00"/>
<rect x="760" y="183.3" width="8.0" height="8.0" fill="#00ff00"/>
<rect x="764.6" y="185.8" width="8.0" height="8.0" fill="#00ff00"/>
<rect x="770" y="183.5" width="8.0" height="8.0" fill="#00ff00"/>
<rect x="774.1" y="184.2" width="8.0" height="8.0" fill="#00ff00"/>
<rect x="739.9" y="181.2" width="8.0" height="8.0" fill="#0000ff"/>
<rect x="746.8" y="181.9" width="8.0" height="8.0" fill="#0000ff"/>
<rect x="751.4" y="182.4" width="8.0" height="8.0" fill="#0000ff"/>
<rect x="756.7" y="183.1" width="8.0" height="8.0" fill="#0000ff"/>
<rect x="760.8" y="182.4" width="8.0" height="8.0" fill="#0000ff"/>
<rect x="729.7" y="179.9" width="8.0" height="8.0" fill="#00ffff"/>
<rect x="736.5" y="180.9" width="8.0" height="8.0" fill="#00ffff"/>
<rect x="741.2" y="181" width="8.0" height="8.0" fill="#00ffff"/>
<rect x="746.5" y="181.5" width="8.0" height="8.0" fill="#00ffff"/>
<rect x="750.6" y="182.3" width="8.0" height="8.0" fill="#00ffff"/>
<rect x="721.3" y="176.9" width="8.0" height="8.0" fill="#ff00ff"/>
<rect x="728.2" y="179.5" width="8.0" height="8.0" fill="#ff00ff"/>
<rect x="732.8" y="179.1" width="8.0" height="8.0" fill="#ff00ff"/>
<rect x="738.1" y="179.9" width="8.0" height="8.0" fill="#ff00ff"/>
<rect x="742.2" y="182.3" width="8.0" height="8.0" fill="#ff00ff"/>
<rect x="714.2" y="176.1" width="8.0" height="8.0" fill="#ffff00"/>
<rect x="721.1" y="176.7" width="8.0" height="8.0" fill="#ffff00"/>
<rect x="725.7" y="178" width="8.0" height="8.0" fill="#ffff00"/>
<rect x="731" y="179.6" width="8.0" height="8.0" fill="#ffff00"/>
<rect x="735.1" y="180.5" width="8.0" height="8.0" fill="#ffff00"/>
<rect x="702.7" y="171.6" width="8.0" height="8.0" fill="#808000"/>
<rect x="709.5" y="173.7" width="8.0" height="8.0" fill="#808000"/>
<rect x="714.1" y="175.2" width="8.0" height="8.0" fill="#808000"/>
<rect x="719.5" y="177.1" width="8.0" height="8.0" fill="#808000"/>
<rect x="723.6" y="177.9" width="8.0" height="8.0" fill="#808000"/>
<rect x="689.4" y="169.4" width="8.0" height="8.0" fill="#000080"/>
<rect x="696.3" y="172" width="8.0" height="8.0" fill="#000080"/>
<rect x="700.9" y="173.1" width="8.0" height="8.0" fill="#000080"/>
<rect x="706.2" y="174.2" width="8.0" height="8.0" fill="#000080"/>
<rect x="710.3" y="175.3" width="8.0" height="8.0" fill="#000080"/>
<rect x="676.2" y="166.1" width="8.0" height="8.0" fill="#800080"/>
<rect x="683.1" y="168.3" width="8.0" height="8.0" fill="#800080"/>
<rect x="687.7" y="168.4" width="8.0" height="8.0" fill="#800080"/>
<rect x="693" y="171.2" width="8.0" height="8.0" fill="#800080"/>
<rect x="697.1" y="170.5" width="8.0" height="8.0" fill="#800080"/>
<rect x="668.3" y="162.6" width="8.0" height="8.0" fill="#800000"/>
<rect x="675.2" y="165.7" width="8.0" height="8.0" fill="#800000"/>
<rect x="679.8" y="166.2" width="8.0" height="8.0" fill="#800000"/>
<rect x="685.1" y="169.1" width="8.0" height="8.0" fill="#800000"/>
<rect x="689.2" y="170.4" width="8.0" height="8.0" fill="#800000"/>
<rect x="657.6" y="159.1" width="8.0" height="8.0" fill="#008000"/>
<rect x="664.4" y="161.2" width="8.0" height="8.0" fill="#008000"/>
<rect x="669" y="163.8" width="8.0" height="8.0" fill="#008000"/>
<rect x="674.4" y="165.3" width="8.0" height="8.0" fill="#008000"/>
<rect x="678.5" y="166.1" width="8.0" height="8.0" fill="#008000"/>
<rect x="648.9" y="154.7" width="8.0" height="8.0" fill="#008080"/>
<rect x="655.7" y="156.9" width="8.0" height="8.0" fill="#008080"/>
<rect x="660.4" y="161.3" width="8.0" height="8.0" fill="#008080"/>
<rect x="665.7" y="163.3" width="8.0" height="8.0" fill="#008080"/>
<rect x="669.8" y="165.2" width="8.0" height="8.0" fill="#008080"/>
<rect x="635.3" y="146.2" width="8.0" height="8.0" fill="#0000a0"/>
<rect x="642.1" y="150.6" width="8.0" height="8.0" fill="#0000a0"/>
<rect x="646.7" y="152.6" width="8.0" height="8.0" fill="#0000a0"/>
<rect x="652.1" y="156.5" width="8.0" height="8.0" fill="#0000a0"/>
<rect x="656.2" y="158.3" width="8.0" height="8.0" fill="#0000a0"/>
<rect x="624.8" y="137.2" width="8.0" height="8.0" fill="#ff8000"/>
<rect x="631.6" y="144.3" width="8.0" height="8.0" fill="#ff8000"/>
<rect x="636.2" y="147.4" width="8.0" height="8.0" fill="#ff8000"/>
<rect x="641.6" y="151.3" width="8.0" height="8.0" fill="#ff8000"/>
<rect x="645.7" y="151.1" width="8.0" height="8.0" fill="#ff8000"/>
<rect x="616.2" y="131.4" width="8.0" height="8.0" fill="#8000ff"/>
<rect x="623.1" y="138.3" width="8.0" height="8.0" fill="#8000ff"/>
<rect x="627.7" y="141.1" width="8.0" height="8.0" fill="#8000ff"/>
<rect x="633" y="144.9" width="8.0" height="8.0" fill="#8000ff"/>
<rect x="637.1" y="148.9" width="8.0" height="8.0" fill="#8000ff"/>
<rect x="609" y="122.4" width="8.0" height="8.0" fill="#ff0080"/>
<rect x="615.9" y="129.1" width="8.0" height="8.0" fill="#ff0080"/>
<rect x="620.5" y="135.6" width="8.0" height="8.0" fill="#ff0080"/>
<rect x="625.8" y="139.1" width="8.0" height="8.0" fill="#ff0080"/>
<rect x="629.9" y="142" width="8.0" height="8.0" fill="#ff0080"/>
<rect x="602.8" y="115.6" width="8.0" height="8.0" fill="#000000"/>
<rect x="609.7" y="124.1" width="8.0" height="8.0" fill="#000000"/>
<rect x="614.3" y="129.9" width="8.0" height="8.0" fill="#000000"/>
<rect x="619.6" y="134.1" width="8.0" height="8.0" fill="#000000"/>
<rect x="623.7" y="138" width="8.0" height="8.0" fill="#000000"/>
<rect x="597.3" y="111.5" width="8.0" height="8.0" fill="#ff0000"/>
<rect x="604.2" y="117.5" width="8.0" height="8.0" fill="#ff0000"/>
<rect x="608.8" y="122" width="8.0" height="8.0" fill="#ff0000"/>
<rect x="614.1" y="128.1" width="8.0" height="8.0" fill="#ff0000"/>
<rect x="618.2" y="133" width="8.0" height="8.0" fill="#ff0000"/>
<rect x="592.4" y="104.6" width="8.0" height="8.0" fill="#00ff00"/>
<rect x="599.3" y="111.8" width="8.0" height="8.0" fill="#00ff00"/>
<rect x="603.9" y="116.8" width="8.0" height="8.0" fill="#00ff00"/>
<rect x="609.2" y="122.7" width="8.0" height="8.0" fill="#00ff00"/>
<rect x="613.3" y="127.2" width="8.0" height="8.0" fill="#00ff00"/>
<rect x="588" y="99" width="8.0" height="8.0" fill="#0000ff"/>
<rect x="594.9" y="108.1" width="8.0" height="8.0" fill="#0000ff"/>
<rect x="599.5" y="113" width="8.0" height="8.0" fill="#0000ff"/>
<rect x="604.8" y="118.5" width="8.0" height="8.0" fill="#0000ff"/>
<rect x="608.9" y="123" width="8.0" height="8.0" fill="#0000ff"/>
<rect x="584" y="94.9" width="8.0" height="8.0" fill="#00ffff"/>
<rect x="590.8" y="104.4" width="8.0" height="8.0" fill="#00ffff"/>
<rect x="595.5" y="108.5" width="8.0" height="8.0" fill="#00ffff"/>
<rect x="600.8" y="113.5" width="8.0" height="8.0" fill="#00ffff"/>
<rect x="604.9" y="117.3" width="8.0" height="8.0" fill="#00ffff"/>
<rect x="576.8" y="84.9" width="8.0" height="8.0" fill="#ff00ff"/>
<rect x="583.7" y="93.7" width="8.0" height="8.0" fill="#ff00ff"/>
<rect x="588.3" y="100.7" width="8.0" height="8.0" fill="#ff00ff"/>
<rect x="593.6" y="106.6" width="8.0" height="8.0" fill="#ff00ff"/>
<rect x="597.7" y="109.8" width="8.0" height="8.0" fill="#ff00ff"/>
<rect x="570.7" y="76.1" width="8.0" height="8.0" fill="#ffff00"/>
<rect x="577.5" y="86.2" width="8.0" height="8.0" fill="#ffff00"/>
<rect x="582.1" y="93.6" width="8.0" height="8.0" fill="#ffff00"/>
<rect x="587.5" y="99.4" width="8.0" height="8.0" fill="#ffff00"/>
<rect x="591.6" y="105.2" width="8.0" height="8.0" fill="#ffff00"/>
<rect x="565.2" y="67.7" width="8.0" height="8.0" fill="#808000"/>
<rect x="572.1" y="78.6" width="8.0" height="8.0" fill="#808000"/>
<rect x="576.7" y="84.6" width="8.0" height="8.0" fill="#808000"/>
<rect x="582" y="93.3" width="8.0" height="8.0" fill="#808000"/>
<rect x="586.1" y="98.6" width="8.0" height="8.0" fill="#808000"/>
<rect x="562.7" y="64" width="8.0" height="8.0" fill="#000080"/>
<rect x="569.6" y="74.8" width="8.0" height="8.0" fill="#000080"/>
<rect x="574.2" y="80" width="8.0" height="8.0" fill="#000080"/>
<rect x="579.5" y="89.4" width="8.0" height="8.0" fill="#000080"/>
<rect x="583.6" y="93.3" width="8.0" height="8.0" fill="#000080"/>
<rect x="554.2" y="50.9" width="8.0" height="8.0" fill="#800080"/>
<rect x="561.1" y="60.9" width="8.0" height="8.0" fill="#800080"/>
<rect x="565.7" y="69.1" width="8.0" height="8.0" fill="#800080"/>
<rect x="571" y="76.9" width="8.0" height="8.0" fill="#800080"/>
<rect x="575.1" y="81.9" width="8.0" height="8.0" fill="#800080"/>
</g>
<rect x="518.5" y="18.4" width="345.1" height="344.9" fill="none" stroke="#000" stroke-width="2.7"/>
<rect x="620.3" y="30.3" width="8.0" height="8.0" fill="#000000"/>
<text transform="translate(640.4 38.2) scale(1.0 1)" font-size="11.0" text-anchor="start">11.02 T</text>
<rect x="620.3" y="44.4" width="8.0" height="8.0" fill="#ff0000"/>
<text transform="translate(640.4 52.3) scale(1.0 1)" font-size="11.0" text-anchor="start">11.03 T</text>
<rect x="620.3" y="58.6" width="8.0" height="8.0" fill="#00ff00"/>
<text transform="translate(640.4 66.5) scale(1.0 1)" font-size="11.0" text-anchor="start">11.04 T</text>
<rect x="620.3" y="72.8" width="8.0" height="8.0" fill="#0000ff"/>
<text transform="translate(640.4 80.7) scale(1.0 1)" font-size="11.0" text-anchor="start">11.05 T</text>
<rect x="620.3" y="86.9" width="8.0" height="8.0" fill="#00ffff"/>
<text transform="translate(640.4 94.8) scale(1.0 1)" font-size="11.0" text-anchor="start">11.06 T</text>
<rect x="620.3" y="101" width="8.0" height="8.0" fill="#ff00ff"/>
<text transform="translate(640.4 109) scale(1.0 1)" font-size="11.0" text-anchor="start">11.07 T</text>
<rect x="620.3" y="115.2" width="8.0" height="8.0" fill="#ffff00"/>
<text transform="translate(640.4 123.1) scale(1.0 1)" font-size="11.0" text-anchor="start">11.08 T</text>
<rect x="684.1" y="31" width="8.0" height="8.0" fill="#808000"/>
<text transform="translate(704.3 38.9) scale(1.0 1)" font-size="11.0" text-anchor="start">11.1 T</text>
<rect x="684.1" y="45.1" width="8.0" height="8.0" fill="#000080"/>
<text transform="translate(704.3 53) scale(1.0 1)" font-size="11.0" text-anchor="start">11.13 T</text>
<rect x="684.1" y="59.3" width="8.0" height="8.0" fill="#800080"/>
<text transform="translate(704.3 67.2) scale(1.0 1)" font-size="11.0" text-anchor="start">11.17 T</text>
<rect x="684.1" y="73.5" width="8.0" height="8.0" fill="#800000"/>
<text transform="translate(704.3 81.4) scale(1.0 1)" font-size="11.0" text-anchor="start">11.2 T</text>
<rect x="684.1" y="87.6" width="8.0" height="8.0" fill="#008000"/>
<text transform="translate(704.3 95.5) scale(1.0 1)" font-size="11.0" text-anchor="start">11.25 T</text>
<rect x="684.1" y="101.8" width="8.0" height="8.0" fill="#008080"/>
<text transform="translate(704.3 109.7) scale(1.0 1)" font-size="11.0" text-anchor="start">11.3 T</text>
<rect x="684.1" y="115.9" width="8.0" height="8.0" fill="#0000a0"/>
<text transform="translate(704.3 123.8) scale(1.0 1)" font-size="11.0" text-anchor="start">11.4 T</text>
<rect x="746.9" y="31.4" width="8.0" height="8.0" fill="#ff8000"/>
<text transform="translate(767.9 39.3) scale(1.0 1)" font-size="11.0" text-anchor="start">11.5 T</text>
<rect x="746.9" y="45.5" width="8.0" height="8.0" fill="#8000ff"/>
<text transform="translate(767.9 53.4) scale(1.0 1)" font-size="11.0" text-anchor="start">11.6 T</text>
<rect x="746.9" y="59.7" width="8.0" height="8.0" fill="#ff0080"/>
<text transform="translate(767.9 67.6) scale(1.0 1)" font-size="11.0" text-anchor="start">11.7 T</text>
<rect x="746.9" y="73.8" width="8.0" height="8.0" fill="#000000"/>
<text transform="translate(767.9 81.8) scale(1.0 1)" font-size="11.0" text-anchor="start">11.8 T</text>
<rect x="746.9" y="88" width="8.0" height="8.0" fill="#ff0000"/>
<text transform="translate(767.9 95.9) scale(1.0 1)" font-size="11.0" text-anchor="start">11.9 T</text>
<rect x="746.9" y="102.2" width="8.0" height="8.0" fill="#00ff00"/>
<text transform="translate(767.9 110.1) scale(1.0 1)" font-size="11.0" text-anchor="start">12 T</text>
<rect x="746.9" y="116.3" width="8.0" height="8.0" fill="#0000ff"/>
<text transform="translate(767.9 124.2) scale(1.0 1)" font-size="11.0" text-anchor="start">12.1 T</text>
<rect x="805.8" y="31.8" width="8.0" height="8.0" fill="#00ffff"/>
<text transform="translate(825.9 39.7) scale(1.0 1)" font-size="11.0" text-anchor="start">12.2 T</text>
<rect x="805.8" y="45.9" width="8.0" height="8.0" fill="#ff00ff"/>
<text transform="translate(825.9 53.8) scale(1.0 1)" font-size="11.0" text-anchor="start">12.4 T</text>
<rect x="805.8" y="60.1" width="8.0" height="8.0" fill="#ffff00"/>
<text transform="translate(825.9 68) scale(1.0 1)" font-size="11.0" text-anchor="start">12.6 T</text>
<rect x="805.8" y="74.2" width="8.0" height="8.0" fill="#808000"/>
<text transform="translate(825.9 82.2) scale(1.0 1)" font-size="11.0" text-anchor="start">12.8 T</text>
<rect x="805.8" y="88.4" width="8.0" height="8.0" fill="#000080"/>
<text transform="translate(825.9 96.3) scale(1.0 1)" font-size="11.0" text-anchor="start">13 T</text>
<rect x="805.8" y="102.5" width="8.0" height="8.0" fill="#800080"/>
<text transform="translate(825.9 110.5) scale(1.0 1)" font-size="11.0" text-anchor="start">13.5 T</text>
<rect x="622.3" y="311.2" width="8.0" height="8.0" fill="#00ff00"/>
<text transform="translate(642.6 319.1) scale(1.0 1)" font-size="11.0" text-anchor="start">9.9 T</text>
<rect x="622.3" y="325.3" width="8.0" height="8.0" fill="#0000ff"/>
<text transform="translate(642.6 333.2) scale(1.0 1)" font-size="11.0" text-anchor="start">10 T</text>
<rect x="622.3" y="339.5" width="8.0" height="8.0" fill="#00ffff"/>
<text transform="translate(642.6 347.4) scale(1.0 1)" font-size="11.0" text-anchor="start">10.1 T</text>
<rect x="676.6" y="240.3" width="8.0" height="8.0" fill="#ff00ff"/>
<text transform="translate(697.1 248.2) scale(1.0 1)" font-size="11.0" text-anchor="start">10.2 T</text>
<rect x="676.6" y="254.4" width="8.0" height="8.0" fill="#ffff00"/>
<text transform="translate(697.1 262.3) scale(1.0 1)" font-size="11.0" text-anchor="start">10.3 T</text>
<rect x="676.6" y="268.6" width="8.0" height="8.0" fill="#808000"/>
<text transform="translate(697.1 276.5) scale(1.0 1)" font-size="11.0" text-anchor="start">10.4 T</text>
<rect x="676.6" y="282.8" width="8.0" height="8.0" fill="#000080"/>
<text transform="translate(697.1 290.6) scale(1.0 1)" font-size="11.0" text-anchor="start">10.5 T</text>
<rect x="676.6" y="296.9" width="8.0" height="8.0" fill="#800080"/>
<text transform="translate(697.1 304.8) scale(1.0 1)" font-size="11.0" text-anchor="start">10.6 T</text>
<rect x="676.6" y="311.1" width="8.0" height="8.0" fill="#800000"/>
<text transform="translate(697.1 318.9) scale(1.0 1)" font-size="11.0" text-anchor="start">10.65 T</text>
<rect x="676.6" y="325.2" width="8.0" height="8.0" fill="#008000"/>
<text transform="translate(697.1 333.1) scale(1.0 1)" font-size="11.0" text-anchor="start">10.7 T</text>
<rect x="676.6" y="339.4" width="8.0" height="8.0" fill="#008080"/>
<text transform="translate(697.1 347.2) scale(1.0 1)" font-size="11.0" text-anchor="start">10.72 T</text>
<rect x="739" y="228.4" width="8.0" height="8.0" fill="#0000a0"/>
<text transform="translate(759.4 236.3) scale(1.0 1)" font-size="11.0" text-anchor="start">10.74 T</text>
<rect x="739" y="242.6" width="8.0" height="8.0" fill="#ff8000"/>
<text transform="translate(759.4 250.5) scale(1.0 1)" font-size="11.0" text-anchor="start">10.76 T</text>
<rect x="739" y="256.7" width="8.0" height="8.0" fill="#8000ff"/>
<text transform="translate(759.4 264.6) scale(1.0 1)" font-size="11.0" text-anchor="start">10.78 T</text>
<rect x="739" y="270.9" width="8.0" height="8.0" fill="#ff0080"/>
<text transform="translate(759.4 278.8) scale(1.0 1)" font-size="11.0" text-anchor="start">10.8 T</text>
<rect x="739" y="285" width="8.0" height="8.0" fill="#000000"/>
<text transform="translate(759.4 292.9) scale(1.0 1)" font-size="11.0" text-anchor="start">10.82 T</text>
<rect x="739" y="299.1" width="8.0" height="8.0" fill="#ff0000"/>
<text transform="translate(759.4 307) scale(1.0 1)" font-size="11.0" text-anchor="start">10.84 T</text>
<rect x="739" y="313.3" width="8.0" height="8.0" fill="#00ff00"/>
<text transform="translate(759.4 321.2) scale(1.0 1)" font-size="11.0" text-anchor="start">10.86 T</text>
<rect x="739" y="327.4" width="8.0" height="8.0" fill="#0000ff"/>
<text transform="translate(759.4 335.3) scale(1.0 1)" font-size="11.0" text-anchor="start">10.88 T</text>
<rect x="739" y="341.6" width="8.0" height="8.0" fill="#00ffff"/>
<text transform="translate(759.4 349.5) scale(1.0 1)" font-size="11.0" text-anchor="start">10.9 T</text>
<rect x="802.1" y="214.8" width="8.0" height="8.0" fill="#ff00ff"/>
<text transform="translate(822.2 222.7) scale(1.0 1)" font-size="11.0" text-anchor="start">10.91 T</text>
<rect x="802.1" y="229" width="8.0" height="8.0" fill="#ffff00"/>
<text transform="translate(822.2 236.9) scale(1.0 1)" font-size="11.0" text-anchor="start">10.92 T</text>
<rect x="802.1" y="243.1" width="8.0" height="8.0" fill="#808000"/>
<text transform="translate(822.2 251) scale(1.0 1)" font-size="11.0" text-anchor="start">10.93 T</text>
<rect x="802.1" y="257.2" width="8.0" height="8.0" fill="#000080"/>
<text transform="translate(822.2 265.1) scale(1.0 1)" font-size="11.0" text-anchor="start">10.94 T</text>
<rect x="802.1" y="271.4" width="8.0" height="8.0" fill="#800080"/>
<text transform="translate(822.2 279.3) scale(1.0 1)" font-size="11.0" text-anchor="start">10.95 T</text>
<rect x="802.1" y="285.6" width="8.0" height="8.0" fill="#800000"/>
<text transform="translate(822.2 293.4) scale(1.0 1)" font-size="11.0" text-anchor="start">10.96 T</text>
<rect x="802.1" y="299.7" width="8.0" height="8.0" fill="#008000"/>
<text transform="translate(822.2 307.6) scale(1.0 1)" font-size="11.0" text-anchor="start">10.97 T</text>
<rect x="802.1" y="313.9" width="8.0" height="8.0" fill="#008080"/>
<text transform="translate(822.2 321.8) scale(1.0 1)" font-size="11.0" text-anchor="start">10.98 T</text>
<rect x="802.1" y="328" width="8.0" height="8.0" fill="#0000a0"/>
<text transform="translate(822.2 335.9) scale(1.0 1)" font-size="11.0" text-anchor="start">10.99 T</text>
<rect x="802.1" y="342.2" width="8.0" height="8.0" fill="#ff8000"/>
<text transform="translate(822.2 350.1) scale(1.0 1)" font-size="11.0" text-anchor="start">11 T</text>
<text transform="translate(541 41.5) scale(1.0 1)" font-size="18.0" text-anchor="start">H&gt;H<tspan font-size="11.3" dy="8" >cross</tspan><tspan dy="-8" font-size="1">&#8203;</tspan><tspan dx="0.3" dy="-1" font-size="17">:</tspan></text>
<text transform="translate(542.6 343) scale(1.0 1)" font-size="18.0" text-anchor="start">H&lt;H<tspan font-size="11.3" dy="7" >cross</tspan><tspan dy="-7" font-size="1">&#8203;</tspan><tspan dx="0.3" dy="-1" font-size="17">:</tspan></text>
<text transform="translate(510.8 293.5) scale(0.945 1)" font-size="23.3" text-anchor="end">0.8</text>
<text transform="translate(510.8 197.7) scale(0.945 1)" font-size="23.3" text-anchor="end">1.0</text>
<text transform="translate(510.8 101.9) scale(0.945 1)" font-size="23.3" text-anchor="end">1.2</text>
<text transform="translate(526.8 391.4) scale(1.0 1)" font-size="22.3" text-anchor="middle">10<tspan font-size="13" dy="-11">-3</tspan></text>
<text transform="translate(605.2 391.4) scale(1.0 1)" font-size="22.3" text-anchor="middle">10<tspan font-size="13" dy="-11">-2</tspan></text>
<text transform="translate(683.6 391.4) scale(1.0 1)" font-size="22.3" text-anchor="middle">10<tspan font-size="13" dy="-11">-1</tspan></text>
<text transform="translate(762 391.4) scale(1.0 1)" font-size="22.3" text-anchor="middle">10<tspan font-size="13" dy="-11">0</tspan></text>
<text transform="translate(822 390.2) scale(1.0 1)" font-size="23.0" text-anchor="start"><tspan font-style="italic">T</tspan>/<tspan font-style="italic">T</tspan>*</text>
<text transform="translate(465.2 295.2) rotate(-90) scale(1.0 1)" font-size="21.2" text-anchor="start"><tspan font-style="italic" font-weight="normal">&#961;</tspan><tspan font-size="13.8" dy="7" font-style="italic">ab</tspan><tspan dy="-7" font-size="1">&#8203;</tspan>/<tspan font-style="italic" font-weight="normal">&#961;</tspan><tspan font-size="13.8" dy="7" font-style="italic">ab</tspan><tspan dy="-7" font-size="1">&#8203;</tspan>(<tspan font-style="italic">H</tspan>=<tspan font-style="italic">H</tspan><tspan font-size="13.8" dy="7" font-style="italic">cross</tspan><tspan dy="-7" font-size="1">&#8203;</tspan>)</text>
<path d="M535.4 764L535.4 759.6M535.4 418.9L535.4 423.3M548.6 764L548.6 759.6M548.6 418.9L548.6 423.3M558.8 764L558.8 759.6M558.8 418.9L558.8 423.3M567.1 764L567.1 759.6M567.1 418.9L567.1 423.3M574.1 764L574.1 759.6M574.1 418.9L574.1 423.3M580.2 764L580.2 759.6M580.2 418.9L580.2 423.3M585.6 764L585.6 759.6M585.6 418.9L585.6 423.3M590.4 764L590.4 756.4M590.4 418.9L590.4 426.5M622 764L622 759.6M622 418.9L622 423.3M640.5 764L640.5 759.6M640.5 418.9L640.5 423.3M653.7 764L653.7 759.6M653.7 418.9L653.7 423.3M663.9 764L663.9 759.6M663.9 418.9L663.9 423.3M672.2 764L672.2 759.6M672.2 418.9L672.2 423.3M679.2 764L679.2 759.6M679.2 418.9L679.2 423.3M685.3 764L685.3 759.6M685.3 418.9L685.3 423.3M690.7 764L690.7 759.6M690.7 418.9L690.7 423.3M695.5 764L695.5 756.4M695.5 418.9L695.5 426.5M727.1 764L727.1 759.6M727.1 418.9L727.1 423.3M745.6 764L745.6 759.6M745.6 418.9L745.6 423.3M758.8 764L758.8 759.6M758.8 418.9L758.8 423.3M769 764L769 759.6M769 418.9L769 423.3M777.3 764L777.3 759.6M777.3 418.9L777.3 423.3M784.3 764L784.3 759.6M784.3 418.9L784.3 423.3M790.4 764L790.4 759.6M790.4 418.9L790.4 423.3M795.8 764L795.8 759.6M795.8 418.9L795.8 423.3M800.6 764L800.6 756.4M800.6 418.9L800.6 426.5M832.2 764L832.2 759.6M832.2 418.9L832.2 423.3M850.7 764L850.7 759.6M850.7 418.9L850.7 423.3M518.8 749.9L523.2 749.9M863.6 749.9L859.2 749.9M518.8 740.2L523.2 740.2M863.6 740.2L859.2 740.2M518.8 732.6L523.2 732.6M863.6 732.6L859.2 732.6M518.8 726.4L523.2 726.4M863.6 726.4L859.2 726.4M518.8 721.1L523.2 721.1M863.6 721.1L859.2 721.1M518.8 716.6L523.2 716.6M863.6 716.6L859.2 716.6M518.8 712.6L523.2 712.6M863.6 712.6L859.2 712.6M518.8 709L526.4 709M863.6 709L856 709M518.8 685.4L523.2 685.4M863.6 685.4L859.2 685.4M518.8 671.6L523.2 671.6M863.6 671.6L859.2 671.6M518.8 661.9L523.2 661.9M863.6 661.9L859.2 661.9M518.8 654.3L523.2 654.3M863.6 654.3L859.2 654.3M518.8 648.1L523.2 648.1M863.6 648.1L859.2 648.1M518.8 642.8L523.2 642.8M863.6 642.8L859.2 642.8M518.8 638.3L523.2 638.3M863.6 638.3L859.2 638.3M518.8 634.3L523.2 634.3M863.6 634.3L859.2 634.3M518.8 630.7L526.4 630.7M863.6 630.7L856 630.7M518.8 607.1L523.2 607.1M863.6 607.1L859.2 607.1M518.8 593.3L523.2 593.3M863.6 593.3L859.2 593.3M518.8 583.6L523.2 583.6M863.6 583.6L859.2 583.6M518.8 576L523.2 576M863.6 576L859.2 576M518.8 569.8L523.2 569.8M863.6 569.8L859.2 569.8M518.8 564.5L523.2 564.5M863.6 564.5L859.2 564.5M518.8 560L523.2 560M863.6 560L859.2 560M518.8 556L523.2 556M863.6 556L859.2 556M518.8 552.4L526.4 552.4M863.6 552.4L856 552.4M518.8 528.8L523.2 528.8M863.6 528.8L859.2 528.8M518.8 515L523.2 515M863.6 515L859.2 515M518.8 505.3L523.2 505.3M863.6 505.3L859.2 505.3M518.8 497.7L523.2 497.7M863.6 497.7L859.2 497.7M518.8 491.5L523.2 491.5M863.6 491.5L859.2 491.5M518.8 486.2L523.2 486.2M863.6 486.2L859.2 486.2M518.8 481.7L523.2 481.7M863.6 481.7L859.2 481.7M518.8 477.7L523.2 477.7M863.6 477.7L859.2 477.7M518.8 474.1L526.4 474.1M863.6 474.1L856 474.1M518.8 450.5L523.2 450.5M863.6 450.5L859.2 450.5M518.8 436.7L523.2 436.7M863.6 436.7L859.2 436.7M518.8 427L523.2 427M863.6 427L859.2 427" stroke="#000" stroke-width="2.4" fill="none"/>
<g clip-path="url(#cc)">
<rect x="582" y="696.7" width="8.0" height="8.0" fill="#000"/>
<rect x="613.6" y="664.5" width="8.0" height="8.0" fill="#000"/>
<rect x="632.2" y="645.9" width="8.0" height="8.0" fill="#000"/>
<rect x="645.3" y="634.1" width="8.0" height="8.0" fill="#000"/>
<rect x="655.5" y="621.1" width="8.0" height="8.0" fill="#000"/>
<rect x="663.8" y="615.3" width="8.0" height="8.0" fill="#000"/>
<rect x="670.8" y="607" width="8.0" height="8.0" fill="#000"/>
<rect x="682.3" y="595.1" width="8.0" height="8.0" fill="#000"/>
<rect x="695.4" y="581.8" width="8.0" height="8.0" fill="#000"/>
<rect x="708.6" y="571.3" width="8.0" height="8.0" fill="#000"/>
<rect x="716.4" y="561.2" width="8.0" height="8.0" fill="#000"/>
<rect x="727.1" y="550.4" width="8.0" height="8.0" fill="#000"/>
<rect x="735.7" y="541.4" width="8.0" height="8.0" fill="#000"/>
<rect x="749.2" y="528.7" width="8.0" height="8.0" fill="#000"/>
<rect x="759.6" y="517.1" width="8.0" height="8.0" fill="#000"/>
<rect x="768.1" y="507.3" width="8.0" height="8.0" fill="#000"/>
<rect x="775.3" y="502.2" width="8.0" height="8.0" fill="#000"/>
<rect x="781.4" y="495.4" width="8.0" height="8.0" fill="#000"/>
<rect x="786.9" y="489.9" width="8.0" height="8.0" fill="#000"/>
<rect x="791.7" y="484.6" width="8.0" height="8.0" fill="#000"/>
<rect x="796.1" y="479.4" width="8.0" height="8.0" fill="#000"/>
<rect x="800.1" y="475.9" width="8.0" height="8.0" fill="#000"/>
<rect x="807.2" y="469.7" width="8.0" height="8.0" fill="#000"/>
<rect x="813.4" y="464.5" width="8.0" height="8.0" fill="#000"/>
<rect x="818.8" y="457.7" width="8.0" height="8.0" fill="#000"/>
<rect x="823.6" y="455.9" width="8.0" height="8.0" fill="#000"/>
<rect x="833.8" y="448" width="8.0" height="8.0" fill="#000"/>
<rect x="797" y="479.9" width="8.0" height="8.0" fill="#ff0000"/>
<rect x="792.7" y="483.9" width="8.0" height="8.0" fill="#ff0000"/>
<rect x="787.9" y="491.3" width="8.0" height="8.0" fill="#ff0000"/>
<rect x="782.6" y="496.9" width="8.0" height="8.0" fill="#ff0000"/>
<rect x="776.6" y="501.2" width="8.0" height="8.0" fill="#ff0000"/>
<rect x="769.6" y="507.8" width="8.0" height="8.0" fill="#ff0000"/>
<rect x="761.5" y="517.7" width="8.0" height="8.0" fill="#ff0000"/>
<rect x="751.5" y="527.1" width="8.0" height="8.0" fill="#ff0000"/>
<rect x="745.6" y="532.3" width="8.0" height="8.0" fill="#ff0000"/>
<rect x="738.8" y="539.7" width="8.0" height="8.0" fill="#ff0000"/>
<rect x="735.7" y="540.9" width="8.0" height="8.0" fill="#ff0000"/>
<rect x="732.4" y="546.5" width="8.0" height="8.0" fill="#ff0000"/>
<rect x="728.9" y="549.4" width="8.0" height="8.0" fill="#ff0000"/>
<rect x="725.1" y="552.2" width="8.0" height="8.0" fill="#ff0000"/>
<rect x="721" y="556.9" width="8.0" height="8.0" fill="#ff0000"/>
<rect x="716.4" y="563.2" width="8.0" height="8.0" fill="#ff0000"/>
<rect x="711.3" y="566.3" width="8.0" height="8.0" fill="#ff0000"/>
<rect x="705.6" y="572.2" width="8.0" height="8.0" fill="#ff0000"/>
<rect x="699.1" y="579.1" width="8.0" height="8.0" fill="#ff0000"/>
<rect x="691.5" y="587.6" width="8.0" height="8.0" fill="#ff0000"/>
<rect x="687.1" y="591.1" width="8.0" height="8.0" fill="#ff0000"/>
<rect x="682.3" y="594.5" width="8.0" height="8.0" fill="#ff0000"/>
<rect x="676.9" y="600.6" width="8.0" height="8.0" fill="#ff0000"/>
<rect x="670.8" y="607.7" width="8.0" height="8.0" fill="#ff0000"/>
<rect x="663.8" y="614.6" width="8.0" height="8.0" fill="#ff0000"/>
<rect x="655.5" y="622.4" width="8.0" height="8.0" fill="#ff0000"/>
<rect x="645.3" y="632.6" width="8.0" height="8.0" fill="#ff0000"/>
<rect x="632.2" y="647" width="8.0" height="8.0" fill="#ff0000"/>
<rect x="613.6" y="664.2" width="8.0" height="8.0" fill="#ff0000"/>
<rect x="582" y="696.1" width="8.0" height="8.0" fill="#ff0000"/>
<rect x="551.5" y="727.6" width="8.0" height="8.0" fill="#ff0000"/>
<line x1="555.5" y1="731.3" x2="840" y2="445" stroke="#00ff00" stroke-width="2.5" stroke-dasharray="10 4.8"/>
</g>
<rect x="518.8" y="418.9" width="344.8" height="345.1" fill="none" stroke="#000" stroke-width="2.7"/>
<text transform="translate(511 482.1) scale(1.0 1)" font-size="22.3" text-anchor="end">10<tspan font-size="13" dy="-11">1</tspan></text>
<text transform="translate(511 560.4) scale(1.0 1)" font-size="22.3" text-anchor="end">10<tspan font-size="13" dy="-11">0</tspan></text>
<text transform="translate(511 638.7) scale(1.0 1)" font-size="22.3" text-anchor="end">10<tspan font-size="13" dy="-11">-1</tspan></text>
<text transform="translate(511 717) scale(1.0 1)" font-size="22.3" text-anchor="end">10<tspan font-size="13" dy="-11">-2</tspan></text>
<text transform="translate(591.4 792.2) scale(1.0 1)" font-size="22.3" text-anchor="middle">10<tspan font-size="13" dy="-11">-3</tspan></text>
<text transform="translate(696.5 792.2) scale(1.0 1)" font-size="22.3" text-anchor="middle">10<tspan font-size="13" dy="-11">-2</tspan></text>
<text transform="translate(801.6 792.2) scale(1.0 1)" font-size="22.3" text-anchor="middle">10<tspan font-size="13" dy="-11">-1</tspan></text>
<text transform="translate(466.5 634.6) rotate(-90) scale(1.0 1)" font-size="22" text-anchor="start"><tspan font-style="italic">T</tspan>* (K)</text>
<text transform="translate(611.8 828.7) scale(1.0 1)" font-size="22.0" text-anchor="start">|<tspan font-style="italic">H-H</tspan><tspan font-size="13.3" dy="4" font-style="italic">cross</tspan><tspan dy="-4" font-size="1">&#8203;</tspan>|/<tspan font-style="italic">H</tspan><tspan font-size="13.3" dy="4" font-style="italic">cross</tspan><tspan dy="-4" font-size="1">&#8203;</tspan></text>
<rect x="737" y="643.7" width="8.0" height="8.0" fill="#000"/>
<rect x="737" y="668.9" width="8.0" height="8.0" fill="#ff0000"/>
<text transform="translate(763.8 653.5) scale(1.0 1)" font-size="16.5" text-anchor="start"><tspan font-style="italic">H &gt; H</tspan><tspan font-size="9.7" dy="5.5" font-style="italic">cross</tspan><tspan dy="-5.5" font-size="1">&#8203;</tspan></text>
<text transform="translate(763.8 678.7) scale(1.0 1)" font-size="16.5" text-anchor="start"><tspan font-style="italic">H &lt; H</tspan><tspan font-size="9.7" dy="5.5" font-style="italic">cross</tspan><tspan dy="-5.5" font-size="1">&#8203;</tspan></text>
<text transform="translate(701.6 721) scale(1.0 1)" font-size="17.3" text-anchor="start">zv = 1.35 <tspan font-weight="normal">&#177;</tspan> 0.01</text>
</g>
</svg>
</body></html>
